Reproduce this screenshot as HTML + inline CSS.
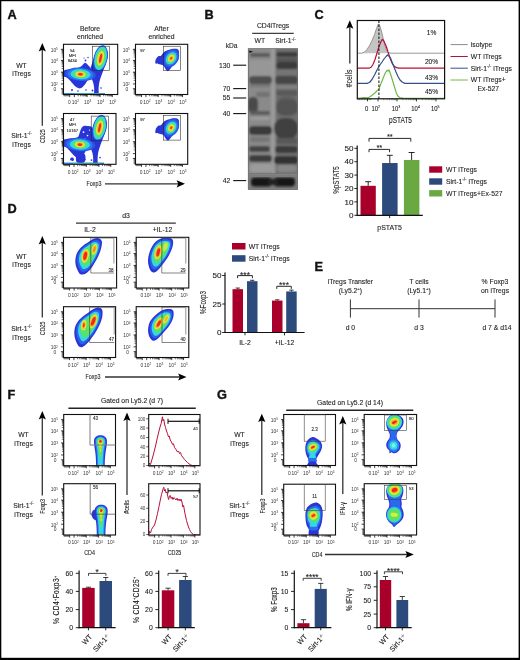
<!DOCTYPE html>
<html><head><meta charset="utf-8"><title>Figure</title>
<style>
html,body{margin:0;padding:0;background:#fff;}
body{width:520px;height:660px;overflow:hidden;font-family:"Liberation Sans", sans-serif;}
svg{display:block;font-family:"Liberation Sans", sans-serif;}
</style></head><body>
<svg width="520" height="660" viewBox="0 0 520 660">
<defs>
<filter id="soft" x="-10%" y="-10%" width="120%" height="120%"><feGaussianBlur stdDeviation="0.45"/></filter>
<filter id="blot" x="-5%" y="-5%" width="110%" height="110%"><feGaussianBlur stdDeviation="1.1"/></filter>
<filter id="txt" x="-5%" y="-5%" width="110%" height="110%"><feGaussianBlur stdDeviation="0.25"/></filter>
</defs>
<rect x="0" y="0" width="520" height="660" fill="#fff"/>
<rect x="0.00" y="0.00" width="520.00" height="1.20" fill="#000" stroke="none" stroke-width="1" />
<rect x="0.00" y="0.00" width="1.30" height="660.00" fill="#000" stroke="none" stroke-width="1" />
<rect x="0.00" y="657.80" width="520.00" height="2.20" fill="#000" stroke="none" stroke-width="1" />
<rect x="518.60" y="0.00" width="1.40" height="660.00" fill="#000" stroke="none" stroke-width="1" />
<text transform="translate(7.50 18.60) scale(1.07 1)" font-size="11.9" text-anchor="start" font-weight="bold" fill="#111" stroke="#111" stroke-width="0.35">A</text>
<text x="90.00" y="30.50" font-size="6.8" text-anchor="middle" font-weight="normal" fill="#222"  stroke="#222" stroke-width="0.1">Before</text>
<text x="90.00" y="39.30" font-size="6.8" text-anchor="middle" font-weight="normal" fill="#222"  stroke="#222" stroke-width="0.1">enriched</text>
<text x="161.50" y="30.50" font-size="6.8" text-anchor="middle" font-weight="normal" fill="#222"  stroke="#222" stroke-width="0.1">After</text>
<text x="161.50" y="39.30" font-size="6.8" text-anchor="middle" font-weight="normal" fill="#222"  stroke="#222" stroke-width="0.1">enriched</text>
<text x="21.50" y="67.50" font-size="6.8" text-anchor="middle" font-weight="normal" fill="#222"  stroke="#222" stroke-width="0.1">WT</text>
<text x="21.50" y="76.30" font-size="6.8" text-anchor="middle" font-weight="normal" fill="#222"  stroke="#222" stroke-width="0.1">iTregs</text>
<text x="21.50" y="138.00" font-size="6.8" text-anchor="middle" font-weight="normal" fill="#222"  stroke="#222" stroke-width="0.1">Sirt-1<tspan dy="-2.6" font-size="4.5">-/-</tspan><tspan dy="2.6" font-size="1">&#8203;</tspan></text>
<text x="21.50" y="146.80" font-size="6.8" text-anchor="middle" font-weight="normal" fill="#222"  stroke="#222" stroke-width="0.1">iTregs</text>
<line x1="42.30" y1="48.88" x2="42.30" y2="125.80" stroke="#333" stroke-width="1.3" />
<path d="M42.30 43.00 L45.90 51.40 L42.30 49.72 L38.70 51.40 Z" fill="#000"/>
<text transform="translate(45.10 136.20) rotate(-90) scale(0.67 1)" font-size="8.0" text-anchor="middle" font-weight="normal" fill="#222"  stroke="#222" stroke-width="0.1">CD25</text>
<text transform="translate(94.00 186.40) scale(0.67 1)" font-size="8.0" text-anchor="middle" font-weight="normal" fill="#222"  stroke="#222" stroke-width="0.1">Foxp3</text>
<line x1="105.00" y1="183.80" x2="179.12" y2="183.80" stroke="#333" stroke-width="1.3" />
<path d="M185.00 183.80 L176.60 180.20 L178.28 183.80 L176.60 187.40 Z" fill="#000"/>
<clipPath id="c1"><rect x="63.5" y="44.3" width="54.2" height="50.2"/></clipPath>
<g filter="url(#soft)" clip-path="url(#c1)">
<path d="M62.50 71.20 C63.75 70.07 67.58 69.50 70.00 69.00 C72.42 68.50 75.08 68.70 77.00 68.20 C78.92 67.70 80.23 66.88 81.50 66.00 C82.77 65.12 83.60 63.15 84.60 62.90 C85.60 62.65 86.43 63.48 87.50 64.50 C88.57 65.52 90.50 67.25 91.00 69.00 C91.50 70.75 91.08 73.08 90.50 75.00 C89.92 76.92 88.58 78.75 87.50 80.50 C86.42 82.25 85.17 84.20 84.00 85.50 C82.83 86.80 81.67 87.95 80.50 88.30 C79.33 88.65 78.17 88.23 77.00 87.60 C75.83 86.97 74.67 85.68 73.50 84.50 C72.33 83.32 71.17 81.67 70.00 80.50 C68.83 79.33 67.75 78.28 66.50 77.50 C65.25 76.72 63.17 76.85 62.50 75.80 C61.83 74.75 61.25 72.33 62.50 71.20 Z" fill="#2b35d8"/>
<path d="M100.80 47.00 C102.13 46.82 104.33 47.58 105.50 48.50 C106.67 49.42 107.45 51.00 107.80 52.50 C108.15 54.00 107.95 55.55 107.60 57.50 C107.25 59.45 106.47 61.92 105.70 64.20 C104.93 66.48 103.82 69.02 103.00 71.20 C102.18 73.38 101.43 75.33 100.80 77.30 C100.17 79.27 99.57 81.05 99.20 83.00 C98.83 84.95 98.73 87.08 98.60 89.00 C98.47 90.92 99.10 93.58 98.40 94.50 C97.70 95.42 95.10 95.42 94.40 94.50 C93.70 93.58 94.33 90.72 94.20 89.00 C94.07 87.28 94.03 85.95 93.60 84.20 C93.17 82.45 92.28 80.20 91.60 78.50 C90.92 76.80 89.72 75.58 89.50 74.00 C89.28 72.42 89.83 70.88 90.30 69.00 C90.77 67.12 91.58 65.03 92.30 62.70 C93.02 60.37 93.73 57.18 94.60 55.00 C95.47 52.82 96.47 50.93 97.50 49.60 C98.53 48.27 99.47 47.18 100.80 47.00 Z" fill="#2b35d8"/>
<circle cx="85.5" cy="60.5" r="0.9" fill="#2b35d8"/>
<circle cx="88" cy="57.5" r="0.7" fill="#2b35d8"/>
<circle cx="84" cy="58" r="0.6" fill="#2b35d8"/>
<circle cx="96" cy="86" r="1.0" fill="#2b35d8"/>
<circle cx="92.5" cy="90.5" r="0.9" fill="#2b35d8"/>
<circle cx="101" cy="88" r="0.8" fill="#2b35d8"/>
<circle cx="86" cy="90" r="0.8" fill="#2b35d8"/>
<circle cx="72" cy="90" r="1.0" fill="#2b35d8"/>
<circle cx="78" cy="91" r="0.8" fill="#2b35d8"/>
<ellipse cx="80.50" cy="74.30" rx="15.50" ry="6.60" fill="#2a55e4" transform="rotate(4 80.50 74.30)"/>
<ellipse cx="80.50" cy="74.30" rx="12.70" ry="6.00" fill="#2a7cf0" transform="rotate(4 80.50 74.30)"/>
<ellipse cx="80.50" cy="74.30" rx="10.00" ry="5.00" fill="#35d7e6" transform="rotate(4 80.50 74.30)"/>
<ellipse cx="80.50" cy="74.30" rx="7.30" ry="3.80" fill="#58e26a" transform="rotate(4 80.50 74.30)"/>
<ellipse cx="80.50" cy="74.30" rx="5.00" ry="2.80" fill="#d8ee3c" transform="rotate(4 80.50 74.30)"/>
<ellipse cx="80.50" cy="74.30" rx="3.60" ry="2.00" fill="#ffb02a" transform="rotate(4 80.50 74.30)"/>
<ellipse cx="80.50" cy="74.30" rx="2.30" ry="1.30" fill="#ee2a1e" transform="rotate(4 80.50 74.30)"/>
<ellipse cx="100.60" cy="58.20" rx="6.90" ry="13.20" fill="#2a55e4" transform="rotate(12 100.60 58.20)"/>
<ellipse cx="100.60" cy="58.20" rx="6.00" ry="12.00" fill="#35d7e6" transform="rotate(12 100.60 58.20)"/>
<ellipse cx="100.60" cy="58.20" rx="4.80" ry="9.80" fill="#58e26a" transform="rotate(12 100.60 58.20)"/>
<ellipse cx="100.60" cy="58.20" rx="3.30" ry="7.40" fill="#d8ee3c" transform="rotate(12 100.60 58.20)"/>
<ellipse cx="100.60" cy="58.20" rx="2.20" ry="5.90" fill="#ffb02a" transform="rotate(12 100.60 58.20)"/>
<ellipse cx="100.60" cy="58.20" rx="1.15" ry="4.60" fill="#ee2a1e" transform="rotate(12 100.60 58.20)"/>
<path d="M63 93.0 L105 93.0 L105 95 L63 95 Z" fill="#3a8df0"/>
<path d="M74 93.6 L101 93.6 L101 95 L74 95 Z" fill="#58d27a"/>
</g>
<line x1="61.70" y1="80.41" x2="63.50" y2="80.41" stroke="#111" stroke-width="0.6" />
<line x1="61.70" y1="78.33" x2="63.50" y2="78.33" stroke="#111" stroke-width="0.6" />
<line x1="61.70" y1="76.86" x2="63.50" y2="76.86" stroke="#111" stroke-width="0.6" />
<line x1="61.70" y1="75.71" x2="63.50" y2="75.71" stroke="#111" stroke-width="0.6" />
<line x1="61.70" y1="74.78" x2="63.50" y2="74.78" stroke="#111" stroke-width="0.6" />
<line x1="61.70" y1="73.99" x2="63.50" y2="73.99" stroke="#111" stroke-width="0.6" />
<line x1="61.70" y1="73.30" x2="63.50" y2="73.30" stroke="#111" stroke-width="0.6" />
<line x1="61.70" y1="72.70" x2="63.50" y2="72.70" stroke="#111" stroke-width="0.6" />
<line x1="61.70" y1="68.61" x2="63.50" y2="68.61" stroke="#111" stroke-width="0.6" />
<line x1="61.70" y1="66.53" x2="63.50" y2="66.53" stroke="#111" stroke-width="0.6" />
<line x1="61.70" y1="65.06" x2="63.50" y2="65.06" stroke="#111" stroke-width="0.6" />
<line x1="61.70" y1="63.92" x2="63.50" y2="63.92" stroke="#111" stroke-width="0.6" />
<line x1="61.70" y1="62.98" x2="63.50" y2="62.98" stroke="#111" stroke-width="0.6" />
<line x1="61.70" y1="62.19" x2="63.50" y2="62.19" stroke="#111" stroke-width="0.6" />
<line x1="61.70" y1="61.51" x2="63.50" y2="61.51" stroke="#111" stroke-width="0.6" />
<line x1="61.70" y1="60.90" x2="63.50" y2="60.90" stroke="#111" stroke-width="0.6" />
<line x1="61.70" y1="57.04" x2="63.50" y2="57.04" stroke="#111" stroke-width="0.6" />
<line x1="61.70" y1="55.09" x2="63.50" y2="55.09" stroke="#111" stroke-width="0.6" />
<line x1="61.70" y1="53.71" x2="63.50" y2="53.71" stroke="#111" stroke-width="0.6" />
<line x1="61.70" y1="52.64" x2="63.50" y2="52.64" stroke="#111" stroke-width="0.6" />
<line x1="61.70" y1="51.77" x2="63.50" y2="51.77" stroke="#111" stroke-width="0.6" />
<line x1="61.70" y1="51.03" x2="63.50" y2="51.03" stroke="#111" stroke-width="0.6" />
<line x1="61.70" y1="50.39" x2="63.50" y2="50.39" stroke="#111" stroke-width="0.6" />
<line x1="61.70" y1="49.83" x2="63.50" y2="49.83" stroke="#111" stroke-width="0.6" />
<line x1="60.90" y1="49.32" x2="63.50" y2="49.32" stroke="#111" stroke-width="0.8" />
<line x1="60.90" y1="60.36" x2="63.50" y2="60.36" stroke="#111" stroke-width="0.8" />
<line x1="60.90" y1="72.16" x2="63.50" y2="72.16" stroke="#111" stroke-width="0.8" />
<line x1="60.90" y1="83.96" x2="63.50" y2="83.96" stroke="#111" stroke-width="0.8" />
<line x1="60.90" y1="88.73" x2="63.50" y2="88.73" stroke="#111" stroke-width="0.8" />
<line x1="61.70" y1="89.48" x2="63.50" y2="89.48" stroke="#111" stroke-width="0.6" />
<line x1="61.70" y1="90.38" x2="63.50" y2="90.38" stroke="#111" stroke-width="0.6" />
<line x1="61.70" y1="91.29" x2="63.50" y2="91.29" stroke="#111" stroke-width="0.6" />
<line x1="61.70" y1="92.19" x2="63.50" y2="92.19" stroke="#111" stroke-width="0.6" />
<line x1="61.70" y1="93.09" x2="63.50" y2="93.09" stroke="#111" stroke-width="0.6" />
<line x1="61.70" y1="94.00" x2="63.50" y2="94.00" stroke="#111" stroke-width="0.6" />
<line x1="78.17" y1="94.50" x2="78.17" y2="96.30" stroke="#111" stroke-width="0.6" />
<line x1="80.42" y1="94.50" x2="80.42" y2="96.30" stroke="#111" stroke-width="0.6" />
<line x1="82.01" y1="94.50" x2="82.01" y2="96.30" stroke="#111" stroke-width="0.6" />
<line x1="83.24" y1="94.50" x2="83.24" y2="96.30" stroke="#111" stroke-width="0.6" />
<line x1="84.25" y1="94.50" x2="84.25" y2="96.30" stroke="#111" stroke-width="0.6" />
<line x1="85.10" y1="94.50" x2="85.10" y2="96.30" stroke="#111" stroke-width="0.6" />
<line x1="85.84" y1="94.50" x2="85.84" y2="96.30" stroke="#111" stroke-width="0.6" />
<line x1="86.49" y1="94.50" x2="86.49" y2="96.30" stroke="#111" stroke-width="0.6" />
<line x1="90.99" y1="94.50" x2="90.99" y2="96.30" stroke="#111" stroke-width="0.6" />
<line x1="93.28" y1="94.50" x2="93.28" y2="96.30" stroke="#111" stroke-width="0.6" />
<line x1="94.91" y1="94.50" x2="94.91" y2="96.30" stroke="#111" stroke-width="0.6" />
<line x1="96.17" y1="94.50" x2="96.17" y2="96.30" stroke="#111" stroke-width="0.6" />
<line x1="97.20" y1="94.50" x2="97.20" y2="96.30" stroke="#111" stroke-width="0.6" />
<line x1="98.07" y1="94.50" x2="98.07" y2="96.30" stroke="#111" stroke-width="0.6" />
<line x1="98.82" y1="94.50" x2="98.82" y2="96.30" stroke="#111" stroke-width="0.6" />
<line x1="99.49" y1="94.50" x2="99.49" y2="96.30" stroke="#111" stroke-width="0.6" />
<line x1="103.76" y1="94.50" x2="103.76" y2="96.30" stroke="#111" stroke-width="0.6" />
<line x1="105.90" y1="94.50" x2="105.90" y2="96.30" stroke="#111" stroke-width="0.6" />
<line x1="107.43" y1="94.50" x2="107.43" y2="96.30" stroke="#111" stroke-width="0.6" />
<line x1="108.61" y1="94.50" x2="108.61" y2="96.30" stroke="#111" stroke-width="0.6" />
<line x1="109.57" y1="94.50" x2="109.57" y2="96.30" stroke="#111" stroke-width="0.6" />
<line x1="110.39" y1="94.50" x2="110.39" y2="96.30" stroke="#111" stroke-width="0.6" />
<line x1="111.10" y1="94.50" x2="111.10" y2="96.30" stroke="#111" stroke-width="0.6" />
<line x1="111.72" y1="94.50" x2="111.72" y2="96.30" stroke="#111" stroke-width="0.6" />
<line x1="74.34" y1="94.50" x2="74.34" y2="97.10" stroke="#111" stroke-width="0.8" />
<line x1="87.08" y1="94.50" x2="87.08" y2="97.10" stroke="#111" stroke-width="0.8" />
<line x1="100.09" y1="94.50" x2="100.09" y2="97.10" stroke="#111" stroke-width="0.8" />
<line x1="112.28" y1="94.50" x2="112.28" y2="97.10" stroke="#111" stroke-width="0.8" />
<line x1="69.73" y1="94.50" x2="69.73" y2="97.10" stroke="#111" stroke-width="0.8" />
<line x1="64.04" y1="94.50" x2="64.04" y2="96.30" stroke="#111" stroke-width="0.6" />
<line x1="65.02" y1="94.50" x2="65.02" y2="96.30" stroke="#111" stroke-width="0.6" />
<line x1="65.99" y1="94.50" x2="65.99" y2="96.30" stroke="#111" stroke-width="0.6" />
<line x1="66.97" y1="94.50" x2="66.97" y2="96.30" stroke="#111" stroke-width="0.6" />
<line x1="67.94" y1="94.50" x2="67.94" y2="96.30" stroke="#111" stroke-width="0.6" />
<line x1="68.92" y1="94.50" x2="68.92" y2="96.30" stroke="#111" stroke-width="0.6" />
<rect x="63.50" y="44.30" width="54.20" height="50.20" fill="none" stroke="#111" stroke-width="1.1" />
<text x="57.90" y="51.82" font-size="4.9" text-anchor="end" font-weight="normal" fill="#333" >10<tspan dy="-1.8" font-size="3.2">5</tspan><tspan dy="1.8" font-size="1">&#8203;</tspan></text>
<text x="57.90" y="62.86" font-size="4.9" text-anchor="end" font-weight="normal" fill="#333" >10<tspan dy="-1.8" font-size="3.2">4</tspan><tspan dy="1.8" font-size="1">&#8203;</tspan></text>
<text x="57.90" y="74.66" font-size="4.9" text-anchor="end" font-weight="normal" fill="#333" >10<tspan dy="-1.8" font-size="3.2">3</tspan><tspan dy="1.8" font-size="1">&#8203;</tspan></text>
<text x="57.90" y="86.46" font-size="4.9" text-anchor="end" font-weight="normal" fill="#333" >10<tspan dy="-1.8" font-size="3.2">2</tspan><tspan dy="1.8" font-size="1">&#8203;</tspan></text>
<text x="56.30" y="90.93" font-size="4.9" text-anchor="end" font-weight="normal" fill="#333" >0</text>
<text x="70.73" y="103.80" font-size="4.9" text-anchor="end" font-weight="normal" fill="#333" >0</text>
<text x="75.34" y="103.80" font-size="4.9" text-anchor="middle" font-weight="normal" fill="#333" >10<tspan dy="-1.8" font-size="3.2">2</tspan><tspan dy="1.8" font-size="1">&#8203;</tspan></text>
<text x="87.58" y="103.80" font-size="4.9" text-anchor="middle" font-weight="normal" fill="#333" >10<tspan dy="-1.8" font-size="3.2">3</tspan><tspan dy="1.8" font-size="1">&#8203;</tspan></text>
<text x="100.59" y="103.80" font-size="4.9" text-anchor="middle" font-weight="normal" fill="#333" >10<tspan dy="-1.8" font-size="3.2">4</tspan><tspan dy="1.8" font-size="1">&#8203;</tspan></text>
<text x="112.78" y="103.80" font-size="4.9" text-anchor="middle" font-weight="normal" fill="#333" >10<tspan dy="-1.8" font-size="3.2">5</tspan><tspan dy="1.8" font-size="1">&#8203;</tspan></text>
<rect x="92.30" y="46.20" width="17.40" height="24.50" fill="none" stroke="#222" stroke-width="0.55" />
<text x="72.30" y="51.60" font-size="4.2" text-anchor="middle" font-weight="normal" fill="#222" stroke="#444" stroke-width="0.12">54</text>
<text x="72.30" y="56.80" font-size="4.2" text-anchor="middle" font-weight="normal" fill="#222" stroke="#444" stroke-width="0.12">MFI</text>
<text x="72.30" y="62.10" font-size="4.2" text-anchor="middle" font-weight="normal" fill="#222" stroke="#444" stroke-width="0.12">9434</text>
<g filter="url(#soft)">
<path d="M164.38 51.85 C166.03 50.79 168.87 49.78 170.98 49.32 C173.09 48.86 175.69 48.68 177.03 49.10 C178.37 49.52 178.83 50.57 179.01 51.85 C179.19 53.13 178.74 55.06 178.13 56.80 C177.52 58.54 176.48 60.56 175.38 62.30 C174.28 64.04 172.72 65.78 171.53 67.25 C170.34 68.72 169.18 70.73 168.23 71.10 C167.28 71.47 166.63 70.37 165.81 69.45 C164.99 68.53 164.34 66.46 163.28 65.60 C162.22 64.74 160.71 64.61 159.43 64.28 C158.15 63.95 156.19 64.41 155.58 63.62 C154.98 62.83 155.34 60.78 155.80 59.55 C156.26 58.32 157.45 56.89 158.33 56.25 C159.21 55.61 160.07 56.43 161.08 55.70 C162.09 54.97 162.73 52.91 164.38 51.85 Z" fill="#2b35d8"/>
<ellipse cx="171.20" cy="58.30" rx="7.20" ry="9.80" fill="#2a55e4" transform="rotate(32 171.20 58.30)"/>
<ellipse cx="171.20" cy="58.30" rx="5.90" ry="8.04" fill="#2a7cf0" transform="rotate(32 171.20 58.30)"/>
<ellipse cx="171.20" cy="58.30" rx="4.75" ry="6.47" fill="#35d7e6" transform="rotate(32 171.20 58.30)"/>
<ellipse cx="171.20" cy="58.30" rx="3.74" ry="5.10" fill="#58e26a" transform="rotate(32 171.20 58.30)"/>
<ellipse cx="171.20" cy="58.30" rx="2.81" ry="3.82" fill="#d8ee3c" transform="rotate(32 171.20 58.30)"/>
<ellipse cx="171.20" cy="58.30" rx="1.94" ry="2.65" fill="#ffb02a" transform="rotate(32 171.20 58.30)"/>
<ellipse cx="171.20" cy="58.30" rx="0.94" ry="1.27" fill="#ee2a1e" transform="rotate(32 171.20 58.30)"/>
</g>
<line x1="133.70" y1="80.41" x2="135.50" y2="80.41" stroke="#111" stroke-width="0.6" />
<line x1="133.70" y1="78.33" x2="135.50" y2="78.33" stroke="#111" stroke-width="0.6" />
<line x1="133.70" y1="76.86" x2="135.50" y2="76.86" stroke="#111" stroke-width="0.6" />
<line x1="133.70" y1="75.71" x2="135.50" y2="75.71" stroke="#111" stroke-width="0.6" />
<line x1="133.70" y1="74.78" x2="135.50" y2="74.78" stroke="#111" stroke-width="0.6" />
<line x1="133.70" y1="73.99" x2="135.50" y2="73.99" stroke="#111" stroke-width="0.6" />
<line x1="133.70" y1="73.30" x2="135.50" y2="73.30" stroke="#111" stroke-width="0.6" />
<line x1="133.70" y1="72.70" x2="135.50" y2="72.70" stroke="#111" stroke-width="0.6" />
<line x1="133.70" y1="68.61" x2="135.50" y2="68.61" stroke="#111" stroke-width="0.6" />
<line x1="133.70" y1="66.53" x2="135.50" y2="66.53" stroke="#111" stroke-width="0.6" />
<line x1="133.70" y1="65.06" x2="135.50" y2="65.06" stroke="#111" stroke-width="0.6" />
<line x1="133.70" y1="63.92" x2="135.50" y2="63.92" stroke="#111" stroke-width="0.6" />
<line x1="133.70" y1="62.98" x2="135.50" y2="62.98" stroke="#111" stroke-width="0.6" />
<line x1="133.70" y1="62.19" x2="135.50" y2="62.19" stroke="#111" stroke-width="0.6" />
<line x1="133.70" y1="61.51" x2="135.50" y2="61.51" stroke="#111" stroke-width="0.6" />
<line x1="133.70" y1="60.90" x2="135.50" y2="60.90" stroke="#111" stroke-width="0.6" />
<line x1="133.70" y1="57.04" x2="135.50" y2="57.04" stroke="#111" stroke-width="0.6" />
<line x1="133.70" y1="55.09" x2="135.50" y2="55.09" stroke="#111" stroke-width="0.6" />
<line x1="133.70" y1="53.71" x2="135.50" y2="53.71" stroke="#111" stroke-width="0.6" />
<line x1="133.70" y1="52.64" x2="135.50" y2="52.64" stroke="#111" stroke-width="0.6" />
<line x1="133.70" y1="51.77" x2="135.50" y2="51.77" stroke="#111" stroke-width="0.6" />
<line x1="133.70" y1="51.03" x2="135.50" y2="51.03" stroke="#111" stroke-width="0.6" />
<line x1="133.70" y1="50.39" x2="135.50" y2="50.39" stroke="#111" stroke-width="0.6" />
<line x1="133.70" y1="49.83" x2="135.50" y2="49.83" stroke="#111" stroke-width="0.6" />
<line x1="132.90" y1="49.32" x2="135.50" y2="49.32" stroke="#111" stroke-width="0.8" />
<line x1="132.90" y1="60.36" x2="135.50" y2="60.36" stroke="#111" stroke-width="0.8" />
<line x1="132.90" y1="72.16" x2="135.50" y2="72.16" stroke="#111" stroke-width="0.8" />
<line x1="132.90" y1="83.96" x2="135.50" y2="83.96" stroke="#111" stroke-width="0.8" />
<line x1="132.90" y1="88.73" x2="135.50" y2="88.73" stroke="#111" stroke-width="0.8" />
<line x1="133.70" y1="89.48" x2="135.50" y2="89.48" stroke="#111" stroke-width="0.6" />
<line x1="133.70" y1="90.38" x2="135.50" y2="90.38" stroke="#111" stroke-width="0.6" />
<line x1="133.70" y1="91.29" x2="135.50" y2="91.29" stroke="#111" stroke-width="0.6" />
<line x1="133.70" y1="92.19" x2="135.50" y2="92.19" stroke="#111" stroke-width="0.6" />
<line x1="133.70" y1="93.09" x2="135.50" y2="93.09" stroke="#111" stroke-width="0.6" />
<line x1="133.70" y1="94.00" x2="135.50" y2="94.00" stroke="#111" stroke-width="0.6" />
<line x1="149.63" y1="94.50" x2="149.63" y2="96.30" stroke="#111" stroke-width="0.6" />
<line x1="151.79" y1="94.50" x2="151.79" y2="96.30" stroke="#111" stroke-width="0.6" />
<line x1="153.33" y1="94.50" x2="153.33" y2="96.30" stroke="#111" stroke-width="0.6" />
<line x1="154.51" y1="94.50" x2="154.51" y2="96.30" stroke="#111" stroke-width="0.6" />
<line x1="155.49" y1="94.50" x2="155.49" y2="96.30" stroke="#111" stroke-width="0.6" />
<line x1="156.31" y1="94.50" x2="156.31" y2="96.30" stroke="#111" stroke-width="0.6" />
<line x1="157.02" y1="94.50" x2="157.02" y2="96.30" stroke="#111" stroke-width="0.6" />
<line x1="157.65" y1="94.50" x2="157.65" y2="96.30" stroke="#111" stroke-width="0.6" />
<line x1="161.98" y1="94.50" x2="161.98" y2="96.30" stroke="#111" stroke-width="0.6" />
<line x1="164.18" y1="94.50" x2="164.18" y2="96.30" stroke="#111" stroke-width="0.6" />
<line x1="165.75" y1="94.50" x2="165.75" y2="96.30" stroke="#111" stroke-width="0.6" />
<line x1="166.96" y1="94.50" x2="166.96" y2="96.30" stroke="#111" stroke-width="0.6" />
<line x1="167.96" y1="94.50" x2="167.96" y2="96.30" stroke="#111" stroke-width="0.6" />
<line x1="168.79" y1="94.50" x2="168.79" y2="96.30" stroke="#111" stroke-width="0.6" />
<line x1="169.52" y1="94.50" x2="169.52" y2="96.30" stroke="#111" stroke-width="0.6" />
<line x1="170.16" y1="94.50" x2="170.16" y2="96.30" stroke="#111" stroke-width="0.6" />
<line x1="174.27" y1="94.50" x2="174.27" y2="96.30" stroke="#111" stroke-width="0.6" />
<line x1="176.34" y1="94.50" x2="176.34" y2="96.30" stroke="#111" stroke-width="0.6" />
<line x1="177.81" y1="94.50" x2="177.81" y2="96.30" stroke="#111" stroke-width="0.6" />
<line x1="178.94" y1="94.50" x2="178.94" y2="96.30" stroke="#111" stroke-width="0.6" />
<line x1="179.87" y1="94.50" x2="179.87" y2="96.30" stroke="#111" stroke-width="0.6" />
<line x1="180.66" y1="94.50" x2="180.66" y2="96.30" stroke="#111" stroke-width="0.6" />
<line x1="181.34" y1="94.50" x2="181.34" y2="96.30" stroke="#111" stroke-width="0.6" />
<line x1="181.94" y1="94.50" x2="181.94" y2="96.30" stroke="#111" stroke-width="0.6" />
<line x1="145.94" y1="94.50" x2="145.94" y2="97.10" stroke="#111" stroke-width="0.8" />
<line x1="158.21" y1="94.50" x2="158.21" y2="97.10" stroke="#111" stroke-width="0.8" />
<line x1="170.73" y1="94.50" x2="170.73" y2="97.10" stroke="#111" stroke-width="0.8" />
<line x1="182.48" y1="94.50" x2="182.48" y2="97.10" stroke="#111" stroke-width="0.8" />
<line x1="141.50" y1="94.50" x2="141.50" y2="97.10" stroke="#111" stroke-width="0.8" />
<line x1="136.02" y1="94.50" x2="136.02" y2="96.30" stroke="#111" stroke-width="0.6" />
<line x1="136.96" y1="94.50" x2="136.96" y2="96.30" stroke="#111" stroke-width="0.6" />
<line x1="137.90" y1="94.50" x2="137.90" y2="96.30" stroke="#111" stroke-width="0.6" />
<line x1="138.84" y1="94.50" x2="138.84" y2="96.30" stroke="#111" stroke-width="0.6" />
<line x1="139.78" y1="94.50" x2="139.78" y2="96.30" stroke="#111" stroke-width="0.6" />
<line x1="140.72" y1="94.50" x2="140.72" y2="96.30" stroke="#111" stroke-width="0.6" />
<rect x="135.50" y="44.30" width="52.20" height="50.20" fill="none" stroke="#111" stroke-width="1.1" />
<text x="129.90" y="51.82" font-size="4.9" text-anchor="end" font-weight="normal" fill="#333" >10<tspan dy="-1.8" font-size="3.2">5</tspan><tspan dy="1.8" font-size="1">&#8203;</tspan></text>
<text x="129.90" y="62.86" font-size="4.9" text-anchor="end" font-weight="normal" fill="#333" >10<tspan dy="-1.8" font-size="3.2">4</tspan><tspan dy="1.8" font-size="1">&#8203;</tspan></text>
<text x="129.90" y="74.66" font-size="4.9" text-anchor="end" font-weight="normal" fill="#333" >10<tspan dy="-1.8" font-size="3.2">3</tspan><tspan dy="1.8" font-size="1">&#8203;</tspan></text>
<text x="129.90" y="86.46" font-size="4.9" text-anchor="end" font-weight="normal" fill="#333" >10<tspan dy="-1.8" font-size="3.2">2</tspan><tspan dy="1.8" font-size="1">&#8203;</tspan></text>
<text x="128.30" y="90.93" font-size="4.9" text-anchor="end" font-weight="normal" fill="#333" >0</text>
<text x="142.50" y="103.80" font-size="4.9" text-anchor="end" font-weight="normal" fill="#333" >0</text>
<text x="146.94" y="103.80" font-size="4.9" text-anchor="middle" font-weight="normal" fill="#333" >10<tspan dy="-1.8" font-size="3.2">2</tspan><tspan dy="1.8" font-size="1">&#8203;</tspan></text>
<text x="158.71" y="103.80" font-size="4.9" text-anchor="middle" font-weight="normal" fill="#333" >10<tspan dy="-1.8" font-size="3.2">3</tspan><tspan dy="1.8" font-size="1">&#8203;</tspan></text>
<text x="171.23" y="103.80" font-size="4.9" text-anchor="middle" font-weight="normal" fill="#333" >10<tspan dy="-1.8" font-size="3.2">4</tspan><tspan dy="1.8" font-size="1">&#8203;</tspan></text>
<text x="182.98" y="103.80" font-size="4.9" text-anchor="middle" font-weight="normal" fill="#333" >10<tspan dy="-1.8" font-size="3.2">5</tspan><tspan dy="1.8" font-size="1">&#8203;</tspan></text>
<rect x="163.40" y="46.20" width="17.00" height="24.30" fill="none" stroke="#222" stroke-width="0.55" />
<text x="142.50" y="51.60" font-size="4.2" text-anchor="middle" font-weight="normal" fill="#222" stroke="#444" stroke-width="0.12">97</text>
<clipPath id="c2"><rect x="62.5" y="113.89999999999999" width="54.2" height="50.2"/></clipPath>
<g filter="url(#soft)" clip-path="url(#c2)">
<path d="M61.50 140.80 C62.75 139.67 66.58 139.10 69.00 138.60 C71.42 138.10 74.08 138.30 76.00 137.80 C77.92 137.30 79.23 136.48 80.50 135.60 C81.77 134.72 82.60 132.75 83.60 132.50 C84.60 132.25 85.43 133.08 86.50 134.10 C87.57 135.12 89.50 136.85 90.00 138.60 C90.50 140.35 90.08 142.68 89.50 144.60 C88.92 146.52 87.58 148.35 86.50 150.10 C85.42 151.85 84.17 153.80 83.00 155.10 C81.83 156.40 80.67 157.55 79.50 157.90 C78.33 158.25 77.17 157.83 76.00 157.20 C74.83 156.57 73.67 155.28 72.50 154.10 C71.33 152.92 70.17 151.27 69.00 150.10 C67.83 148.93 66.75 147.88 65.50 147.10 C64.25 146.32 62.17 146.45 61.50 145.40 C60.83 144.35 60.25 141.93 61.50 140.80 Z" fill="#2b35d8"/>
<path d="M99.80 116.60 C101.13 116.42 103.33 117.18 104.50 118.10 C105.67 119.02 106.45 120.60 106.80 122.10 C107.15 123.60 106.95 125.15 106.60 127.10 C106.25 129.05 105.47 131.52 104.70 133.80 C103.93 136.08 102.82 138.62 102.00 140.80 C101.18 142.98 100.43 144.93 99.80 146.90 C99.17 148.87 98.57 150.65 98.20 152.60 C97.83 154.55 97.73 156.68 97.60 158.60 C97.47 160.52 98.10 163.18 97.40 164.10 C96.70 165.02 94.10 165.02 93.40 164.10 C92.70 163.18 93.33 160.32 93.20 158.60 C93.07 156.88 93.03 155.55 92.60 153.80 C92.17 152.05 91.28 149.80 90.60 148.10 C89.92 146.40 88.72 145.18 88.50 143.60 C88.28 142.02 88.83 140.48 89.30 138.60 C89.77 136.72 90.58 134.63 91.30 132.30 C92.02 129.97 92.73 126.78 93.60 124.60 C94.47 122.42 95.47 120.53 96.50 119.20 C97.53 117.87 98.47 116.78 99.80 116.60 Z" fill="#2b35d8"/>
<path d="M78.50 140.10 C77.25 138.43 79.00 135.60 79.50 133.60 C80.00 131.60 80.67 129.40 81.50 128.10 C82.33 126.80 83.33 126.13 84.50 125.80 C85.67 125.47 87.25 125.80 88.50 126.10 C89.75 126.40 91.25 126.02 92.00 127.60 C92.75 129.18 93.00 133.10 93.00 135.60 C93.00 138.10 93.00 141.27 92.00 142.60 C91.00 143.93 89.25 144.02 87.00 143.60 C84.75 143.18 79.75 141.77 78.50 140.10 Z" fill="#2b35d8"/>
<circle cx="83.5" cy="132.1" r="0.9" fill="#fff"/>
<circle cx="87.5" cy="135.6" r="0.8" fill="#fff"/>
<circle cx="85.0" cy="139.1" r="0.7" fill="#fff"/>
<circle cx="89.5" cy="130.1" r="0.6" fill="#fff"/>
<path d="M76.00 155.60 C76.17 154.10 76.67 153.93 78.00 153.60 C79.33 153.27 82.75 152.93 84.00 153.60 C85.25 154.27 85.50 156.10 85.50 157.60 C85.50 159.10 85.42 161.77 84.00 162.60 C82.58 163.43 78.33 163.77 77.00 162.60 C75.67 161.43 75.83 157.10 76.00 155.60 Z" fill="#2b35d8"/>
<path d="M70.50 158.10 C70.67 157.52 72.42 157.27 73.00 157.60 C73.58 157.93 74.17 159.52 74.00 160.10 C73.83 160.68 72.58 161.43 72.00 161.10 C71.42 160.77 70.33 158.68 70.50 158.10 Z" fill="#2b35d8"/>
<circle cx="84.5" cy="130.1" r="0.9" fill="#2b35d8"/>
<circle cx="87.0" cy="127.1" r="0.7" fill="#2b35d8"/>
<circle cx="83.0" cy="127.6" r="0.6" fill="#2b35d8"/>
<circle cx="95.0" cy="155.6" r="1.0" fill="#2b35d8"/>
<circle cx="91.5" cy="160.1" r="0.9" fill="#2b35d8"/>
<circle cx="100.0" cy="157.6" r="0.8" fill="#2b35d8"/>
<circle cx="85.0" cy="159.6" r="0.8" fill="#2b35d8"/>
<circle cx="71.0" cy="159.6" r="1.0" fill="#2b35d8"/>
<circle cx="77.0" cy="160.6" r="0.8" fill="#2b35d8"/>
<ellipse cx="79.90" cy="144.60" rx="15.50" ry="6.60" fill="#2a55e4" transform="rotate(4 79.90 144.60)"/>
<ellipse cx="79.90" cy="144.60" rx="12.70" ry="6.00" fill="#2a7cf0" transform="rotate(4 79.90 144.60)"/>
<ellipse cx="79.90" cy="144.60" rx="10.00" ry="5.00" fill="#35d7e6" transform="rotate(4 79.90 144.60)"/>
<ellipse cx="79.90" cy="144.60" rx="7.30" ry="3.80" fill="#58e26a" transform="rotate(4 79.90 144.60)"/>
<ellipse cx="79.90" cy="144.60" rx="5.00" ry="2.80" fill="#d8ee3c" transform="rotate(4 79.90 144.60)"/>
<ellipse cx="79.90" cy="144.60" rx="3.60" ry="2.00" fill="#ffb02a" transform="rotate(4 79.90 144.60)"/>
<ellipse cx="79.90" cy="144.60" rx="2.30" ry="1.30" fill="#ee2a1e" transform="rotate(4 79.90 144.60)"/>
<ellipse cx="99.60" cy="127.80" rx="6.90" ry="13.20" fill="#2a55e4" transform="rotate(12 99.60 127.80)"/>
<ellipse cx="99.60" cy="127.80" rx="6.00" ry="12.00" fill="#35d7e6" transform="rotate(12 99.60 127.80)"/>
<ellipse cx="99.60" cy="127.80" rx="4.80" ry="9.80" fill="#58e26a" transform="rotate(12 99.60 127.80)"/>
<ellipse cx="99.60" cy="127.80" rx="3.30" ry="7.40" fill="#d8ee3c" transform="rotate(12 99.60 127.80)"/>
<ellipse cx="99.60" cy="127.80" rx="2.20" ry="5.90" fill="#ffb02a" transform="rotate(12 99.60 127.80)"/>
<ellipse cx="99.60" cy="127.80" rx="1.15" ry="4.60" fill="#ee2a1e" transform="rotate(12 99.60 127.80)"/>
<path d="M62.0 162.6 L104.0 162.6 L104.0 164.6 L62.0 164.6 Z" fill="#3a8df0"/>
<path d="M73.0 163.2 L100.0 163.2 L100.0 164.6 L73.0 164.6 Z" fill="#58d27a"/>
</g>
<line x1="61.70" y1="150.04" x2="63.50" y2="150.04" stroke="#111" stroke-width="0.6" />
<line x1="61.70" y1="147.94" x2="63.50" y2="147.94" stroke="#111" stroke-width="0.6" />
<line x1="61.70" y1="146.44" x2="63.50" y2="146.44" stroke="#111" stroke-width="0.6" />
<line x1="61.70" y1="145.29" x2="63.50" y2="145.29" stroke="#111" stroke-width="0.6" />
<line x1="61.70" y1="144.34" x2="63.50" y2="144.34" stroke="#111" stroke-width="0.6" />
<line x1="61.70" y1="143.54" x2="63.50" y2="143.54" stroke="#111" stroke-width="0.6" />
<line x1="61.70" y1="142.85" x2="63.50" y2="142.85" stroke="#111" stroke-width="0.6" />
<line x1="61.70" y1="142.24" x2="63.50" y2="142.24" stroke="#111" stroke-width="0.6" />
<line x1="61.70" y1="138.10" x2="63.50" y2="138.10" stroke="#111" stroke-width="0.6" />
<line x1="61.70" y1="136.00" x2="63.50" y2="136.00" stroke="#111" stroke-width="0.6" />
<line x1="61.70" y1="134.51" x2="63.50" y2="134.51" stroke="#111" stroke-width="0.6" />
<line x1="61.70" y1="133.35" x2="63.50" y2="133.35" stroke="#111" stroke-width="0.6" />
<line x1="61.70" y1="132.40" x2="63.50" y2="132.40" stroke="#111" stroke-width="0.6" />
<line x1="61.70" y1="131.61" x2="63.50" y2="131.61" stroke="#111" stroke-width="0.6" />
<line x1="61.70" y1="130.91" x2="63.50" y2="130.91" stroke="#111" stroke-width="0.6" />
<line x1="61.70" y1="130.30" x2="63.50" y2="130.30" stroke="#111" stroke-width="0.6" />
<line x1="61.70" y1="126.39" x2="63.50" y2="126.39" stroke="#111" stroke-width="0.6" />
<line x1="61.70" y1="124.42" x2="63.50" y2="124.42" stroke="#111" stroke-width="0.6" />
<line x1="61.70" y1="123.03" x2="63.50" y2="123.03" stroke="#111" stroke-width="0.6" />
<line x1="61.70" y1="121.94" x2="63.50" y2="121.94" stroke="#111" stroke-width="0.6" />
<line x1="61.70" y1="121.06" x2="63.50" y2="121.06" stroke="#111" stroke-width="0.6" />
<line x1="61.70" y1="120.31" x2="63.50" y2="120.31" stroke="#111" stroke-width="0.6" />
<line x1="61.70" y1="119.66" x2="63.50" y2="119.66" stroke="#111" stroke-width="0.6" />
<line x1="61.70" y1="119.09" x2="63.50" y2="119.09" stroke="#111" stroke-width="0.6" />
<line x1="60.90" y1="118.58" x2="63.50" y2="118.58" stroke="#111" stroke-width="0.8" />
<line x1="60.90" y1="129.76" x2="63.50" y2="129.76" stroke="#111" stroke-width="0.8" />
<line x1="60.90" y1="141.69" x2="63.50" y2="141.69" stroke="#111" stroke-width="0.8" />
<line x1="60.90" y1="153.63" x2="63.50" y2="153.63" stroke="#111" stroke-width="0.8" />
<line x1="60.90" y1="158.46" x2="63.50" y2="158.46" stroke="#111" stroke-width="0.8" />
<line x1="61.70" y1="159.22" x2="63.50" y2="159.22" stroke="#111" stroke-width="0.6" />
<line x1="61.70" y1="160.13" x2="63.50" y2="160.13" stroke="#111" stroke-width="0.6" />
<line x1="61.70" y1="161.05" x2="63.50" y2="161.05" stroke="#111" stroke-width="0.6" />
<line x1="61.70" y1="161.96" x2="63.50" y2="161.96" stroke="#111" stroke-width="0.6" />
<line x1="61.70" y1="162.88" x2="63.50" y2="162.88" stroke="#111" stroke-width="0.6" />
<line x1="61.70" y1="163.79" x2="63.50" y2="163.79" stroke="#111" stroke-width="0.6" />
<line x1="77.71" y1="164.30" x2="77.71" y2="166.10" stroke="#111" stroke-width="0.6" />
<line x1="79.89" y1="164.30" x2="79.89" y2="166.10" stroke="#111" stroke-width="0.6" />
<line x1="81.43" y1="164.30" x2="81.43" y2="166.10" stroke="#111" stroke-width="0.6" />
<line x1="82.62" y1="164.30" x2="82.62" y2="166.10" stroke="#111" stroke-width="0.6" />
<line x1="83.60" y1="164.30" x2="83.60" y2="166.10" stroke="#111" stroke-width="0.6" />
<line x1="84.43" y1="164.30" x2="84.43" y2="166.10" stroke="#111" stroke-width="0.6" />
<line x1="85.14" y1="164.30" x2="85.14" y2="166.10" stroke="#111" stroke-width="0.6" />
<line x1="85.77" y1="164.30" x2="85.77" y2="166.10" stroke="#111" stroke-width="0.6" />
<line x1="90.13" y1="164.30" x2="90.13" y2="166.10" stroke="#111" stroke-width="0.6" />
<line x1="92.35" y1="164.30" x2="92.35" y2="166.10" stroke="#111" stroke-width="0.6" />
<line x1="93.92" y1="164.30" x2="93.92" y2="166.10" stroke="#111" stroke-width="0.6" />
<line x1="95.14" y1="164.30" x2="95.14" y2="166.10" stroke="#111" stroke-width="0.6" />
<line x1="96.14" y1="164.30" x2="96.14" y2="166.10" stroke="#111" stroke-width="0.6" />
<line x1="96.99" y1="164.30" x2="96.99" y2="166.10" stroke="#111" stroke-width="0.6" />
<line x1="97.72" y1="164.30" x2="97.72" y2="166.10" stroke="#111" stroke-width="0.6" />
<line x1="98.36" y1="164.30" x2="98.36" y2="166.10" stroke="#111" stroke-width="0.6" />
<line x1="102.49" y1="164.30" x2="102.49" y2="166.10" stroke="#111" stroke-width="0.6" />
<line x1="104.57" y1="164.30" x2="104.57" y2="166.10" stroke="#111" stroke-width="0.6" />
<line x1="106.05" y1="164.30" x2="106.05" y2="166.10" stroke="#111" stroke-width="0.6" />
<line x1="107.19" y1="164.30" x2="107.19" y2="166.10" stroke="#111" stroke-width="0.6" />
<line x1="108.13" y1="164.30" x2="108.13" y2="166.10" stroke="#111" stroke-width="0.6" />
<line x1="108.92" y1="164.30" x2="108.92" y2="166.10" stroke="#111" stroke-width="0.6" />
<line x1="109.61" y1="164.30" x2="109.61" y2="166.10" stroke="#111" stroke-width="0.6" />
<line x1="110.21" y1="164.30" x2="110.21" y2="166.10" stroke="#111" stroke-width="0.6" />
<line x1="74.00" y1="164.30" x2="74.00" y2="166.90" stroke="#111" stroke-width="0.8" />
<line x1="86.34" y1="164.30" x2="86.34" y2="166.90" stroke="#111" stroke-width="0.8" />
<line x1="98.94" y1="164.30" x2="98.94" y2="166.90" stroke="#111" stroke-width="0.8" />
<line x1="110.75" y1="164.30" x2="110.75" y2="166.90" stroke="#111" stroke-width="0.8" />
<line x1="69.54" y1="164.30" x2="69.54" y2="166.90" stroke="#111" stroke-width="0.8" />
<line x1="64.03" y1="164.30" x2="64.03" y2="166.10" stroke="#111" stroke-width="0.6" />
<line x1="64.97" y1="164.30" x2="64.97" y2="166.10" stroke="#111" stroke-width="0.6" />
<line x1="65.92" y1="164.30" x2="65.92" y2="166.10" stroke="#111" stroke-width="0.6" />
<line x1="66.86" y1="164.30" x2="66.86" y2="166.10" stroke="#111" stroke-width="0.6" />
<line x1="67.81" y1="164.30" x2="67.81" y2="166.10" stroke="#111" stroke-width="0.6" />
<line x1="68.75" y1="164.30" x2="68.75" y2="166.10" stroke="#111" stroke-width="0.6" />
<rect x="63.50" y="113.50" width="52.50" height="50.80" fill="none" stroke="#111" stroke-width="1.1" />
<text x="57.90" y="121.08" font-size="4.9" text-anchor="end" font-weight="normal" fill="#333" >10<tspan dy="-1.8" font-size="3.2">5</tspan><tspan dy="1.8" font-size="1">&#8203;</tspan></text>
<text x="57.90" y="132.26" font-size="4.9" text-anchor="end" font-weight="normal" fill="#333" >10<tspan dy="-1.8" font-size="3.2">4</tspan><tspan dy="1.8" font-size="1">&#8203;</tspan></text>
<text x="57.90" y="144.19" font-size="4.9" text-anchor="end" font-weight="normal" fill="#333" >10<tspan dy="-1.8" font-size="3.2">3</tspan><tspan dy="1.8" font-size="1">&#8203;</tspan></text>
<text x="57.90" y="156.13" font-size="4.9" text-anchor="end" font-weight="normal" fill="#333" >10<tspan dy="-1.8" font-size="3.2">2</tspan><tspan dy="1.8" font-size="1">&#8203;</tspan></text>
<text x="56.30" y="160.66" font-size="4.9" text-anchor="end" font-weight="normal" fill="#333" >0</text>
<text x="70.54" y="173.60" font-size="4.9" text-anchor="end" font-weight="normal" fill="#333" >0</text>
<text x="75.00" y="173.60" font-size="4.9" text-anchor="middle" font-weight="normal" fill="#333" >10<tspan dy="-1.8" font-size="3.2">2</tspan><tspan dy="1.8" font-size="1">&#8203;</tspan></text>
<text x="86.84" y="173.60" font-size="4.9" text-anchor="middle" font-weight="normal" fill="#333" >10<tspan dy="-1.8" font-size="3.2">3</tspan><tspan dy="1.8" font-size="1">&#8203;</tspan></text>
<text x="99.44" y="173.60" font-size="4.9" text-anchor="middle" font-weight="normal" fill="#333" >10<tspan dy="-1.8" font-size="3.2">4</tspan><tspan dy="1.8" font-size="1">&#8203;</tspan></text>
<text x="111.25" y="173.60" font-size="4.9" text-anchor="middle" font-weight="normal" fill="#333" >10<tspan dy="-1.8" font-size="3.2">5</tspan><tspan dy="1.8" font-size="1">&#8203;</tspan></text>
<rect x="91.20" y="116.10" width="17.30" height="24.70" fill="none" stroke="#222" stroke-width="0.55" />
<text x="72.30" y="121.00" font-size="4.2" text-anchor="middle" font-weight="normal" fill="#222" stroke="#444" stroke-width="0.12">47</text>
<text x="72.30" y="126.20" font-size="4.2" text-anchor="middle" font-weight="normal" fill="#222" stroke="#444" stroke-width="0.12">MFI</text>
<text x="72.30" y="131.50" font-size="4.2" text-anchor="middle" font-weight="normal" fill="#222" stroke="#444" stroke-width="0.12">10167</text>
<g filter="url(#soft)">
<path d="M164.38 121.25 C166.03 120.19 168.87 119.18 170.98 118.72 C173.09 118.26 175.69 118.08 177.03 118.50 C178.37 118.92 178.83 119.97 179.01 121.25 C179.19 122.53 178.74 124.46 178.13 126.20 C177.52 127.94 176.48 129.96 175.38 131.70 C174.28 133.44 172.72 135.18 171.53 136.65 C170.34 138.12 169.18 140.13 168.23 140.50 C167.28 140.87 166.63 139.77 165.81 138.85 C164.99 137.93 164.34 135.86 163.28 135.00 C162.22 134.14 160.71 134.01 159.43 133.68 C158.15 133.35 156.19 133.81 155.58 133.02 C154.98 132.23 155.34 130.18 155.80 128.95 C156.26 127.72 157.45 126.29 158.33 125.65 C159.21 125.01 160.07 125.83 161.08 125.10 C162.09 124.37 162.73 122.31 164.38 121.25 Z" fill="#2b35d8"/>
<ellipse cx="171.20" cy="127.70" rx="7.20" ry="9.80" fill="#2a55e4" transform="rotate(32 171.20 127.70)"/>
<ellipse cx="171.20" cy="127.70" rx="5.90" ry="8.04" fill="#2a7cf0" transform="rotate(32 171.20 127.70)"/>
<ellipse cx="171.20" cy="127.70" rx="4.75" ry="6.47" fill="#35d7e6" transform="rotate(32 171.20 127.70)"/>
<ellipse cx="171.20" cy="127.70" rx="3.74" ry="5.10" fill="#58e26a" transform="rotate(32 171.20 127.70)"/>
<ellipse cx="171.20" cy="127.70" rx="2.81" ry="3.82" fill="#d8ee3c" transform="rotate(32 171.20 127.70)"/>
<ellipse cx="171.20" cy="127.70" rx="1.94" ry="2.65" fill="#ffb02a" transform="rotate(32 171.20 127.70)"/>
<ellipse cx="171.20" cy="127.70" rx="0.94" ry="1.27" fill="#ee2a1e" transform="rotate(32 171.20 127.70)"/>
</g>
<line x1="133.70" y1="150.04" x2="135.50" y2="150.04" stroke="#111" stroke-width="0.6" />
<line x1="133.70" y1="147.94" x2="135.50" y2="147.94" stroke="#111" stroke-width="0.6" />
<line x1="133.70" y1="146.44" x2="135.50" y2="146.44" stroke="#111" stroke-width="0.6" />
<line x1="133.70" y1="145.29" x2="135.50" y2="145.29" stroke="#111" stroke-width="0.6" />
<line x1="133.70" y1="144.34" x2="135.50" y2="144.34" stroke="#111" stroke-width="0.6" />
<line x1="133.70" y1="143.54" x2="135.50" y2="143.54" stroke="#111" stroke-width="0.6" />
<line x1="133.70" y1="142.85" x2="135.50" y2="142.85" stroke="#111" stroke-width="0.6" />
<line x1="133.70" y1="142.24" x2="135.50" y2="142.24" stroke="#111" stroke-width="0.6" />
<line x1="133.70" y1="138.10" x2="135.50" y2="138.10" stroke="#111" stroke-width="0.6" />
<line x1="133.70" y1="136.00" x2="135.50" y2="136.00" stroke="#111" stroke-width="0.6" />
<line x1="133.70" y1="134.51" x2="135.50" y2="134.51" stroke="#111" stroke-width="0.6" />
<line x1="133.70" y1="133.35" x2="135.50" y2="133.35" stroke="#111" stroke-width="0.6" />
<line x1="133.70" y1="132.40" x2="135.50" y2="132.40" stroke="#111" stroke-width="0.6" />
<line x1="133.70" y1="131.61" x2="135.50" y2="131.61" stroke="#111" stroke-width="0.6" />
<line x1="133.70" y1="130.91" x2="135.50" y2="130.91" stroke="#111" stroke-width="0.6" />
<line x1="133.70" y1="130.30" x2="135.50" y2="130.30" stroke="#111" stroke-width="0.6" />
<line x1="133.70" y1="126.39" x2="135.50" y2="126.39" stroke="#111" stroke-width="0.6" />
<line x1="133.70" y1="124.42" x2="135.50" y2="124.42" stroke="#111" stroke-width="0.6" />
<line x1="133.70" y1="123.03" x2="135.50" y2="123.03" stroke="#111" stroke-width="0.6" />
<line x1="133.70" y1="121.94" x2="135.50" y2="121.94" stroke="#111" stroke-width="0.6" />
<line x1="133.70" y1="121.06" x2="135.50" y2="121.06" stroke="#111" stroke-width="0.6" />
<line x1="133.70" y1="120.31" x2="135.50" y2="120.31" stroke="#111" stroke-width="0.6" />
<line x1="133.70" y1="119.66" x2="135.50" y2="119.66" stroke="#111" stroke-width="0.6" />
<line x1="133.70" y1="119.09" x2="135.50" y2="119.09" stroke="#111" stroke-width="0.6" />
<line x1="132.90" y1="118.58" x2="135.50" y2="118.58" stroke="#111" stroke-width="0.8" />
<line x1="132.90" y1="129.76" x2="135.50" y2="129.76" stroke="#111" stroke-width="0.8" />
<line x1="132.90" y1="141.69" x2="135.50" y2="141.69" stroke="#111" stroke-width="0.8" />
<line x1="132.90" y1="153.63" x2="135.50" y2="153.63" stroke="#111" stroke-width="0.8" />
<line x1="132.90" y1="158.46" x2="135.50" y2="158.46" stroke="#111" stroke-width="0.8" />
<line x1="133.70" y1="159.22" x2="135.50" y2="159.22" stroke="#111" stroke-width="0.6" />
<line x1="133.70" y1="160.13" x2="135.50" y2="160.13" stroke="#111" stroke-width="0.6" />
<line x1="133.70" y1="161.05" x2="135.50" y2="161.05" stroke="#111" stroke-width="0.6" />
<line x1="133.70" y1="161.96" x2="135.50" y2="161.96" stroke="#111" stroke-width="0.6" />
<line x1="133.70" y1="162.88" x2="135.50" y2="162.88" stroke="#111" stroke-width="0.6" />
<line x1="133.70" y1="163.79" x2="135.50" y2="163.79" stroke="#111" stroke-width="0.6" />
<line x1="149.63" y1="164.30" x2="149.63" y2="166.10" stroke="#111" stroke-width="0.6" />
<line x1="151.79" y1="164.30" x2="151.79" y2="166.10" stroke="#111" stroke-width="0.6" />
<line x1="153.33" y1="164.30" x2="153.33" y2="166.10" stroke="#111" stroke-width="0.6" />
<line x1="154.51" y1="164.30" x2="154.51" y2="166.10" stroke="#111" stroke-width="0.6" />
<line x1="155.49" y1="164.30" x2="155.49" y2="166.10" stroke="#111" stroke-width="0.6" />
<line x1="156.31" y1="164.30" x2="156.31" y2="166.10" stroke="#111" stroke-width="0.6" />
<line x1="157.02" y1="164.30" x2="157.02" y2="166.10" stroke="#111" stroke-width="0.6" />
<line x1="157.65" y1="164.30" x2="157.65" y2="166.10" stroke="#111" stroke-width="0.6" />
<line x1="161.98" y1="164.30" x2="161.98" y2="166.10" stroke="#111" stroke-width="0.6" />
<line x1="164.18" y1="164.30" x2="164.18" y2="166.10" stroke="#111" stroke-width="0.6" />
<line x1="165.75" y1="164.30" x2="165.75" y2="166.10" stroke="#111" stroke-width="0.6" />
<line x1="166.96" y1="164.30" x2="166.96" y2="166.10" stroke="#111" stroke-width="0.6" />
<line x1="167.96" y1="164.30" x2="167.96" y2="166.10" stroke="#111" stroke-width="0.6" />
<line x1="168.79" y1="164.30" x2="168.79" y2="166.10" stroke="#111" stroke-width="0.6" />
<line x1="169.52" y1="164.30" x2="169.52" y2="166.10" stroke="#111" stroke-width="0.6" />
<line x1="170.16" y1="164.30" x2="170.16" y2="166.10" stroke="#111" stroke-width="0.6" />
<line x1="174.27" y1="164.30" x2="174.27" y2="166.10" stroke="#111" stroke-width="0.6" />
<line x1="176.34" y1="164.30" x2="176.34" y2="166.10" stroke="#111" stroke-width="0.6" />
<line x1="177.81" y1="164.30" x2="177.81" y2="166.10" stroke="#111" stroke-width="0.6" />
<line x1="178.94" y1="164.30" x2="178.94" y2="166.10" stroke="#111" stroke-width="0.6" />
<line x1="179.87" y1="164.30" x2="179.87" y2="166.10" stroke="#111" stroke-width="0.6" />
<line x1="180.66" y1="164.30" x2="180.66" y2="166.10" stroke="#111" stroke-width="0.6" />
<line x1="181.34" y1="164.30" x2="181.34" y2="166.10" stroke="#111" stroke-width="0.6" />
<line x1="181.94" y1="164.30" x2="181.94" y2="166.10" stroke="#111" stroke-width="0.6" />
<line x1="145.94" y1="164.30" x2="145.94" y2="166.90" stroke="#111" stroke-width="0.8" />
<line x1="158.21" y1="164.30" x2="158.21" y2="166.90" stroke="#111" stroke-width="0.8" />
<line x1="170.73" y1="164.30" x2="170.73" y2="166.90" stroke="#111" stroke-width="0.8" />
<line x1="182.48" y1="164.30" x2="182.48" y2="166.90" stroke="#111" stroke-width="0.8" />
<line x1="141.50" y1="164.30" x2="141.50" y2="166.90" stroke="#111" stroke-width="0.8" />
<line x1="136.02" y1="164.30" x2="136.02" y2="166.10" stroke="#111" stroke-width="0.6" />
<line x1="136.96" y1="164.30" x2="136.96" y2="166.10" stroke="#111" stroke-width="0.6" />
<line x1="137.90" y1="164.30" x2="137.90" y2="166.10" stroke="#111" stroke-width="0.6" />
<line x1="138.84" y1="164.30" x2="138.84" y2="166.10" stroke="#111" stroke-width="0.6" />
<line x1="139.78" y1="164.30" x2="139.78" y2="166.10" stroke="#111" stroke-width="0.6" />
<line x1="140.72" y1="164.30" x2="140.72" y2="166.10" stroke="#111" stroke-width="0.6" />
<rect x="135.50" y="113.50" width="52.20" height="50.80" fill="none" stroke="#111" stroke-width="1.1" />
<text x="129.90" y="121.08" font-size="4.9" text-anchor="end" font-weight="normal" fill="#333" >10<tspan dy="-1.8" font-size="3.2">5</tspan><tspan dy="1.8" font-size="1">&#8203;</tspan></text>
<text x="129.90" y="132.26" font-size="4.9" text-anchor="end" font-weight="normal" fill="#333" >10<tspan dy="-1.8" font-size="3.2">4</tspan><tspan dy="1.8" font-size="1">&#8203;</tspan></text>
<text x="129.90" y="144.19" font-size="4.9" text-anchor="end" font-weight="normal" fill="#333" >10<tspan dy="-1.8" font-size="3.2">3</tspan><tspan dy="1.8" font-size="1">&#8203;</tspan></text>
<text x="129.90" y="156.13" font-size="4.9" text-anchor="end" font-weight="normal" fill="#333" >10<tspan dy="-1.8" font-size="3.2">2</tspan><tspan dy="1.8" font-size="1">&#8203;</tspan></text>
<text x="128.30" y="160.66" font-size="4.9" text-anchor="end" font-weight="normal" fill="#333" >0</text>
<text x="142.50" y="173.60" font-size="4.9" text-anchor="end" font-weight="normal" fill="#333" >0</text>
<text x="146.94" y="173.60" font-size="4.9" text-anchor="middle" font-weight="normal" fill="#333" >10<tspan dy="-1.8" font-size="3.2">2</tspan><tspan dy="1.8" font-size="1">&#8203;</tspan></text>
<text x="158.71" y="173.60" font-size="4.9" text-anchor="middle" font-weight="normal" fill="#333" >10<tspan dy="-1.8" font-size="3.2">3</tspan><tspan dy="1.8" font-size="1">&#8203;</tspan></text>
<text x="171.23" y="173.60" font-size="4.9" text-anchor="middle" font-weight="normal" fill="#333" >10<tspan dy="-1.8" font-size="3.2">4</tspan><tspan dy="1.8" font-size="1">&#8203;</tspan></text>
<text x="182.98" y="173.60" font-size="4.9" text-anchor="middle" font-weight="normal" fill="#333" >10<tspan dy="-1.8" font-size="3.2">5</tspan><tspan dy="1.8" font-size="1">&#8203;</tspan></text>
<rect x="163.40" y="115.60" width="17.00" height="24.50" fill="none" stroke="#222" stroke-width="0.55" />
<text x="142.50" y="121.00" font-size="4.2" text-anchor="middle" font-weight="normal" fill="#222" stroke="#444" stroke-width="0.12">97</text>
<text transform="translate(204.50 18.60) scale(1.07 1)" font-size="11.9" text-anchor="start" font-weight="bold" fill="#111" stroke="#111" stroke-width="0.35">B</text>
<text x="273.00" y="28.30" font-size="6.8" text-anchor="middle" font-weight="normal" fill="#222"  stroke="#222" stroke-width="0.1">CD4iTregs</text>
<line x1="252.20" y1="33.30" x2="293.80" y2="33.30" stroke="#111" stroke-width="1.0" />
<text x="259.80" y="43.30" font-size="6.8" text-anchor="middle" font-weight="normal" fill="#222"  stroke="#222" stroke-width="0.1">WT</text>
<text x="285.50" y="43.30" font-size="6.8" text-anchor="middle" font-weight="normal" fill="#222"  stroke="#222" stroke-width="0.1">Sirt-1<tspan dy="-2.6" font-size="4.5">-/-</tspan><tspan dy="2.6" font-size="1">&#8203;</tspan></text>
<text x="231.50" y="48.30" font-size="6.6" text-anchor="middle" font-weight="normal" fill="#222"  stroke="#222" stroke-width="0.1">kDa</text>
<text x="230.30" y="67.60" font-size="6.8" text-anchor="end" font-weight="normal" fill="#222"  stroke="#222" stroke-width="0.1">130</text>
<line x1="233.20" y1="65.20" x2="246.20" y2="65.20" stroke="#111" stroke-width="1.1" />
<text x="230.30" y="91.00" font-size="6.8" text-anchor="end" font-weight="normal" fill="#222"  stroke="#222" stroke-width="0.1">70</text>
<line x1="233.20" y1="88.60" x2="246.20" y2="88.60" stroke="#111" stroke-width="1.1" />
<text x="230.30" y="100.40" font-size="6.8" text-anchor="end" font-weight="normal" fill="#222"  stroke="#222" stroke-width="0.1">55</text>
<line x1="233.20" y1="98.00" x2="246.20" y2="98.00" stroke="#111" stroke-width="1.1" />
<text x="230.30" y="116.00" font-size="6.8" text-anchor="end" font-weight="normal" fill="#222"  stroke="#222" stroke-width="0.1">40</text>
<line x1="233.20" y1="113.60" x2="246.20" y2="113.60" stroke="#111" stroke-width="1.1" />
<text x="230.30" y="183.00" font-size="6.8" text-anchor="end" font-weight="normal" fill="#222"  stroke="#222" stroke-width="0.1">42</text>
<line x1="233.20" y1="180.60" x2="246.20" y2="180.60" stroke="#111" stroke-width="1.1" />
<clipPath id="c3"><rect x="248.2" y="48.7" width="49.5" height="124.89999999999999"/></clipPath>
<rect x="248.20" y="48.70" width="49.50" height="124.90" fill="#8f8f8f" stroke="none" stroke-width="1" />
<g clip-path="url(#c3)" filter="url(#blot)">
<rect x="248.00" y="48.00" width="23.00" height="126.00" fill="#8a8a8a" stroke="none" stroke-width="1" />
<rect x="274.00" y="48.00" width="24.00" height="126.00" fill="#6e6e6e" stroke="none" stroke-width="1" />
<rect x="271.00" y="48.00" width="4.50" height="126.00" fill="#9a9a9a" stroke="none" stroke-width="1" />
<rect x="249.00" y="60.00" width="22.00" height="26.00" fill="#979797" stroke="none" stroke-width="1" />
<rect x="250.0" y="53.0" width="20.0" height="4.0" rx="1.8" fill="#5a5a5a" opacity="1.0"/>
<rect x="249.0" y="76.0" width="23.0" height="8.0" rx="3.6" fill="#505050" opacity="1.0"/>
<rect x="249.0" y="84.0" width="22.0" height="3.0" rx="1.4" fill="#6a6a6a" opacity="0.7"/>
<rect x="248.0" y="97.0" width="10.0" height="16.0" rx="4.5" fill="#4a4a4a" opacity="1.0"/>
<rect x="256.0" y="92.0" width="14.0" height="5.0" rx="2.3" fill="#6c6c6c" opacity="0.8"/>
<rect x="250.0" y="111.0" width="20.0" height="4.0" rx="1.8" fill="#5c5c5c" opacity="1.0"/>
<rect x="250.0" y="117.0" width="20.0" height="3.0" rx="1.4" fill="#a0a0a0" opacity="0.8"/>
<rect x="249.0" y="126.0" width="23.0" height="9.0" rx="4.1" fill="#3a3a3a" opacity="1.0"/>
<rect x="250.0" y="137.0" width="20.0" height="5.0" rx="2.3" fill="#707070" opacity="0.8"/>
<rect x="249.0" y="146.0" width="21.0" height="6.0" rx="2.7" fill="#444" opacity="1.0"/>
<rect x="249.0" y="155.0" width="23.0" height="7.0" rx="3.2" fill="#3c3c3c" opacity="1.0"/>
<rect x="250.0" y="164.0" width="22.0" height="8.0" rx="3.6" fill="#9c9c9c" opacity="0.9"/>
<rect x="276.0" y="52.0" width="22.0" height="5.0" rx="2.3" fill="#3c3c3c" opacity="1.0"/>
<rect x="276.0" y="58.0" width="22.0" height="4.0" rx="1.8" fill="#555" opacity="1.0"/>
<rect x="276.0" y="62.0" width="22.0" height="7.0" rx="3.2" fill="#3a3a3a" opacity="1.0"/>
<rect x="276.0" y="70.0" width="22.0" height="5.0" rx="2.3" fill="#777" opacity="0.8"/>
<rect x="275.0" y="76.0" width="23.0" height="8.0" rx="3.6" fill="#474747" opacity="1.0"/>
<rect x="276.0" y="85.0" width="22.0" height="4.0" rx="1.8" fill="#888" opacity="0.7"/>
<rect x="276.0" y="90.0" width="22.0" height="6.0" rx="2.7" fill="#5a5a5a" opacity="1.0"/>
<rect x="276.0" y="97.0" width="22.0" height="18.0" rx="8.2" fill="#5c5c5c" opacity="1.0"/>
<rect x="274.0" y="118.0" width="24.0" height="21.0" rx="9.5" fill="#404040" opacity="1.0"/>
<rect x="276.0" y="100.0" width="22.0" height="16.0" rx="7.3" fill="#4c4c4c" opacity="0.6"/>
<rect x="276.0" y="138.0" width="22.0" height="6.0" rx="2.7" fill="#585858" opacity="1.0"/>
<rect x="275.0" y="146.0" width="23.0" height="7.0" rx="3.2" fill="#3a3a3a" opacity="1.0"/>
<rect x="274.0" y="156.0" width="24.0" height="8.0" rx="3.6" fill="#333" opacity="1.0"/>
<rect x="277.0" y="165.0" width="20.0" height="7.0" rx="3.2" fill="#8a8a8a" opacity="0.9"/>
</g>
<path d="M249 50.5 L253 51.5 L249.5 53 Z" fill="#111"/>
<rect x="248.20" y="48.70" width="49.50" height="124.90" fill="none" stroke="#555" stroke-width="0.6" />
<clipPath id="c4"><rect x="248.2" y="174.6" width="49.5" height="15.0"/></clipPath>
<rect x="248.20" y="174.60" width="49.50" height="15.00" fill="#7c7c7c" stroke="none" stroke-width="1" />
<g clip-path="url(#c4)" filter="url(#blot)">
<rect x="251" y="177.6" width="21" height="9" rx="4" fill="#151515"/>
<rect x="273.5" y="177.6" width="21.5" height="9" rx="4" fill="#151515"/>
<rect x="268" y="179" width="10" height="6" fill="#222"/>
</g>
<rect x="248.20" y="174.60" width="49.50" height="15.00" fill="none" stroke="#555" stroke-width="0.6" />
<text transform="translate(314.50 18.60) scale(1.07 1)" font-size="11.9" text-anchor="start" font-weight="bold" fill="#111" stroke="#111" stroke-width="0.35">C</text>
<clipPath id="c5"><rect x="357.3" y="20.5" width="87.30000000000001" height="78.3"/></clipPath>
<g clip-path="url(#c5)" fill="none" stroke-linejoin="round">
<path d="M357.3 53.2 L362.0 53.2 L364.5 52.0 L367.0 49.5 L369.5 45.5 L372.0 40.5 L374.5 34.5 L376.5 28.5 L378.2 24.2 L379.3 24.6 L380.5 28.0 L382.0 33.5 L383.5 40.0 L385.0 46.0 L386.5 50.5 L388.5 52.6 L391.0 53.2 L444.6 53.2" fill="#c4c4c4" stroke="#8c8c8c" stroke-width="0.9"/>
<path d="M357.3 68.2 L369.0 68.2 L371.0 67.3 L373.0 64.5 L375.0 59.5 L377.0 53.0 L379.0 46.5 L380.8 42.0 L382.3 39.4 L383.6 40.5 L385.0 43.5 L386.5 47.0 L388.0 52.0 L390.0 58.0 L392.0 63.0 L394.0 66.0 L396.5 67.7 L399.0 68.2 L444.6 68.2" stroke="#b8103a" stroke-width="1.2"/>
<path d="M357.3 83.4 L367.0 83.4 L369.5 82.5 L372.0 79.5 L374.5 75.0 L377.0 70.0 L379.5 65.5 L382.0 62.0 L384.0 59.0 L386.0 56.5 L387.6 55.0 L389.0 56.2 L390.5 58.0 L392.0 62.0 L394.0 67.0 L396.0 72.0 L398.0 76.5 L400.0 80.0 L402.5 82.3 L405.0 83.4 L444.6 83.4" stroke="#30508c" stroke-width="1.2"/>
<path d="M357.3 98.3 L360.0 98.0 L364.0 97.6 L368.0 97.8 L370.5 96.5 L373.0 94.5 L375.5 92.5 L377.5 90.2 L378.8 89.8 L380.0 86.0 L382.0 81.0 L384.0 76.0 L385.5 72.5 L387.0 70.3 L388.0 71.0 L389.0 70.0 L390.0 72.5 L391.5 77.0 L393.0 82.0 L394.5 87.0 L396.0 92.0 L397.5 95.5 L399.5 97.5 L403.0 98.2 L444.6 98.3" stroke="#6fb848" stroke-width="1.2"/>
</g>
<line x1="378.90" y1="20.50" x2="378.90" y2="98.80" stroke="#222" stroke-width="1.1" stroke-dasharray="2.5 1.5"/>
<rect x="357.30" y="20.50" width="87.30" height="78.30" fill="none" stroke="#111" stroke-width="1.2" />
<line x1="358.10" y1="98.80" x2="358.10" y2="100.20" stroke="#222" stroke-width="0.5" />
<line x1="359.70" y1="98.80" x2="359.70" y2="100.20" stroke="#222" stroke-width="0.5" />
<line x1="361.30" y1="98.80" x2="361.30" y2="100.20" stroke="#222" stroke-width="0.5" />
<line x1="362.90" y1="98.80" x2="362.90" y2="100.20" stroke="#222" stroke-width="0.5" />
<line x1="364.50" y1="98.80" x2="364.50" y2="100.20" stroke="#222" stroke-width="0.5" />
<line x1="366.10" y1="98.80" x2="366.10" y2="100.20" stroke="#222" stroke-width="0.5" />
<line x1="367.70" y1="98.80" x2="367.70" y2="100.20" stroke="#222" stroke-width="0.5" />
<line x1="369.30" y1="98.80" x2="369.30" y2="100.20" stroke="#222" stroke-width="0.5" />
<line x1="370.90" y1="98.80" x2="370.90" y2="100.20" stroke="#222" stroke-width="0.5" />
<line x1="383.72" y1="98.80" x2="383.72" y2="100.20" stroke="#222" stroke-width="0.45" />
<line x1="387.07" y1="98.80" x2="387.07" y2="100.20" stroke="#222" stroke-width="0.45" />
<line x1="389.44" y1="98.80" x2="389.44" y2="100.20" stroke="#222" stroke-width="0.45" />
<line x1="391.28" y1="98.80" x2="391.28" y2="100.20" stroke="#222" stroke-width="0.45" />
<line x1="392.78" y1="98.80" x2="392.78" y2="100.20" stroke="#222" stroke-width="0.45" />
<line x1="394.06" y1="98.80" x2="394.06" y2="100.20" stroke="#222" stroke-width="0.45" />
<line x1="395.16" y1="98.80" x2="395.16" y2="100.20" stroke="#222" stroke-width="0.45" />
<line x1="396.13" y1="98.80" x2="396.13" y2="100.20" stroke="#222" stroke-width="0.45" />
<line x1="402.87" y1="98.80" x2="402.87" y2="100.20" stroke="#222" stroke-width="0.45" />
<line x1="406.30" y1="98.80" x2="406.30" y2="100.20" stroke="#222" stroke-width="0.45" />
<line x1="408.74" y1="98.80" x2="408.74" y2="100.20" stroke="#222" stroke-width="0.45" />
<line x1="410.63" y1="98.80" x2="410.63" y2="100.20" stroke="#222" stroke-width="0.45" />
<line x1="412.17" y1="98.80" x2="412.17" y2="100.20" stroke="#222" stroke-width="0.45" />
<line x1="413.48" y1="98.80" x2="413.48" y2="100.20" stroke="#222" stroke-width="0.45" />
<line x1="414.61" y1="98.80" x2="414.61" y2="100.20" stroke="#222" stroke-width="0.45" />
<line x1="415.61" y1="98.80" x2="415.61" y2="100.20" stroke="#222" stroke-width="0.45" />
<line x1="422.37" y1="98.80" x2="422.37" y2="100.20" stroke="#222" stroke-width="0.45" />
<line x1="425.80" y1="98.80" x2="425.80" y2="100.20" stroke="#222" stroke-width="0.45" />
<line x1="428.24" y1="98.80" x2="428.24" y2="100.20" stroke="#222" stroke-width="0.45" />
<line x1="430.13" y1="98.80" x2="430.13" y2="100.20" stroke="#222" stroke-width="0.45" />
<line x1="431.67" y1="98.80" x2="431.67" y2="100.20" stroke="#222" stroke-width="0.45" />
<line x1="432.98" y1="98.80" x2="432.98" y2="100.20" stroke="#222" stroke-width="0.45" />
<line x1="434.11" y1="98.80" x2="434.11" y2="100.20" stroke="#222" stroke-width="0.45" />
<line x1="435.11" y1="98.80" x2="435.11" y2="100.20" stroke="#222" stroke-width="0.45" />
<line x1="367.50" y1="98.80" x2="367.50" y2="101.40" stroke="#111" stroke-width="0.8" />
<line x1="378.00" y1="98.80" x2="378.00" y2="101.40" stroke="#111" stroke-width="0.8" />
<line x1="397.00" y1="98.80" x2="397.00" y2="101.40" stroke="#111" stroke-width="0.8" />
<line x1="416.50" y1="98.80" x2="416.50" y2="101.40" stroke="#111" stroke-width="0.8" />
<line x1="436.00" y1="98.80" x2="436.00" y2="101.40" stroke="#111" stroke-width="0.8" />
<text transform="translate(366.60 111.00) scale(0.82 1)" font-size="7.2" text-anchor="middle" font-weight="normal" fill="#222"  stroke="#222" stroke-width="0.1">0</text>
<text transform="translate(375.80 111.00) scale(0.82 1)" font-size="7.2" text-anchor="middle" font-weight="normal" fill="#222"  stroke="#222" stroke-width="0.1">10<tspan dy="-2.6" font-size="4.4">2</tspan><tspan dy="2.6" font-size="1">&#8203;</tspan></text>
<text transform="translate(396.00 111.00) scale(0.82 1)" font-size="7.2" text-anchor="middle" font-weight="normal" fill="#222"  stroke="#222" stroke-width="0.1">10<tspan dy="-2.6" font-size="4.4">3</tspan><tspan dy="2.6" font-size="1">&#8203;</tspan></text>
<text transform="translate(415.60 111.00) scale(0.82 1)" font-size="7.2" text-anchor="middle" font-weight="normal" fill="#222"  stroke="#222" stroke-width="0.1">10<tspan dy="-2.6" font-size="4.4">4</tspan><tspan dy="2.6" font-size="1">&#8203;</tspan></text>
<text transform="translate(435.30 111.00) scale(0.82 1)" font-size="7.2" text-anchor="middle" font-weight="normal" fill="#222"  stroke="#222" stroke-width="0.1">10<tspan dy="-2.6" font-size="4.4">5</tspan><tspan dy="2.6" font-size="1">&#8203;</tspan></text>
<text transform="translate(400.50 123.40) scale(0.78 1)" font-size="8.4" text-anchor="middle" font-weight="normal" fill="#222"  stroke="#222" stroke-width="0.1">pSTAT5</text>
<line x1="349.80" y1="26.18" x2="349.80" y2="63.50" stroke="#333" stroke-width="1.3" />
<path d="M349.80 20.30 L353.40 28.70 L349.80 27.02 L346.20 28.70 Z" fill="#000"/>
<text transform="translate(352.40 78.50) rotate(-90) scale(0.84 1)" font-size="8.3" text-anchor="middle" font-weight="normal" fill="#222"  stroke="#222" stroke-width="0.1">#cells</text>
<text x="431.50" y="34.80" font-size="6.6" text-anchor="middle" font-weight="normal" fill="#222"  stroke="#222" stroke-width="0.1">1%</text>
<text x="431.50" y="63.60" font-size="6.6" text-anchor="middle" font-weight="normal" fill="#222"  stroke="#222" stroke-width="0.1">20%</text>
<text x="431.50" y="80.00" font-size="6.6" text-anchor="middle" font-weight="normal" fill="#222"  stroke="#222" stroke-width="0.1">43%</text>
<text x="431.50" y="94.30" font-size="6.6" text-anchor="middle" font-weight="normal" fill="#222"  stroke="#222" stroke-width="0.1">45%</text>
<line x1="450.50" y1="44.60" x2="467.80" y2="44.60" stroke="#8c8c8c" stroke-width="1.0" />
<text x="470.80" y="47.00" font-size="6.8" text-anchor="start" font-weight="normal" fill="#222"  stroke="#222" stroke-width="0.1">isotype</text>
<line x1="450.50" y1="56.50" x2="467.80" y2="56.50" stroke="#b8103a" stroke-width="1.0" />
<text x="470.80" y="58.90" font-size="6.8" text-anchor="start" font-weight="normal" fill="#222"  stroke="#222" stroke-width="0.1">WT iTregs</text>
<line x1="450.50" y1="68.20" x2="467.80" y2="68.20" stroke="#30508c" stroke-width="1.0" />
<text x="470.80" y="70.60" font-size="6.8" text-anchor="start" font-weight="normal" fill="#222"  stroke="#222" stroke-width="0.1">Sirt-1<tspan dy="-2.6" font-size="4.5">-/-</tspan><tspan dy="2.6" font-size="1">&#8203;</tspan> iTregs</text>
<line x1="450.50" y1="80.00" x2="467.80" y2="80.00" stroke="#6fb848" stroke-width="1.0" />
<text x="470.80" y="82.40" font-size="6.8" text-anchor="start" font-weight="normal" fill="#222"  stroke="#222" stroke-width="0.1">WT iTregs+</text>
<text x="477.50" y="90.60" font-size="6.8" text-anchor="start" font-weight="normal" fill="#222"  stroke="#222" stroke-width="0.1">Ex-527</text>
<rect x="360.50" y="185.82" width="15.30" height="29.48" fill="#a8002b" stroke="none" stroke-width="1" />
<rect x="382.10" y="163.04" width="15.50" height="52.26" fill="#2c4a7c" stroke="none" stroke-width="1" />
<rect x="403.90" y="159.96" width="15.50" height="55.34" fill="#6aa842" stroke="none" stroke-width="1" />
<line x1="368.20" y1="185.82" x2="368.20" y2="181.70" stroke="#111" stroke-width="0.9" />
<line x1="365.20" y1="181.70" x2="371.20" y2="181.70" stroke="#111" stroke-width="0.9" />
<line x1="389.80" y1="163.04" x2="389.80" y2="155.30" stroke="#111" stroke-width="0.9" />
<line x1="386.80" y1="155.30" x2="392.80" y2="155.30" stroke="#111" stroke-width="0.9" />
<line x1="411.60" y1="159.96" x2="411.60" y2="152.50" stroke="#111" stroke-width="0.9" />
<line x1="408.60" y1="152.50" x2="414.60" y2="152.50" stroke="#111" stroke-width="0.9" />
<line x1="357.20" y1="145.50" x2="357.20" y2="215.90" stroke="#111" stroke-width="1.2" />
<line x1="356.60" y1="215.30" x2="422.80" y2="215.30" stroke="#111" stroke-width="1.2" />
<line x1="354.40" y1="215.30" x2="357.20" y2="215.30" stroke="#111" stroke-width="0.9" />
<text transform="translate(353.40 218.00) scale(1.08 1)" font-size="7.5" text-anchor="end" font-weight="normal" fill="#222"  stroke="#222" stroke-width="0.1">0</text>
<line x1="354.40" y1="201.90" x2="357.20" y2="201.90" stroke="#111" stroke-width="0.9" />
<text transform="translate(353.40 204.60) scale(1.08 1)" font-size="7.5" text-anchor="end" font-weight="normal" fill="#222"  stroke="#222" stroke-width="0.1">10</text>
<line x1="354.40" y1="188.50" x2="357.20" y2="188.50" stroke="#111" stroke-width="0.9" />
<text transform="translate(353.40 191.20) scale(1.08 1)" font-size="7.5" text-anchor="end" font-weight="normal" fill="#222"  stroke="#222" stroke-width="0.1">20</text>
<line x1="354.40" y1="175.10" x2="357.20" y2="175.10" stroke="#111" stroke-width="0.9" />
<text transform="translate(353.40 177.80) scale(1.08 1)" font-size="7.5" text-anchor="end" font-weight="normal" fill="#222"  stroke="#222" stroke-width="0.1">30</text>
<line x1="354.40" y1="161.70" x2="357.20" y2="161.70" stroke="#111" stroke-width="0.9" />
<text transform="translate(353.40 164.40) scale(1.08 1)" font-size="7.5" text-anchor="end" font-weight="normal" fill="#222"  stroke="#222" stroke-width="0.1">40</text>
<line x1="354.40" y1="148.30" x2="357.20" y2="148.30" stroke="#111" stroke-width="0.9" />
<text transform="translate(353.40 151.00) scale(1.08 1)" font-size="7.5" text-anchor="end" font-weight="normal" fill="#222"  stroke="#222" stroke-width="0.1">50</text>
<line x1="389.60" y1="215.30" x2="389.60" y2="218.10" stroke="#111" stroke-width="0.9" />
<text x="389.60" y="229.80" font-size="7.0" text-anchor="middle" font-weight="normal" fill="#222"  stroke="#222" stroke-width="0.1">pSTAT5</text>
<text transform="translate(338.50 180.00) rotate(-90) scale(0.75 1)" font-size="8.4" text-anchor="middle" font-weight="normal" fill="#222"  stroke="#222" stroke-width="0.1">%pSTAT5</text>
<path d="M369.00 152.20 L369.00 149.40 L389.60 149.40 L389.60 152.20" fill="none" stroke="#111" stroke-width="0.9"/>
<text x="379.30" y="150.00" font-size="7.5" text-anchor="middle" font-weight="normal" fill="#222"  stroke="#222" stroke-width="0.1">**</text>
<path d="M369.00 141.60 L369.00 138.40 L410.80 138.40 L410.80 141.60" fill="none" stroke="#111" stroke-width="0.9"/>
<text x="389.80" y="139.00" font-size="7.5" text-anchor="middle" font-weight="normal" fill="#222"  stroke="#222" stroke-width="0.1">**</text>
<rect x="429.20" y="166.30" width="13.00" height="6.40" fill="#a8002b" stroke="none" stroke-width="1" />
<text x="446.00" y="171.90" font-size="6.8" text-anchor="start" font-weight="normal" fill="#222"  stroke="#222" stroke-width="0.1">WT iTregs</text>
<rect x="429.20" y="178.30" width="13.00" height="6.40" fill="#2c4a7c" stroke="none" stroke-width="1" />
<text x="446.00" y="183.90" font-size="6.8" text-anchor="start" font-weight="normal" fill="#222"  stroke="#222" stroke-width="0.1">Sirt-1<tspan dy="-2.6" font-size="4.5">-/-</tspan><tspan dy="2.6" font-size="1">&#8203;</tspan> iTregs</text>
<rect x="429.20" y="190.10" width="13.00" height="6.40" fill="#6aa842" stroke="none" stroke-width="1" />
<text x="446.00" y="195.70" font-size="6.8" text-anchor="start" font-weight="normal" fill="#222"  stroke="#222" stroke-width="0.1">WT iTregs+Ex-527</text>
<text transform="translate(7.50 212.60) scale(1.07 1)" font-size="11.9" text-anchor="start" font-weight="bold" fill="#111" stroke="#111" stroke-width="0.35">D</text>
<text x="126.00" y="218.00" font-size="6.8" text-anchor="middle" font-weight="normal" fill="#222"  stroke="#222" stroke-width="0.1">d3</text>
<line x1="76.00" y1="223.10" x2="175.80" y2="223.10" stroke="#333" stroke-width="1.3" />
<text x="90.00" y="232.00" font-size="6.8" text-anchor="middle" font-weight="normal" fill="#222"  stroke="#222" stroke-width="0.1">IL-2</text>
<text x="162.50" y="232.00" font-size="6.8" text-anchor="middle" font-weight="normal" fill="#222"  stroke="#222" stroke-width="0.1">+IL-12</text>
<text x="21.50" y="258.50" font-size="6.8" text-anchor="middle" font-weight="normal" fill="#222"  stroke="#222" stroke-width="0.1">WT</text>
<text x="21.50" y="267.30" font-size="6.8" text-anchor="middle" font-weight="normal" fill="#222"  stroke="#222" stroke-width="0.1">iTregs</text>
<text x="21.50" y="330.80" font-size="6.8" text-anchor="middle" font-weight="normal" fill="#222"  stroke="#222" stroke-width="0.1">Sirt-1<tspan dy="-2.6" font-size="4.5">-/-</tspan><tspan dy="2.6" font-size="1">&#8203;</tspan></text>
<text x="21.50" y="339.60" font-size="6.8" text-anchor="middle" font-weight="normal" fill="#222"  stroke="#222" stroke-width="0.1">iTregs</text>
<line x1="42.30" y1="241.88" x2="42.30" y2="317.50" stroke="#333" stroke-width="1.3" />
<path d="M42.30 236.00 L45.90 244.40 L42.30 242.72 L38.70 244.40 Z" fill="#000"/>
<text transform="translate(45.10 328.40) rotate(-90) scale(0.67 1)" font-size="8.0" text-anchor="middle" font-weight="normal" fill="#222"  stroke="#222" stroke-width="0.1">CD25</text>
<text transform="translate(93.00 379.40) scale(0.67 1)" font-size="8.0" text-anchor="middle" font-weight="normal" fill="#222"  stroke="#222" stroke-width="0.1">Foxp3</text>
<line x1="105.00" y1="377.00" x2="180.62" y2="377.00" stroke="#333" stroke-width="1.3" />
<path d="M186.50 377.00 L178.10 373.40 L179.78 377.00 L178.10 380.60 Z" fill="#000"/>
<clipPath id="c6"><rect x="63.5" y="237.3" width="53.099999999999994" height="50.69999999999999"/></clipPath>
<g filter="url(#soft)" clip-path="url(#c6)">
<path d="M97.70 238.00 C98.98 238.27 100.82 239.23 101.50 240.40 C102.18 241.57 102.05 243.07 101.80 245.00 C101.55 246.93 100.80 249.70 100.00 252.00 C99.20 254.30 98.03 256.77 97.00 258.80 C95.97 260.83 94.83 262.53 93.80 264.20 C92.77 265.87 91.93 267.38 90.80 268.80 C89.67 270.22 88.30 271.75 87.00 272.70 C85.70 273.65 84.17 274.28 83.00 274.50 C81.83 274.72 80.88 274.68 80.00 274.00 C79.12 273.32 78.42 271.90 77.70 270.40 C76.98 268.90 76.08 266.80 75.70 265.00 C75.32 263.20 75.27 261.40 75.40 259.60 C75.53 257.80 75.87 255.87 76.50 254.20 C77.13 252.53 78.12 251.00 79.20 249.60 C80.28 248.20 81.45 247.07 83.00 245.80 C84.55 244.53 86.70 243.17 88.50 242.00 C90.30 240.83 92.27 239.47 93.80 238.80 C95.33 238.13 96.42 237.73 97.70 238.00 Z" fill="#2b35d8"/>
<path d="M96.63 240.01 C97.75 240.25 99.35 241.09 99.94 242.10 C100.53 243.12 100.42 244.42 100.20 246.10 C99.98 247.79 99.33 250.19 98.64 252.19 C97.94 254.20 96.92 256.34 96.03 258.11 C95.13 259.88 94.14 261.36 93.24 262.81 C92.34 264.26 91.62 265.58 90.63 266.81 C89.64 268.04 88.46 269.38 87.33 270.20 C86.19 271.03 84.86 271.58 83.84 271.77 C82.83 271.96 82.00 271.93 81.23 271.33 C80.47 270.74 79.86 269.51 79.23 268.20 C78.61 266.90 77.83 265.07 77.49 263.50 C77.16 261.94 77.12 260.37 77.23 258.81 C77.35 257.24 77.64 255.56 78.19 254.11 C78.74 252.66 79.60 251.32 80.54 250.11 C81.48 248.89 82.50 247.90 83.84 246.80 C85.19 245.70 87.06 244.51 88.63 243.50 C90.20 242.48 91.91 241.29 93.24 240.71 C94.58 240.13 95.52 239.78 96.63 240.01 Z" fill="#2a62ea"/>
<path d="M95.57 242.03 C96.52 242.23 97.87 242.94 98.38 243.81 C98.89 244.67 98.79 245.78 98.60 247.21 C98.42 248.64 97.86 250.69 97.27 252.39 C96.68 254.09 95.81 255.92 95.05 257.42 C94.29 258.93 93.45 260.18 92.68 261.42 C91.92 262.65 91.30 263.77 90.46 264.82 C89.62 265.87 88.61 267.00 87.65 267.71 C86.69 268.41 85.55 268.88 84.69 269.04 C83.83 269.20 83.12 269.18 82.47 268.67 C81.82 268.16 81.30 267.12 80.77 266.01 C80.24 264.90 79.57 263.34 79.29 262.01 C79.00 260.68 78.97 259.35 79.07 258.01 C79.16 256.68 79.41 255.25 79.88 254.02 C80.35 252.78 81.08 251.65 81.88 250.61 C82.68 249.58 83.54 248.74 84.69 247.80 C85.84 246.86 87.43 245.85 88.76 244.99 C90.09 244.13 91.55 243.12 92.68 242.62 C93.82 242.13 94.62 241.83 95.57 242.03 Z" fill="#35d7e6"/>
<path d="M94.42 244.20 C95.19 244.36 96.29 244.94 96.70 245.64 C97.11 246.34 97.03 247.24 96.88 248.40 C96.73 249.56 96.28 251.22 95.80 252.60 C95.32 253.98 94.62 255.46 94.00 256.68 C93.38 257.90 92.70 258.92 92.08 259.92 C91.46 260.92 90.96 261.83 90.28 262.68 C89.60 263.53 88.78 264.45 88.00 265.02 C87.22 265.59 86.30 265.97 85.60 266.10 C84.90 266.23 84.33 266.21 83.80 265.80 C83.27 265.39 82.85 264.54 82.42 263.64 C81.99 262.74 81.45 261.48 81.22 260.40 C80.99 259.32 80.96 258.24 81.04 257.16 C81.12 256.08 81.32 254.92 81.70 253.92 C82.08 252.92 82.67 252.00 83.32 251.16 C83.97 250.32 84.67 249.64 85.60 248.88 C86.53 248.12 87.82 247.30 88.90 246.60 C89.98 245.90 91.16 245.08 92.08 244.68 C93.00 244.28 93.65 244.04 94.42 244.20 Z" fill="#58e26a"/>
<ellipse cx="85.20" cy="255.80" rx="3.60" ry="7.00" fill="#d8ee3c" transform="rotate(12 85.20 255.80)"/>
<ellipse cx="85.20" cy="255.80" rx="2.70" ry="5.60" fill="#ffb02a" transform="rotate(12 85.20 255.80)"/>
<ellipse cx="85.20" cy="255.80" rx="1.80" ry="4.20" fill="#ee2a1e" transform="rotate(12 85.20 255.80)"/>
<ellipse cx="94.40" cy="249.30" rx="2.70" ry="5.60" fill="#d8ee3c" transform="rotate(16 94.40 249.30)"/>
<ellipse cx="94.40" cy="249.30" rx="1.70" ry="4.00" fill="#ffb02a" transform="rotate(16 94.40 249.30)"/>
<ellipse cx="94.40" cy="249.30" rx="0.90" ry="2.60" fill="#f7802a" transform="rotate(16 94.40 249.30)"/>
</g>
<line x1="61.70" y1="273.77" x2="63.50" y2="273.77" stroke="#111" stroke-width="0.6" />
<line x1="61.70" y1="271.67" x2="63.50" y2="271.67" stroke="#111" stroke-width="0.6" />
<line x1="61.70" y1="270.18" x2="63.50" y2="270.18" stroke="#111" stroke-width="0.6" />
<line x1="61.70" y1="269.03" x2="63.50" y2="269.03" stroke="#111" stroke-width="0.6" />
<line x1="61.70" y1="268.08" x2="63.50" y2="268.08" stroke="#111" stroke-width="0.6" />
<line x1="61.70" y1="267.28" x2="63.50" y2="267.28" stroke="#111" stroke-width="0.6" />
<line x1="61.70" y1="266.59" x2="63.50" y2="266.59" stroke="#111" stroke-width="0.6" />
<line x1="61.70" y1="265.98" x2="63.50" y2="265.98" stroke="#111" stroke-width="0.6" />
<line x1="61.70" y1="261.85" x2="63.50" y2="261.85" stroke="#111" stroke-width="0.6" />
<line x1="61.70" y1="259.75" x2="63.50" y2="259.75" stroke="#111" stroke-width="0.6" />
<line x1="61.70" y1="258.27" x2="63.50" y2="258.27" stroke="#111" stroke-width="0.6" />
<line x1="61.70" y1="257.11" x2="63.50" y2="257.11" stroke="#111" stroke-width="0.6" />
<line x1="61.70" y1="256.17" x2="63.50" y2="256.17" stroke="#111" stroke-width="0.6" />
<line x1="61.70" y1="255.37" x2="63.50" y2="255.37" stroke="#111" stroke-width="0.6" />
<line x1="61.70" y1="254.68" x2="63.50" y2="254.68" stroke="#111" stroke-width="0.6" />
<line x1="61.70" y1="254.07" x2="63.50" y2="254.07" stroke="#111" stroke-width="0.6" />
<line x1="61.70" y1="250.17" x2="63.50" y2="250.17" stroke="#111" stroke-width="0.6" />
<line x1="61.70" y1="248.20" x2="63.50" y2="248.20" stroke="#111" stroke-width="0.6" />
<line x1="61.70" y1="246.81" x2="63.50" y2="246.81" stroke="#111" stroke-width="0.6" />
<line x1="61.70" y1="245.73" x2="63.50" y2="245.73" stroke="#111" stroke-width="0.6" />
<line x1="61.70" y1="244.84" x2="63.50" y2="244.84" stroke="#111" stroke-width="0.6" />
<line x1="61.70" y1="244.10" x2="63.50" y2="244.10" stroke="#111" stroke-width="0.6" />
<line x1="61.70" y1="243.45" x2="63.50" y2="243.45" stroke="#111" stroke-width="0.6" />
<line x1="61.70" y1="242.88" x2="63.50" y2="242.88" stroke="#111" stroke-width="0.6" />
<line x1="60.90" y1="242.37" x2="63.50" y2="242.37" stroke="#111" stroke-width="0.8" />
<line x1="60.90" y1="253.52" x2="63.50" y2="253.52" stroke="#111" stroke-width="0.8" />
<line x1="60.90" y1="265.44" x2="63.50" y2="265.44" stroke="#111" stroke-width="0.8" />
<line x1="60.90" y1="277.35" x2="63.50" y2="277.35" stroke="#111" stroke-width="0.8" />
<line x1="60.90" y1="282.17" x2="63.50" y2="282.17" stroke="#111" stroke-width="0.8" />
<line x1="61.70" y1="282.93" x2="63.50" y2="282.93" stroke="#111" stroke-width="0.6" />
<line x1="61.70" y1="283.84" x2="63.50" y2="283.84" stroke="#111" stroke-width="0.6" />
<line x1="61.70" y1="284.76" x2="63.50" y2="284.76" stroke="#111" stroke-width="0.6" />
<line x1="61.70" y1="285.67" x2="63.50" y2="285.67" stroke="#111" stroke-width="0.6" />
<line x1="61.70" y1="286.58" x2="63.50" y2="286.58" stroke="#111" stroke-width="0.6" />
<line x1="61.70" y1="287.49" x2="63.50" y2="287.49" stroke="#111" stroke-width="0.6" />
<line x1="77.88" y1="288.00" x2="77.88" y2="289.80" stroke="#111" stroke-width="0.6" />
<line x1="80.07" y1="288.00" x2="80.07" y2="289.80" stroke="#111" stroke-width="0.6" />
<line x1="81.63" y1="288.00" x2="81.63" y2="289.80" stroke="#111" stroke-width="0.6" />
<line x1="82.84" y1="288.00" x2="82.84" y2="289.80" stroke="#111" stroke-width="0.6" />
<line x1="83.83" y1="288.00" x2="83.83" y2="289.80" stroke="#111" stroke-width="0.6" />
<line x1="84.67" y1="288.00" x2="84.67" y2="289.80" stroke="#111" stroke-width="0.6" />
<line x1="85.39" y1="288.00" x2="85.39" y2="289.80" stroke="#111" stroke-width="0.6" />
<line x1="86.03" y1="288.00" x2="86.03" y2="289.80" stroke="#111" stroke-width="0.6" />
<line x1="90.43" y1="288.00" x2="90.43" y2="289.80" stroke="#111" stroke-width="0.6" />
<line x1="92.68" y1="288.00" x2="92.68" y2="289.80" stroke="#111" stroke-width="0.6" />
<line x1="94.27" y1="288.00" x2="94.27" y2="289.80" stroke="#111" stroke-width="0.6" />
<line x1="95.51" y1="288.00" x2="95.51" y2="289.80" stroke="#111" stroke-width="0.6" />
<line x1="96.52" y1="288.00" x2="96.52" y2="289.80" stroke="#111" stroke-width="0.6" />
<line x1="97.37" y1="288.00" x2="97.37" y2="289.80" stroke="#111" stroke-width="0.6" />
<line x1="98.11" y1="288.00" x2="98.11" y2="289.80" stroke="#111" stroke-width="0.6" />
<line x1="98.76" y1="288.00" x2="98.76" y2="289.80" stroke="#111" stroke-width="0.6" />
<line x1="102.94" y1="288.00" x2="102.94" y2="289.80" stroke="#111" stroke-width="0.6" />
<line x1="105.04" y1="288.00" x2="105.04" y2="289.80" stroke="#111" stroke-width="0.6" />
<line x1="106.54" y1="288.00" x2="106.54" y2="289.80" stroke="#111" stroke-width="0.6" />
<line x1="107.69" y1="288.00" x2="107.69" y2="289.80" stroke="#111" stroke-width="0.6" />
<line x1="108.64" y1="288.00" x2="108.64" y2="289.80" stroke="#111" stroke-width="0.6" />
<line x1="109.44" y1="288.00" x2="109.44" y2="289.80" stroke="#111" stroke-width="0.6" />
<line x1="110.13" y1="288.00" x2="110.13" y2="289.80" stroke="#111" stroke-width="0.6" />
<line x1="110.74" y1="288.00" x2="110.74" y2="289.80" stroke="#111" stroke-width="0.6" />
<line x1="74.12" y1="288.00" x2="74.12" y2="290.60" stroke="#111" stroke-width="0.8" />
<line x1="86.60" y1="288.00" x2="86.60" y2="290.60" stroke="#111" stroke-width="0.8" />
<line x1="99.34" y1="288.00" x2="99.34" y2="290.60" stroke="#111" stroke-width="0.8" />
<line x1="111.29" y1="288.00" x2="111.29" y2="290.60" stroke="#111" stroke-width="0.8" />
<line x1="69.61" y1="288.00" x2="69.61" y2="290.60" stroke="#111" stroke-width="0.8" />
<line x1="64.03" y1="288.00" x2="64.03" y2="289.80" stroke="#111" stroke-width="0.6" />
<line x1="64.99" y1="288.00" x2="64.99" y2="289.80" stroke="#111" stroke-width="0.6" />
<line x1="65.94" y1="288.00" x2="65.94" y2="289.80" stroke="#111" stroke-width="0.6" />
<line x1="66.90" y1="288.00" x2="66.90" y2="289.80" stroke="#111" stroke-width="0.6" />
<line x1="67.85" y1="288.00" x2="67.85" y2="289.80" stroke="#111" stroke-width="0.6" />
<line x1="68.81" y1="288.00" x2="68.81" y2="289.80" stroke="#111" stroke-width="0.6" />
<rect x="63.50" y="237.30" width="53.10" height="50.70" fill="none" stroke="#111" stroke-width="1.1" />
<text x="57.90" y="244.87" font-size="4.9" text-anchor="end" font-weight="normal" fill="#333" >10<tspan dy="-1.8" font-size="3.2">5</tspan><tspan dy="1.8" font-size="1">&#8203;</tspan></text>
<text x="57.90" y="256.02" font-size="4.9" text-anchor="end" font-weight="normal" fill="#333" >10<tspan dy="-1.8" font-size="3.2">4</tspan><tspan dy="1.8" font-size="1">&#8203;</tspan></text>
<text x="57.90" y="267.94" font-size="4.9" text-anchor="end" font-weight="normal" fill="#333" >10<tspan dy="-1.8" font-size="3.2">3</tspan><tspan dy="1.8" font-size="1">&#8203;</tspan></text>
<text x="57.90" y="279.85" font-size="4.9" text-anchor="end" font-weight="normal" fill="#333" >10<tspan dy="-1.8" font-size="3.2">2</tspan><tspan dy="1.8" font-size="1">&#8203;</tspan></text>
<text x="56.30" y="284.37" font-size="4.9" text-anchor="end" font-weight="normal" fill="#333" >0</text>
<text x="70.61" y="297.30" font-size="4.9" text-anchor="end" font-weight="normal" fill="#333" >0</text>
<text x="75.12" y="297.30" font-size="4.9" text-anchor="middle" font-weight="normal" fill="#333" >10<tspan dy="-1.8" font-size="3.2">2</tspan><tspan dy="1.8" font-size="1">&#8203;</tspan></text>
<text x="87.10" y="297.30" font-size="4.9" text-anchor="middle" font-weight="normal" fill="#333" >10<tspan dy="-1.8" font-size="3.2">3</tspan><tspan dy="1.8" font-size="1">&#8203;</tspan></text>
<text x="99.84" y="297.30" font-size="4.9" text-anchor="middle" font-weight="normal" fill="#333" >10<tspan dy="-1.8" font-size="3.2">4</tspan><tspan dy="1.8" font-size="1">&#8203;</tspan></text>
<text x="111.79" y="297.30" font-size="4.9" text-anchor="middle" font-weight="normal" fill="#333" >10<tspan dy="-1.8" font-size="3.2">5</tspan><tspan dy="1.8" font-size="1">&#8203;</tspan></text>
<path d="M90.8 237.6 L90.8 273 L113.9 273" fill="none" stroke="#333" stroke-width="0.6"/>
<line x1="90.80" y1="238.20" x2="113.90" y2="238.20" stroke="#555" stroke-width="0.5" />
<line x1="113.90" y1="237.60" x2="113.90" y2="263.50" stroke="#888" stroke-width="0.9" />
<text x="111.10" y="271.60" font-size="4.5" text-anchor="middle" font-weight="normal" fill="#222" stroke="#444" stroke-width="0.12">38</text>
<clipPath id="c7"><rect x="136.2" y="237.3" width="52.60000000000002" height="50.69999999999999"/></clipPath>
<g filter="url(#soft)" clip-path="url(#c7)">
<path d="M168.50 237.80 C170.08 238.05 171.75 238.38 172.50 239.50 C173.25 240.62 173.25 242.58 173.00 244.50 C172.75 246.42 171.83 248.92 171.00 251.00 C170.17 253.08 169.08 255.17 168.00 257.00 C166.92 258.83 165.67 260.42 164.50 262.00 C163.33 263.58 162.25 265.00 161.00 266.50 C159.75 268.00 158.25 270.00 157.00 271.00 C155.75 272.00 154.58 272.58 153.50 272.50 C152.42 272.42 151.32 271.67 150.50 270.50 C149.68 269.33 149.02 267.25 148.60 265.50 C148.18 263.75 147.93 261.92 148.00 260.00 C148.07 258.08 148.50 255.92 149.00 254.00 C149.50 252.08 150.17 250.25 151.00 248.50 C151.83 246.75 152.83 244.92 154.00 243.50 C155.17 242.08 156.50 240.92 158.00 240.00 C159.50 239.08 161.25 238.37 163.00 238.00 C164.75 237.63 166.92 237.55 168.50 237.80 Z" fill="#2b35d8"/>
<path d="M167.53 239.45 C168.90 239.67 170.35 239.96 171.00 240.93 C171.66 241.90 171.66 243.61 171.44 245.28 C171.22 246.95 170.42 249.12 169.70 250.94 C168.97 252.75 168.03 254.56 167.09 256.15 C166.15 257.75 165.06 259.13 164.04 260.50 C163.03 261.88 162.09 263.12 161.00 264.42 C159.91 265.73 158.61 267.46 157.52 268.33 C156.43 269.20 155.42 269.71 154.47 269.64 C153.53 269.57 152.58 268.91 151.87 267.90 C151.15 266.88 150.57 265.07 150.21 263.55 C149.85 262.03 149.63 260.43 149.69 258.76 C149.75 257.10 150.12 255.21 150.56 253.54 C151.00 251.88 151.58 250.28 152.30 248.76 C153.03 247.24 153.90 245.64 154.91 244.41 C155.92 243.18 157.08 242.16 158.39 241.37 C159.69 240.57 161.22 239.94 162.74 239.62 C164.26 239.31 166.15 239.23 167.53 239.45 Z" fill="#2a62ea"/>
<path d="M166.55 241.10 C167.72 241.29 168.95 241.53 169.51 242.36 C170.06 243.19 170.06 244.64 169.88 246.06 C169.69 247.48 169.02 249.33 168.40 250.87 C167.78 252.41 166.98 253.95 166.18 255.31 C165.38 256.67 164.45 257.84 163.59 259.01 C162.73 260.18 161.93 261.23 161.00 262.34 C160.07 263.45 158.97 264.93 158.04 265.67 C157.11 266.41 156.25 266.84 155.45 266.78 C154.65 266.72 153.83 266.16 153.23 265.30 C152.63 264.44 152.13 262.90 151.82 261.60 C151.52 260.31 151.33 258.95 151.38 257.53 C151.43 256.11 151.75 254.51 152.12 253.09 C152.49 251.67 152.98 250.31 153.60 249.02 C154.22 247.73 154.96 246.37 155.82 245.32 C156.68 244.27 157.67 243.41 158.78 242.73 C159.89 242.05 161.19 241.52 162.48 241.25 C163.77 240.98 165.38 240.92 166.55 241.10 Z" fill="#35d7e6"/>
<path d="M165.50 242.88 C166.45 243.03 167.45 243.23 167.90 243.90 C168.35 244.57 168.35 245.75 168.20 246.90 C168.05 248.05 167.50 249.55 167.00 250.80 C166.50 252.05 165.85 253.30 165.20 254.40 C164.55 255.50 163.80 256.45 163.10 257.40 C162.40 258.35 161.75 259.20 161.00 260.10 C160.25 261.00 159.35 262.20 158.60 262.80 C157.85 263.40 157.15 263.75 156.50 263.70 C155.85 263.65 155.19 263.20 154.70 262.50 C154.21 261.80 153.81 260.55 153.56 259.50 C153.31 258.45 153.16 257.35 153.20 256.20 C153.24 255.05 153.50 253.75 153.80 252.60 C154.10 251.45 154.50 250.35 155.00 249.30 C155.50 248.25 156.10 247.15 156.80 246.30 C157.50 245.45 158.30 244.75 159.20 244.20 C160.10 243.65 161.15 243.22 162.20 243.00 C163.25 242.78 164.55 242.73 165.50 242.88 Z" fill="#58e26a"/>
<ellipse cx="158.20" cy="252.30" rx="3.50" ry="7.20" fill="#d8ee3c" transform="rotate(14 158.20 252.30)"/>
<ellipse cx="158.20" cy="252.30" rx="2.60" ry="5.80" fill="#ffb02a" transform="rotate(14 158.20 252.30)"/>
<ellipse cx="158.20" cy="252.30" rx="1.60" ry="4.20" fill="#ee2a1e" transform="rotate(14 158.20 252.30)"/>
<ellipse cx="165.30" cy="246.80" rx="2.60" ry="5.00" fill="#a8e84a" transform="rotate(18 165.30 246.80)"/>
<ellipse cx="165.30" cy="246.80" rx="1.40" ry="3.00" fill="#c8ec40" transform="rotate(18 165.30 246.80)"/>
</g>
<line x1="134.40" y1="273.77" x2="136.20" y2="273.77" stroke="#111" stroke-width="0.6" />
<line x1="134.40" y1="271.67" x2="136.20" y2="271.67" stroke="#111" stroke-width="0.6" />
<line x1="134.40" y1="270.18" x2="136.20" y2="270.18" stroke="#111" stroke-width="0.6" />
<line x1="134.40" y1="269.03" x2="136.20" y2="269.03" stroke="#111" stroke-width="0.6" />
<line x1="134.40" y1="268.08" x2="136.20" y2="268.08" stroke="#111" stroke-width="0.6" />
<line x1="134.40" y1="267.28" x2="136.20" y2="267.28" stroke="#111" stroke-width="0.6" />
<line x1="134.40" y1="266.59" x2="136.20" y2="266.59" stroke="#111" stroke-width="0.6" />
<line x1="134.40" y1="265.98" x2="136.20" y2="265.98" stroke="#111" stroke-width="0.6" />
<line x1="134.40" y1="261.85" x2="136.20" y2="261.85" stroke="#111" stroke-width="0.6" />
<line x1="134.40" y1="259.75" x2="136.20" y2="259.75" stroke="#111" stroke-width="0.6" />
<line x1="134.40" y1="258.27" x2="136.20" y2="258.27" stroke="#111" stroke-width="0.6" />
<line x1="134.40" y1="257.11" x2="136.20" y2="257.11" stroke="#111" stroke-width="0.6" />
<line x1="134.40" y1="256.17" x2="136.20" y2="256.17" stroke="#111" stroke-width="0.6" />
<line x1="134.40" y1="255.37" x2="136.20" y2="255.37" stroke="#111" stroke-width="0.6" />
<line x1="134.40" y1="254.68" x2="136.20" y2="254.68" stroke="#111" stroke-width="0.6" />
<line x1="134.40" y1="254.07" x2="136.20" y2="254.07" stroke="#111" stroke-width="0.6" />
<line x1="134.40" y1="250.17" x2="136.20" y2="250.17" stroke="#111" stroke-width="0.6" />
<line x1="134.40" y1="248.20" x2="136.20" y2="248.20" stroke="#111" stroke-width="0.6" />
<line x1="134.40" y1="246.81" x2="136.20" y2="246.81" stroke="#111" stroke-width="0.6" />
<line x1="134.40" y1="245.73" x2="136.20" y2="245.73" stroke="#111" stroke-width="0.6" />
<line x1="134.40" y1="244.84" x2="136.20" y2="244.84" stroke="#111" stroke-width="0.6" />
<line x1="134.40" y1="244.10" x2="136.20" y2="244.10" stroke="#111" stroke-width="0.6" />
<line x1="134.40" y1="243.45" x2="136.20" y2="243.45" stroke="#111" stroke-width="0.6" />
<line x1="134.40" y1="242.88" x2="136.20" y2="242.88" stroke="#111" stroke-width="0.6" />
<line x1="133.60" y1="242.37" x2="136.20" y2="242.37" stroke="#111" stroke-width="0.8" />
<line x1="133.60" y1="253.52" x2="136.20" y2="253.52" stroke="#111" stroke-width="0.8" />
<line x1="133.60" y1="265.44" x2="136.20" y2="265.44" stroke="#111" stroke-width="0.8" />
<line x1="133.60" y1="277.35" x2="136.20" y2="277.35" stroke="#111" stroke-width="0.8" />
<line x1="133.60" y1="282.17" x2="136.20" y2="282.17" stroke="#111" stroke-width="0.8" />
<line x1="134.40" y1="282.93" x2="136.20" y2="282.93" stroke="#111" stroke-width="0.6" />
<line x1="134.40" y1="283.84" x2="136.20" y2="283.84" stroke="#111" stroke-width="0.6" />
<line x1="134.40" y1="284.76" x2="136.20" y2="284.76" stroke="#111" stroke-width="0.6" />
<line x1="134.40" y1="285.67" x2="136.20" y2="285.67" stroke="#111" stroke-width="0.6" />
<line x1="134.40" y1="286.58" x2="136.20" y2="286.58" stroke="#111" stroke-width="0.6" />
<line x1="134.40" y1="287.49" x2="136.20" y2="287.49" stroke="#111" stroke-width="0.6" />
<line x1="150.44" y1="288.00" x2="150.44" y2="289.80" stroke="#111" stroke-width="0.6" />
<line x1="152.62" y1="288.00" x2="152.62" y2="289.80" stroke="#111" stroke-width="0.6" />
<line x1="154.16" y1="288.00" x2="154.16" y2="289.80" stroke="#111" stroke-width="0.6" />
<line x1="155.36" y1="288.00" x2="155.36" y2="289.80" stroke="#111" stroke-width="0.6" />
<line x1="156.34" y1="288.00" x2="156.34" y2="289.80" stroke="#111" stroke-width="0.6" />
<line x1="157.17" y1="288.00" x2="157.17" y2="289.80" stroke="#111" stroke-width="0.6" />
<line x1="157.88" y1="288.00" x2="157.88" y2="289.80" stroke="#111" stroke-width="0.6" />
<line x1="158.52" y1="288.00" x2="158.52" y2="289.80" stroke="#111" stroke-width="0.6" />
<line x1="162.88" y1="288.00" x2="162.88" y2="289.80" stroke="#111" stroke-width="0.6" />
<line x1="165.10" y1="288.00" x2="165.10" y2="289.80" stroke="#111" stroke-width="0.6" />
<line x1="166.68" y1="288.00" x2="166.68" y2="289.80" stroke="#111" stroke-width="0.6" />
<line x1="167.90" y1="288.00" x2="167.90" y2="289.80" stroke="#111" stroke-width="0.6" />
<line x1="168.90" y1="288.00" x2="168.90" y2="289.80" stroke="#111" stroke-width="0.6" />
<line x1="169.75" y1="288.00" x2="169.75" y2="289.80" stroke="#111" stroke-width="0.6" />
<line x1="170.48" y1="288.00" x2="170.48" y2="289.80" stroke="#111" stroke-width="0.6" />
<line x1="171.13" y1="288.00" x2="171.13" y2="289.80" stroke="#111" stroke-width="0.6" />
<line x1="175.27" y1="288.00" x2="175.27" y2="289.80" stroke="#111" stroke-width="0.6" />
<line x1="177.35" y1="288.00" x2="177.35" y2="289.80" stroke="#111" stroke-width="0.6" />
<line x1="178.83" y1="288.00" x2="178.83" y2="289.80" stroke="#111" stroke-width="0.6" />
<line x1="179.98" y1="288.00" x2="179.98" y2="289.80" stroke="#111" stroke-width="0.6" />
<line x1="180.91" y1="288.00" x2="180.91" y2="289.80" stroke="#111" stroke-width="0.6" />
<line x1="181.71" y1="288.00" x2="181.71" y2="289.80" stroke="#111" stroke-width="0.6" />
<line x1="182.39" y1="288.00" x2="182.39" y2="289.80" stroke="#111" stroke-width="0.6" />
<line x1="183.00" y1="288.00" x2="183.00" y2="289.80" stroke="#111" stroke-width="0.6" />
<line x1="146.72" y1="288.00" x2="146.72" y2="290.60" stroke="#111" stroke-width="0.8" />
<line x1="159.08" y1="288.00" x2="159.08" y2="290.60" stroke="#111" stroke-width="0.8" />
<line x1="171.71" y1="288.00" x2="171.71" y2="290.60" stroke="#111" stroke-width="0.8" />
<line x1="183.54" y1="288.00" x2="183.54" y2="290.60" stroke="#111" stroke-width="0.8" />
<line x1="142.25" y1="288.00" x2="142.25" y2="290.60" stroke="#111" stroke-width="0.8" />
<line x1="136.73" y1="288.00" x2="136.73" y2="289.80" stroke="#111" stroke-width="0.6" />
<line x1="137.67" y1="288.00" x2="137.67" y2="289.80" stroke="#111" stroke-width="0.6" />
<line x1="138.62" y1="288.00" x2="138.62" y2="289.80" stroke="#111" stroke-width="0.6" />
<line x1="139.57" y1="288.00" x2="139.57" y2="289.80" stroke="#111" stroke-width="0.6" />
<line x1="140.51" y1="288.00" x2="140.51" y2="289.80" stroke="#111" stroke-width="0.6" />
<line x1="141.46" y1="288.00" x2="141.46" y2="289.80" stroke="#111" stroke-width="0.6" />
<rect x="136.20" y="237.30" width="52.60" height="50.70" fill="none" stroke="#111" stroke-width="1.1" />
<text x="130.60" y="244.87" font-size="4.9" text-anchor="end" font-weight="normal" fill="#333" >10<tspan dy="-1.8" font-size="3.2">5</tspan><tspan dy="1.8" font-size="1">&#8203;</tspan></text>
<text x="130.60" y="256.02" font-size="4.9" text-anchor="end" font-weight="normal" fill="#333" >10<tspan dy="-1.8" font-size="3.2">4</tspan><tspan dy="1.8" font-size="1">&#8203;</tspan></text>
<text x="130.60" y="267.94" font-size="4.9" text-anchor="end" font-weight="normal" fill="#333" >10<tspan dy="-1.8" font-size="3.2">3</tspan><tspan dy="1.8" font-size="1">&#8203;</tspan></text>
<text x="130.60" y="279.85" font-size="4.9" text-anchor="end" font-weight="normal" fill="#333" >10<tspan dy="-1.8" font-size="3.2">2</tspan><tspan dy="1.8" font-size="1">&#8203;</tspan></text>
<text x="129.00" y="284.37" font-size="4.9" text-anchor="end" font-weight="normal" fill="#333" >0</text>
<text x="143.25" y="297.30" font-size="4.9" text-anchor="end" font-weight="normal" fill="#333" >0</text>
<text x="147.72" y="297.30" font-size="4.9" text-anchor="middle" font-weight="normal" fill="#333" >10<tspan dy="-1.8" font-size="3.2">2</tspan><tspan dy="1.8" font-size="1">&#8203;</tspan></text>
<text x="159.58" y="297.30" font-size="4.9" text-anchor="middle" font-weight="normal" fill="#333" >10<tspan dy="-1.8" font-size="3.2">3</tspan><tspan dy="1.8" font-size="1">&#8203;</tspan></text>
<text x="172.21" y="297.30" font-size="4.9" text-anchor="middle" font-weight="normal" fill="#333" >10<tspan dy="-1.8" font-size="3.2">4</tspan><tspan dy="1.8" font-size="1">&#8203;</tspan></text>
<text x="184.04" y="297.30" font-size="4.9" text-anchor="middle" font-weight="normal" fill="#333" >10<tspan dy="-1.8" font-size="3.2">5</tspan><tspan dy="1.8" font-size="1">&#8203;</tspan></text>
<path d="M161.8 237.6 L161.8 273 L185.8 273" fill="none" stroke="#333" stroke-width="0.6"/>
<line x1="161.80" y1="238.20" x2="185.80" y2="238.20" stroke="#555" stroke-width="0.5" />
<line x1="185.80" y1="237.60" x2="185.80" y2="263.50" stroke="#888" stroke-width="0.9" />
<text x="183.00" y="271.60" font-size="4.5" text-anchor="middle" font-weight="normal" fill="#222" stroke="#444" stroke-width="0.12">29</text>
<clipPath id="c8"><rect x="63.5" y="306.7" width="52.099999999999994" height="50.80000000000001"/></clipPath>
<g filter="url(#soft)" clip-path="url(#c8)">
<path d="M98.50 307.50 C99.92 307.58 101.33 308.25 102.00 309.50 C102.67 310.75 102.67 313.00 102.50 315.00 C102.33 317.00 101.75 319.33 101.00 321.50 C100.25 323.67 99.08 325.92 98.00 328.00 C96.92 330.08 95.75 332.08 94.50 334.00 C93.25 335.92 91.83 337.83 90.50 339.50 C89.17 341.17 87.83 342.75 86.50 344.00 C85.17 345.25 83.75 346.58 82.50 347.00 C81.25 347.42 80.03 347.33 79.00 346.50 C77.97 345.67 77.03 343.67 76.30 342.00 C75.57 340.33 74.92 338.42 74.60 336.50 C74.28 334.58 74.20 332.42 74.40 330.50 C74.60 328.58 75.03 326.75 75.80 325.00 C76.57 323.25 77.72 321.50 79.00 320.00 C80.28 318.50 81.92 317.25 83.50 316.00 C85.08 314.75 86.83 313.67 88.50 312.50 C90.17 311.33 91.83 309.83 93.50 309.00 C95.17 308.17 97.08 307.42 98.50 307.50 Z" fill="#2b35d8"/>
<path d="M97.27 309.64 C98.50 309.72 99.73 310.30 100.31 311.38 C100.89 312.47 100.89 314.43 100.75 316.17 C100.60 317.91 100.09 319.94 99.44 321.82 C98.79 323.71 97.77 325.67 96.83 327.48 C95.89 329.29 94.87 331.03 93.78 332.70 C92.70 334.37 91.47 336.04 90.31 337.49 C89.15 338.94 87.98 340.31 86.83 341.40 C85.67 342.49 84.43 343.65 83.34 344.01 C82.26 344.37 81.20 344.30 80.30 343.57 C79.40 342.85 78.59 341.11 77.95 339.66 C77.31 338.21 76.75 336.54 76.47 334.88 C76.20 333.21 76.12 331.32 76.30 329.65 C76.47 327.99 76.85 326.39 77.52 324.87 C78.18 323.35 79.18 321.82 80.30 320.52 C81.42 319.21 82.84 318.13 84.22 317.04 C85.59 315.95 87.11 315.01 88.56 314.00 C90.02 312.98 91.47 311.68 92.92 310.95 C94.37 310.22 96.03 309.57 97.27 309.64 Z" fill="#2a62ea"/>
<path d="M96.03 311.79 C97.08 311.85 98.13 312.34 98.62 313.27 C99.11 314.19 99.11 315.86 98.99 317.34 C98.87 318.82 98.44 320.55 97.88 322.15 C97.32 323.75 96.46 325.42 95.66 326.96 C94.86 328.50 93.99 329.98 93.07 331.40 C92.14 332.82 91.10 334.24 90.11 335.47 C89.12 336.70 88.14 337.88 87.15 338.80 C86.16 339.73 85.11 340.71 84.19 341.02 C83.27 341.33 82.36 341.27 81.60 340.65 C80.84 340.03 80.14 338.55 79.60 337.32 C79.06 336.09 78.58 334.67 78.34 333.25 C78.11 331.83 78.05 330.23 78.20 328.81 C78.34 327.39 78.66 326.04 79.23 324.74 C79.80 323.44 80.65 322.15 81.60 321.04 C82.55 319.93 83.76 319.00 84.93 318.08 C86.10 317.15 87.40 316.35 88.63 315.49 C89.86 314.63 91.10 313.52 92.33 312.90 C93.56 312.28 94.98 311.73 96.03 311.79 Z" fill="#35d7e6"/>
<path d="M94.70 314.10 C95.55 314.15 96.40 314.55 96.80 315.30 C97.20 316.05 97.20 317.40 97.10 318.60 C97.00 319.80 96.65 321.20 96.20 322.50 C95.75 323.80 95.05 325.15 94.40 326.40 C93.75 327.65 93.05 328.85 92.30 330.00 C91.55 331.15 90.70 332.30 89.90 333.30 C89.10 334.30 88.30 335.25 87.50 336.00 C86.70 336.75 85.85 337.55 85.10 337.80 C84.35 338.05 83.62 338.00 83.00 337.50 C82.38 337.00 81.82 335.80 81.38 334.80 C80.94 333.80 80.55 332.65 80.36 331.50 C80.17 330.35 80.12 329.05 80.24 327.90 C80.36 326.75 80.62 325.65 81.08 324.60 C81.54 323.55 82.23 322.50 83.00 321.60 C83.77 320.70 84.75 319.95 85.70 319.20 C86.65 318.45 87.70 317.80 88.70 317.10 C89.70 316.40 90.70 315.50 91.70 315.00 C92.70 314.50 93.85 314.05 94.70 314.10 Z" fill="#58e26a"/>
<ellipse cx="93.30" cy="321.30" rx="3.60" ry="7.40" fill="#d8ee3c" transform="rotate(22 93.30 321.30)"/>
<ellipse cx="93.30" cy="321.30" rx="2.70" ry="6.00" fill="#ffb02a" transform="rotate(22 93.30 321.30)"/>
<ellipse cx="93.30" cy="321.30" rx="1.70" ry="4.60" fill="#ee2a1e" transform="rotate(22 93.30 321.30)"/>
<ellipse cx="83.80" cy="325.20" rx="2.60" ry="5.20" fill="#d8ee3c" transform="rotate(10 83.80 325.20)"/>
<ellipse cx="83.80" cy="325.20" rx="1.70" ry="3.80" fill="#ffb02a" transform="rotate(10 83.80 325.20)"/>
<ellipse cx="83.80" cy="325.20" rx="0.90" ry="2.20" fill="#ee2a1e" transform="rotate(10 83.80 325.20)"/>
</g>
<line x1="61.70" y1="343.24" x2="63.50" y2="343.24" stroke="#111" stroke-width="0.6" />
<line x1="61.70" y1="341.14" x2="63.50" y2="341.14" stroke="#111" stroke-width="0.6" />
<line x1="61.70" y1="339.64" x2="63.50" y2="339.64" stroke="#111" stroke-width="0.6" />
<line x1="61.70" y1="338.49" x2="63.50" y2="338.49" stroke="#111" stroke-width="0.6" />
<line x1="61.70" y1="337.54" x2="63.50" y2="337.54" stroke="#111" stroke-width="0.6" />
<line x1="61.70" y1="336.74" x2="63.50" y2="336.74" stroke="#111" stroke-width="0.6" />
<line x1="61.70" y1="336.05" x2="63.50" y2="336.05" stroke="#111" stroke-width="0.6" />
<line x1="61.70" y1="335.44" x2="63.50" y2="335.44" stroke="#111" stroke-width="0.6" />
<line x1="61.70" y1="331.30" x2="63.50" y2="331.30" stroke="#111" stroke-width="0.6" />
<line x1="61.70" y1="329.20" x2="63.50" y2="329.20" stroke="#111" stroke-width="0.6" />
<line x1="61.70" y1="327.71" x2="63.50" y2="327.71" stroke="#111" stroke-width="0.6" />
<line x1="61.70" y1="326.55" x2="63.50" y2="326.55" stroke="#111" stroke-width="0.6" />
<line x1="61.70" y1="325.60" x2="63.50" y2="325.60" stroke="#111" stroke-width="0.6" />
<line x1="61.70" y1="324.81" x2="63.50" y2="324.81" stroke="#111" stroke-width="0.6" />
<line x1="61.70" y1="324.11" x2="63.50" y2="324.11" stroke="#111" stroke-width="0.6" />
<line x1="61.70" y1="323.50" x2="63.50" y2="323.50" stroke="#111" stroke-width="0.6" />
<line x1="61.70" y1="319.59" x2="63.50" y2="319.59" stroke="#111" stroke-width="0.6" />
<line x1="61.70" y1="317.62" x2="63.50" y2="317.62" stroke="#111" stroke-width="0.6" />
<line x1="61.70" y1="316.23" x2="63.50" y2="316.23" stroke="#111" stroke-width="0.6" />
<line x1="61.70" y1="315.14" x2="63.50" y2="315.14" stroke="#111" stroke-width="0.6" />
<line x1="61.70" y1="314.26" x2="63.50" y2="314.26" stroke="#111" stroke-width="0.6" />
<line x1="61.70" y1="313.51" x2="63.50" y2="313.51" stroke="#111" stroke-width="0.6" />
<line x1="61.70" y1="312.86" x2="63.50" y2="312.86" stroke="#111" stroke-width="0.6" />
<line x1="61.70" y1="312.29" x2="63.50" y2="312.29" stroke="#111" stroke-width="0.6" />
<line x1="60.90" y1="311.78" x2="63.50" y2="311.78" stroke="#111" stroke-width="0.8" />
<line x1="60.90" y1="322.96" x2="63.50" y2="322.96" stroke="#111" stroke-width="0.8" />
<line x1="60.90" y1="334.89" x2="63.50" y2="334.89" stroke="#111" stroke-width="0.8" />
<line x1="60.90" y1="346.83" x2="63.50" y2="346.83" stroke="#111" stroke-width="0.8" />
<line x1="60.90" y1="351.66" x2="63.50" y2="351.66" stroke="#111" stroke-width="0.8" />
<line x1="61.70" y1="352.42" x2="63.50" y2="352.42" stroke="#111" stroke-width="0.6" />
<line x1="61.70" y1="353.33" x2="63.50" y2="353.33" stroke="#111" stroke-width="0.6" />
<line x1="61.70" y1="354.25" x2="63.50" y2="354.25" stroke="#111" stroke-width="0.6" />
<line x1="61.70" y1="355.16" x2="63.50" y2="355.16" stroke="#111" stroke-width="0.6" />
<line x1="61.70" y1="356.08" x2="63.50" y2="356.08" stroke="#111" stroke-width="0.6" />
<line x1="61.70" y1="356.99" x2="63.50" y2="356.99" stroke="#111" stroke-width="0.6" />
<line x1="77.61" y1="357.50" x2="77.61" y2="359.30" stroke="#111" stroke-width="0.6" />
<line x1="79.76" y1="357.50" x2="79.76" y2="359.30" stroke="#111" stroke-width="0.6" />
<line x1="81.29" y1="357.50" x2="81.29" y2="359.30" stroke="#111" stroke-width="0.6" />
<line x1="82.48" y1="357.50" x2="82.48" y2="359.30" stroke="#111" stroke-width="0.6" />
<line x1="83.45" y1="357.50" x2="83.45" y2="359.30" stroke="#111" stroke-width="0.6" />
<line x1="84.27" y1="357.50" x2="84.27" y2="359.30" stroke="#111" stroke-width="0.6" />
<line x1="84.98" y1="357.50" x2="84.98" y2="359.30" stroke="#111" stroke-width="0.6" />
<line x1="85.60" y1="357.50" x2="85.60" y2="359.30" stroke="#111" stroke-width="0.6" />
<line x1="89.93" y1="357.50" x2="89.93" y2="359.30" stroke="#111" stroke-width="0.6" />
<line x1="92.13" y1="357.50" x2="92.13" y2="359.30" stroke="#111" stroke-width="0.6" />
<line x1="93.69" y1="357.50" x2="93.69" y2="359.30" stroke="#111" stroke-width="0.6" />
<line x1="94.90" y1="357.50" x2="94.90" y2="359.30" stroke="#111" stroke-width="0.6" />
<line x1="95.89" y1="357.50" x2="95.89" y2="359.30" stroke="#111" stroke-width="0.6" />
<line x1="96.73" y1="357.50" x2="96.73" y2="359.30" stroke="#111" stroke-width="0.6" />
<line x1="97.46" y1="357.50" x2="97.46" y2="359.30" stroke="#111" stroke-width="0.6" />
<line x1="98.10" y1="357.50" x2="98.10" y2="359.30" stroke="#111" stroke-width="0.6" />
<line x1="102.20" y1="357.50" x2="102.20" y2="359.30" stroke="#111" stroke-width="0.6" />
<line x1="104.26" y1="357.50" x2="104.26" y2="359.30" stroke="#111" stroke-width="0.6" />
<line x1="105.73" y1="357.50" x2="105.73" y2="359.30" stroke="#111" stroke-width="0.6" />
<line x1="106.86" y1="357.50" x2="106.86" y2="359.30" stroke="#111" stroke-width="0.6" />
<line x1="107.79" y1="357.50" x2="107.79" y2="359.30" stroke="#111" stroke-width="0.6" />
<line x1="108.57" y1="357.50" x2="108.57" y2="359.30" stroke="#111" stroke-width="0.6" />
<line x1="109.25" y1="357.50" x2="109.25" y2="359.30" stroke="#111" stroke-width="0.6" />
<line x1="109.85" y1="357.50" x2="109.85" y2="359.30" stroke="#111" stroke-width="0.6" />
<line x1="73.92" y1="357.50" x2="73.92" y2="360.10" stroke="#111" stroke-width="0.8" />
<line x1="86.16" y1="357.50" x2="86.16" y2="360.10" stroke="#111" stroke-width="0.8" />
<line x1="98.67" y1="357.50" x2="98.67" y2="360.10" stroke="#111" stroke-width="0.8" />
<line x1="110.39" y1="357.50" x2="110.39" y2="360.10" stroke="#111" stroke-width="0.8" />
<line x1="69.49" y1="357.50" x2="69.49" y2="360.10" stroke="#111" stroke-width="0.8" />
<line x1="64.02" y1="357.50" x2="64.02" y2="359.30" stroke="#111" stroke-width="0.6" />
<line x1="64.96" y1="357.50" x2="64.96" y2="359.30" stroke="#111" stroke-width="0.6" />
<line x1="65.90" y1="357.50" x2="65.90" y2="359.30" stroke="#111" stroke-width="0.6" />
<line x1="66.83" y1="357.50" x2="66.83" y2="359.30" stroke="#111" stroke-width="0.6" />
<line x1="67.77" y1="357.50" x2="67.77" y2="359.30" stroke="#111" stroke-width="0.6" />
<line x1="68.71" y1="357.50" x2="68.71" y2="359.30" stroke="#111" stroke-width="0.6" />
<rect x="63.50" y="306.70" width="52.10" height="50.80" fill="none" stroke="#111" stroke-width="1.1" />
<text x="57.90" y="314.28" font-size="4.9" text-anchor="end" font-weight="normal" fill="#333" >10<tspan dy="-1.8" font-size="3.2">5</tspan><tspan dy="1.8" font-size="1">&#8203;</tspan></text>
<text x="57.90" y="325.46" font-size="4.9" text-anchor="end" font-weight="normal" fill="#333" >10<tspan dy="-1.8" font-size="3.2">4</tspan><tspan dy="1.8" font-size="1">&#8203;</tspan></text>
<text x="57.90" y="337.39" font-size="4.9" text-anchor="end" font-weight="normal" fill="#333" >10<tspan dy="-1.8" font-size="3.2">3</tspan><tspan dy="1.8" font-size="1">&#8203;</tspan></text>
<text x="57.90" y="349.33" font-size="4.9" text-anchor="end" font-weight="normal" fill="#333" >10<tspan dy="-1.8" font-size="3.2">2</tspan><tspan dy="1.8" font-size="1">&#8203;</tspan></text>
<text x="56.30" y="353.86" font-size="4.9" text-anchor="end" font-weight="normal" fill="#333" >0</text>
<text x="70.49" y="366.80" font-size="4.9" text-anchor="end" font-weight="normal" fill="#333" >0</text>
<text x="74.92" y="366.80" font-size="4.9" text-anchor="middle" font-weight="normal" fill="#333" >10<tspan dy="-1.8" font-size="3.2">2</tspan><tspan dy="1.8" font-size="1">&#8203;</tspan></text>
<text x="86.66" y="366.80" font-size="4.9" text-anchor="middle" font-weight="normal" fill="#333" >10<tspan dy="-1.8" font-size="3.2">3</tspan><tspan dy="1.8" font-size="1">&#8203;</tspan></text>
<text x="99.17" y="366.80" font-size="4.9" text-anchor="middle" font-weight="normal" fill="#333" >10<tspan dy="-1.8" font-size="3.2">4</tspan><tspan dy="1.8" font-size="1">&#8203;</tspan></text>
<text x="110.89" y="366.80" font-size="4.9" text-anchor="middle" font-weight="normal" fill="#333" >10<tspan dy="-1.8" font-size="3.2">5</tspan><tspan dy="1.8" font-size="1">&#8203;</tspan></text>
<path d="M89.6 307.0 L89.6 342.5 L114.2 342.5" fill="none" stroke="#333" stroke-width="0.6"/>
<line x1="89.60" y1="307.60" x2="114.20" y2="307.60" stroke="#555" stroke-width="0.5" />
<line x1="114.20" y1="307.00" x2="114.20" y2="334.50" stroke="#888" stroke-width="0.9" />
<text x="111.40" y="341.10" font-size="4.5" text-anchor="middle" font-weight="normal" fill="#222" stroke="#444" stroke-width="0.12">47</text>
<clipPath id="c9"><rect x="136.2" y="306.7" width="52.60000000000002" height="50.80000000000001"/></clipPath>
<g filter="url(#soft)" clip-path="url(#c9)">
<path d="M169.00 309.00 C170.67 309.08 172.25 309.33 173.00 310.50 C173.75 311.67 173.75 314.08 173.50 316.00 C173.25 317.92 172.42 320.08 171.50 322.00 C170.58 323.92 169.25 325.83 168.00 327.50 C166.75 329.17 165.33 330.50 164.00 332.00 C162.67 333.50 161.33 335.17 160.00 336.50 C158.67 337.83 157.25 339.33 156.00 340.00 C154.75 340.67 153.53 340.92 152.50 340.50 C151.47 340.08 150.52 338.83 149.80 337.50 C149.08 336.17 148.45 334.25 148.20 332.50 C147.95 330.75 148.00 328.83 148.30 327.00 C148.60 325.17 149.13 323.17 150.00 321.50 C150.87 319.83 152.17 318.42 153.50 317.00 C154.83 315.58 156.42 314.17 158.00 313.00 C159.58 311.83 161.17 310.67 163.00 310.00 C164.83 309.33 167.33 308.92 169.00 309.00 Z" fill="#2b35d8"/>
<path d="M168.09 310.69 C169.54 310.76 170.92 310.98 171.57 312.00 C172.22 313.01 172.22 315.11 172.00 316.78 C171.79 318.45 171.06 320.33 170.26 322.00 C169.47 323.67 168.31 325.34 167.22 326.79 C166.13 328.24 164.90 329.39 163.74 330.70 C162.58 332.00 161.42 333.45 160.26 334.62 C159.10 335.78 157.87 337.08 156.78 337.66 C155.69 338.24 154.63 338.46 153.74 338.10 C152.84 337.73 152.01 336.65 151.39 335.49 C150.76 334.32 150.21 332.66 149.99 331.13 C149.78 329.61 149.82 327.95 150.08 326.35 C150.34 324.75 150.81 323.01 151.56 321.56 C152.31 320.12 153.44 318.88 154.60 317.65 C155.76 316.42 157.14 315.19 158.52 314.17 C159.90 313.16 161.28 312.14 162.87 311.56 C164.47 310.98 166.64 310.62 168.09 310.69 Z" fill="#2a62ea"/>
<path d="M167.18 312.38 C168.41 312.44 169.58 312.63 170.14 313.49 C170.69 314.35 170.69 316.14 170.51 317.56 C170.32 318.98 169.71 320.58 169.03 322.00 C168.35 323.42 167.37 324.84 166.44 326.07 C165.51 327.30 164.47 328.29 163.48 329.40 C162.49 330.51 161.51 331.74 160.52 332.73 C159.53 333.72 158.49 334.83 157.56 335.32 C156.63 335.81 155.73 336.00 154.97 335.69 C154.21 335.38 153.50 334.46 152.97 333.47 C152.44 332.48 151.97 331.06 151.79 329.77 C151.60 328.47 151.64 327.06 151.86 325.70 C152.08 324.34 152.48 322.86 153.12 321.63 C153.76 320.40 154.72 319.35 155.71 318.30 C156.70 317.25 157.87 316.20 159.04 315.34 C160.21 314.48 161.38 313.61 162.74 313.12 C164.10 312.63 165.95 312.32 167.18 312.38 Z" fill="#35d7e6"/>
<path d="M166.20 314.20 C167.20 314.25 168.15 314.40 168.60 315.10 C169.05 315.80 169.05 317.25 168.90 318.40 C168.75 319.55 168.25 320.85 167.70 322.00 C167.15 323.15 166.35 324.30 165.60 325.30 C164.85 326.30 164.00 327.10 163.20 328.00 C162.40 328.90 161.60 329.90 160.80 330.70 C160.00 331.50 159.15 332.40 158.40 332.80 C157.65 333.20 156.92 333.35 156.30 333.10 C155.68 332.85 155.11 332.10 154.68 331.30 C154.25 330.50 153.87 329.35 153.72 328.30 C153.57 327.25 153.60 326.10 153.78 325.00 C153.96 323.90 154.28 322.70 154.80 321.70 C155.32 320.70 156.10 319.85 156.90 319.00 C157.70 318.15 158.65 317.30 159.60 316.60 C160.55 315.90 161.50 315.20 162.60 314.80 C163.70 314.40 165.20 314.15 166.20 314.20 Z" fill="#58e26a"/>
<ellipse cx="158.80" cy="323.60" rx="3.40" ry="6.60" fill="#d8ee3c" transform="rotate(30 158.80 323.60)"/>
<ellipse cx="158.80" cy="323.60" rx="2.40" ry="5.20" fill="#ffb02a" transform="rotate(30 158.80 323.60)"/>
<ellipse cx="158.80" cy="323.60" rx="1.40" ry="3.60" fill="#ee2a1e" transform="rotate(30 158.80 323.60)"/>
<ellipse cx="166.20" cy="319.00" rx="2.20" ry="4.80" fill="#d8ee3c" transform="rotate(30 166.20 319.00)"/>
<ellipse cx="166.20" cy="319.00" rx="1.20" ry="3.00" fill="#ffb02a" transform="rotate(30 166.20 319.00)"/>
</g>
<line x1="134.40" y1="343.24" x2="136.20" y2="343.24" stroke="#111" stroke-width="0.6" />
<line x1="134.40" y1="341.14" x2="136.20" y2="341.14" stroke="#111" stroke-width="0.6" />
<line x1="134.40" y1="339.64" x2="136.20" y2="339.64" stroke="#111" stroke-width="0.6" />
<line x1="134.40" y1="338.49" x2="136.20" y2="338.49" stroke="#111" stroke-width="0.6" />
<line x1="134.40" y1="337.54" x2="136.20" y2="337.54" stroke="#111" stroke-width="0.6" />
<line x1="134.40" y1="336.74" x2="136.20" y2="336.74" stroke="#111" stroke-width="0.6" />
<line x1="134.40" y1="336.05" x2="136.20" y2="336.05" stroke="#111" stroke-width="0.6" />
<line x1="134.40" y1="335.44" x2="136.20" y2="335.44" stroke="#111" stroke-width="0.6" />
<line x1="134.40" y1="331.30" x2="136.20" y2="331.30" stroke="#111" stroke-width="0.6" />
<line x1="134.40" y1="329.20" x2="136.20" y2="329.20" stroke="#111" stroke-width="0.6" />
<line x1="134.40" y1="327.71" x2="136.20" y2="327.71" stroke="#111" stroke-width="0.6" />
<line x1="134.40" y1="326.55" x2="136.20" y2="326.55" stroke="#111" stroke-width="0.6" />
<line x1="134.40" y1="325.60" x2="136.20" y2="325.60" stroke="#111" stroke-width="0.6" />
<line x1="134.40" y1="324.81" x2="136.20" y2="324.81" stroke="#111" stroke-width="0.6" />
<line x1="134.40" y1="324.11" x2="136.20" y2="324.11" stroke="#111" stroke-width="0.6" />
<line x1="134.40" y1="323.50" x2="136.20" y2="323.50" stroke="#111" stroke-width="0.6" />
<line x1="134.40" y1="319.59" x2="136.20" y2="319.59" stroke="#111" stroke-width="0.6" />
<line x1="134.40" y1="317.62" x2="136.20" y2="317.62" stroke="#111" stroke-width="0.6" />
<line x1="134.40" y1="316.23" x2="136.20" y2="316.23" stroke="#111" stroke-width="0.6" />
<line x1="134.40" y1="315.14" x2="136.20" y2="315.14" stroke="#111" stroke-width="0.6" />
<line x1="134.40" y1="314.26" x2="136.20" y2="314.26" stroke="#111" stroke-width="0.6" />
<line x1="134.40" y1="313.51" x2="136.20" y2="313.51" stroke="#111" stroke-width="0.6" />
<line x1="134.40" y1="312.86" x2="136.20" y2="312.86" stroke="#111" stroke-width="0.6" />
<line x1="134.40" y1="312.29" x2="136.20" y2="312.29" stroke="#111" stroke-width="0.6" />
<line x1="133.60" y1="311.78" x2="136.20" y2="311.78" stroke="#111" stroke-width="0.8" />
<line x1="133.60" y1="322.96" x2="136.20" y2="322.96" stroke="#111" stroke-width="0.8" />
<line x1="133.60" y1="334.89" x2="136.20" y2="334.89" stroke="#111" stroke-width="0.8" />
<line x1="133.60" y1="346.83" x2="136.20" y2="346.83" stroke="#111" stroke-width="0.8" />
<line x1="133.60" y1="351.66" x2="136.20" y2="351.66" stroke="#111" stroke-width="0.8" />
<line x1="134.40" y1="352.42" x2="136.20" y2="352.42" stroke="#111" stroke-width="0.6" />
<line x1="134.40" y1="353.33" x2="136.20" y2="353.33" stroke="#111" stroke-width="0.6" />
<line x1="134.40" y1="354.25" x2="136.20" y2="354.25" stroke="#111" stroke-width="0.6" />
<line x1="134.40" y1="355.16" x2="136.20" y2="355.16" stroke="#111" stroke-width="0.6" />
<line x1="134.40" y1="356.08" x2="136.20" y2="356.08" stroke="#111" stroke-width="0.6" />
<line x1="134.40" y1="356.99" x2="136.20" y2="356.99" stroke="#111" stroke-width="0.6" />
<line x1="150.44" y1="357.50" x2="150.44" y2="359.30" stroke="#111" stroke-width="0.6" />
<line x1="152.62" y1="357.50" x2="152.62" y2="359.30" stroke="#111" stroke-width="0.6" />
<line x1="154.16" y1="357.50" x2="154.16" y2="359.30" stroke="#111" stroke-width="0.6" />
<line x1="155.36" y1="357.50" x2="155.36" y2="359.30" stroke="#111" stroke-width="0.6" />
<line x1="156.34" y1="357.50" x2="156.34" y2="359.30" stroke="#111" stroke-width="0.6" />
<line x1="157.17" y1="357.50" x2="157.17" y2="359.30" stroke="#111" stroke-width="0.6" />
<line x1="157.88" y1="357.50" x2="157.88" y2="359.30" stroke="#111" stroke-width="0.6" />
<line x1="158.52" y1="357.50" x2="158.52" y2="359.30" stroke="#111" stroke-width="0.6" />
<line x1="162.88" y1="357.50" x2="162.88" y2="359.30" stroke="#111" stroke-width="0.6" />
<line x1="165.10" y1="357.50" x2="165.10" y2="359.30" stroke="#111" stroke-width="0.6" />
<line x1="166.68" y1="357.50" x2="166.68" y2="359.30" stroke="#111" stroke-width="0.6" />
<line x1="167.90" y1="357.50" x2="167.90" y2="359.30" stroke="#111" stroke-width="0.6" />
<line x1="168.90" y1="357.50" x2="168.90" y2="359.30" stroke="#111" stroke-width="0.6" />
<line x1="169.75" y1="357.50" x2="169.75" y2="359.30" stroke="#111" stroke-width="0.6" />
<line x1="170.48" y1="357.50" x2="170.48" y2="359.30" stroke="#111" stroke-width="0.6" />
<line x1="171.13" y1="357.50" x2="171.13" y2="359.30" stroke="#111" stroke-width="0.6" />
<line x1="175.27" y1="357.50" x2="175.27" y2="359.30" stroke="#111" stroke-width="0.6" />
<line x1="177.35" y1="357.50" x2="177.35" y2="359.30" stroke="#111" stroke-width="0.6" />
<line x1="178.83" y1="357.50" x2="178.83" y2="359.30" stroke="#111" stroke-width="0.6" />
<line x1="179.98" y1="357.50" x2="179.98" y2="359.30" stroke="#111" stroke-width="0.6" />
<line x1="180.91" y1="357.50" x2="180.91" y2="359.30" stroke="#111" stroke-width="0.6" />
<line x1="181.71" y1="357.50" x2="181.71" y2="359.30" stroke="#111" stroke-width="0.6" />
<line x1="182.39" y1="357.50" x2="182.39" y2="359.30" stroke="#111" stroke-width="0.6" />
<line x1="183.00" y1="357.50" x2="183.00" y2="359.30" stroke="#111" stroke-width="0.6" />
<line x1="146.72" y1="357.50" x2="146.72" y2="360.10" stroke="#111" stroke-width="0.8" />
<line x1="159.08" y1="357.50" x2="159.08" y2="360.10" stroke="#111" stroke-width="0.8" />
<line x1="171.71" y1="357.50" x2="171.71" y2="360.10" stroke="#111" stroke-width="0.8" />
<line x1="183.54" y1="357.50" x2="183.54" y2="360.10" stroke="#111" stroke-width="0.8" />
<line x1="142.25" y1="357.50" x2="142.25" y2="360.10" stroke="#111" stroke-width="0.8" />
<line x1="136.73" y1="357.50" x2="136.73" y2="359.30" stroke="#111" stroke-width="0.6" />
<line x1="137.67" y1="357.50" x2="137.67" y2="359.30" stroke="#111" stroke-width="0.6" />
<line x1="138.62" y1="357.50" x2="138.62" y2="359.30" stroke="#111" stroke-width="0.6" />
<line x1="139.57" y1="357.50" x2="139.57" y2="359.30" stroke="#111" stroke-width="0.6" />
<line x1="140.51" y1="357.50" x2="140.51" y2="359.30" stroke="#111" stroke-width="0.6" />
<line x1="141.46" y1="357.50" x2="141.46" y2="359.30" stroke="#111" stroke-width="0.6" />
<rect x="136.20" y="306.70" width="52.60" height="50.80" fill="none" stroke="#111" stroke-width="1.1" />
<text x="130.60" y="314.28" font-size="4.9" text-anchor="end" font-weight="normal" fill="#333" >10<tspan dy="-1.8" font-size="3.2">5</tspan><tspan dy="1.8" font-size="1">&#8203;</tspan></text>
<text x="130.60" y="325.46" font-size="4.9" text-anchor="end" font-weight="normal" fill="#333" >10<tspan dy="-1.8" font-size="3.2">4</tspan><tspan dy="1.8" font-size="1">&#8203;</tspan></text>
<text x="130.60" y="337.39" font-size="4.9" text-anchor="end" font-weight="normal" fill="#333" >10<tspan dy="-1.8" font-size="3.2">3</tspan><tspan dy="1.8" font-size="1">&#8203;</tspan></text>
<text x="130.60" y="349.33" font-size="4.9" text-anchor="end" font-weight="normal" fill="#333" >10<tspan dy="-1.8" font-size="3.2">2</tspan><tspan dy="1.8" font-size="1">&#8203;</tspan></text>
<text x="129.00" y="353.86" font-size="4.9" text-anchor="end" font-weight="normal" fill="#333" >0</text>
<text x="143.25" y="366.80" font-size="4.9" text-anchor="end" font-weight="normal" fill="#333" >0</text>
<text x="147.72" y="366.80" font-size="4.9" text-anchor="middle" font-weight="normal" fill="#333" >10<tspan dy="-1.8" font-size="3.2">2</tspan><tspan dy="1.8" font-size="1">&#8203;</tspan></text>
<text x="159.58" y="366.80" font-size="4.9" text-anchor="middle" font-weight="normal" fill="#333" >10<tspan dy="-1.8" font-size="3.2">3</tspan><tspan dy="1.8" font-size="1">&#8203;</tspan></text>
<text x="172.21" y="366.80" font-size="4.9" text-anchor="middle" font-weight="normal" fill="#333" >10<tspan dy="-1.8" font-size="3.2">4</tspan><tspan dy="1.8" font-size="1">&#8203;</tspan></text>
<text x="184.04" y="366.80" font-size="4.9" text-anchor="middle" font-weight="normal" fill="#333" >10<tspan dy="-1.8" font-size="3.2">5</tspan><tspan dy="1.8" font-size="1">&#8203;</tspan></text>
<path d="M162 307.0 L162 342.5 L185.8 342.5" fill="none" stroke="#333" stroke-width="0.6"/>
<line x1="162.00" y1="307.60" x2="185.80" y2="307.60" stroke="#555" stroke-width="0.5" />
<line x1="185.80" y1="307.00" x2="185.80" y2="334.50" stroke="#888" stroke-width="0.9" />
<text x="183.00" y="341.10" font-size="4.5" text-anchor="middle" font-weight="normal" fill="#222" stroke="#444" stroke-width="0.12">40</text>
<rect x="232.50" y="289.18" width="10.50" height="43.32" fill="#a8002b" stroke="none" stroke-width="1" />
<line x1="237.75" y1="289.18" x2="237.75" y2="288.04" stroke="#111" stroke-width="0.8" />
<line x1="235.55" y1="288.04" x2="239.95" y2="288.04" stroke="#111" stroke-width="0.8" />
<rect x="247.00" y="281.20" width="10.50" height="51.30" fill="#2c4a7c" stroke="none" stroke-width="1" />
<line x1="252.25" y1="281.20" x2="252.25" y2="280.29" stroke="#111" stroke-width="0.8" />
<line x1="250.05" y1="280.29" x2="254.45" y2="280.29" stroke="#111" stroke-width="0.8" />
<rect x="272.00" y="300.58" width="10.50" height="31.92" fill="#a8002b" stroke="none" stroke-width="1" />
<line x1="277.25" y1="300.58" x2="277.25" y2="299.78" stroke="#111" stroke-width="0.8" />
<line x1="275.05" y1="299.78" x2="279.45" y2="299.78" stroke="#111" stroke-width="0.8" />
<rect x="286.20" y="291.46" width="10.50" height="41.04" fill="#2c4a7c" stroke="none" stroke-width="1" />
<line x1="291.45" y1="291.46" x2="291.45" y2="290.09" stroke="#111" stroke-width="0.8" />
<line x1="289.25" y1="290.09" x2="293.65" y2="290.09" stroke="#111" stroke-width="0.8" />
<line x1="225.00" y1="272.50" x2="225.00" y2="333.10" stroke="#111" stroke-width="1.2" />
<line x1="224.40" y1="332.50" x2="304.60" y2="332.50" stroke="#111" stroke-width="1.2" />
<line x1="222.20" y1="332.50" x2="225.00" y2="332.50" stroke="#111" stroke-width="0.9" />
<text transform="translate(221.60 335.20) scale(1.08 1)" font-size="7.5" text-anchor="end" font-weight="normal" fill="#222"  stroke="#222" stroke-width="0.1">0</text>
<line x1="222.20" y1="304.00" x2="225.00" y2="304.00" stroke="#111" stroke-width="0.9" />
<text transform="translate(221.60 306.70) scale(1.08 1)" font-size="7.5" text-anchor="end" font-weight="normal" fill="#222"  stroke="#222" stroke-width="0.1">25</text>
<line x1="222.20" y1="275.50" x2="225.00" y2="275.50" stroke="#111" stroke-width="0.9" />
<text transform="translate(221.60 278.20) scale(1.08 1)" font-size="7.5" text-anchor="end" font-weight="normal" fill="#222"  stroke="#222" stroke-width="0.1">50</text>
<line x1="245.00" y1="332.50" x2="245.00" y2="335.30" stroke="#111" stroke-width="0.9" />
<text x="245.00" y="345.00" font-size="6.8" text-anchor="middle" font-weight="normal" fill="#222"  stroke="#222" stroke-width="0.1">IL-2</text>
<line x1="284.50" y1="332.50" x2="284.50" y2="335.30" stroke="#111" stroke-width="0.9" />
<text x="284.50" y="345.00" font-size="6.8" text-anchor="middle" font-weight="normal" fill="#222"  stroke="#222" stroke-width="0.1">+IL-12</text>
<text transform="translate(205.60 302.50) rotate(-90) scale(0.75 1)" font-size="8.4" text-anchor="middle" font-weight="normal" fill="#222"  stroke="#222" stroke-width="0.1">%Foxp3</text>
<path d="M237.60 278.20 L237.60 275.60 L252.40 275.60 L252.40 278.20" fill="none" stroke="#111" stroke-width="0.9"/>
<text x="245.00" y="277.60" font-size="8.4" text-anchor="middle" font-weight="normal" fill="#222"  stroke="#222" stroke-width="0.1">***</text>
<path d="M276.80 288.90 L276.80 286.30 L291.30 286.30 L291.30 288.90" fill="none" stroke="#111" stroke-width="0.9"/>
<text x="284.00" y="288.30" font-size="8.4" text-anchor="middle" font-weight="normal" fill="#222"  stroke="#222" stroke-width="0.1">***</text>
<rect x="232.00" y="243.00" width="13.50" height="6.50" fill="#a8002b" stroke="none" stroke-width="1" />
<text x="248.70" y="248.70" font-size="6.8" text-anchor="start" font-weight="normal" fill="#222"  stroke="#222" stroke-width="0.1">WT iTregs</text>
<rect x="232.00" y="255.20" width="13.50" height="6.50" fill="#2c4a7c" stroke="none" stroke-width="1" />
<text x="248.70" y="260.90" font-size="6.8" text-anchor="start" font-weight="normal" fill="#222"  stroke="#222" stroke-width="0.1">Sirt-1<tspan dy="-2.6" font-size="4.5">-/-</tspan><tspan dy="2.6" font-size="1">&#8203;</tspan> iTregs</text>
<text transform="translate(314.50 270.60) scale(1.07 1)" font-size="11.9" text-anchor="start" font-weight="bold" fill="#111" stroke="#111" stroke-width="0.35">E</text>
<text x="350.40" y="284.30" font-size="6.8" text-anchor="middle" font-weight="normal" fill="#222"  stroke="#222" stroke-width="0.1">iTregs Transfer</text>
<text x="350.40" y="292.80" font-size="6.8" text-anchor="middle" font-weight="normal" fill="#222"  stroke="#222" stroke-width="0.1">(Ly5.2<tspan dy="-2.4" font-size="4.2">+</tspan><tspan dy="2.4" font-size="1">&#8203;</tspan>)</text>
<text x="419.00" y="284.30" font-size="6.8" text-anchor="middle" font-weight="normal" fill="#222"  stroke="#222" stroke-width="0.1">T cells</text>
<text x="419.00" y="292.80" font-size="6.8" text-anchor="middle" font-weight="normal" fill="#222"  stroke="#222" stroke-width="0.1">(Ly5.1<tspan dy="-2.4" font-size="4.2">+</tspan><tspan dy="2.4" font-size="1">&#8203;</tspan>)</text>
<text x="495.00" y="284.30" font-size="6.8" text-anchor="middle" font-weight="normal" fill="#222"  stroke="#222" stroke-width="0.1">% Foxp3</text>
<text x="495.00" y="292.80" font-size="6.8" text-anchor="middle" font-weight="normal" fill="#222"  stroke="#222" stroke-width="0.1">on iTregs</text>
<line x1="350.40" y1="308.70" x2="495.00" y2="308.70" stroke="#333" stroke-width="1.0" />
<line x1="350.40" y1="299.40" x2="350.40" y2="317.60" stroke="#333" stroke-width="1.0" />
<line x1="419.00" y1="299.40" x2="419.00" y2="317.60" stroke="#333" stroke-width="1.0" />
<line x1="495.00" y1="299.40" x2="495.00" y2="317.60" stroke="#333" stroke-width="1.0" />
<text x="350.40" y="330.20" font-size="6.8" text-anchor="middle" font-weight="normal" fill="#222"  stroke="#222" stroke-width="0.1">d 0</text>
<text x="419.00" y="330.20" font-size="6.8" text-anchor="middle" font-weight="normal" fill="#222"  stroke="#222" stroke-width="0.1">d 3</text>
<text x="497.00" y="330.20" font-size="6.8" text-anchor="middle" font-weight="normal" fill="#222"  stroke="#222" stroke-width="0.1">d 7 &amp; d14</text>
<text transform="translate(7.50 398.80) scale(1.07 1)" font-size="11.9" text-anchor="start" font-weight="bold" fill="#111" stroke="#111" stroke-width="0.35">F</text>
<text x="132.00" y="403.30" font-size="6.8" text-anchor="middle" font-weight="normal" fill="#222"  stroke="#222" stroke-width="0.1">Gated on Ly5.2 (d 7)</text>
<line x1="68.40" y1="408.20" x2="195.80" y2="408.20" stroke="#222" stroke-width="1.4" />
<text x="23.50" y="437.30" font-size="6.8" text-anchor="middle" font-weight="normal" fill="#222"  stroke="#222" stroke-width="0.1">WT</text>
<text x="23.50" y="446.10" font-size="6.8" text-anchor="middle" font-weight="normal" fill="#222"  stroke="#222" stroke-width="0.1">iTregs</text>
<text x="23.50" y="507.80" font-size="6.8" text-anchor="middle" font-weight="normal" fill="#222"  stroke="#222" stroke-width="0.1">Sirt-1<tspan dy="-2.6" font-size="4.5">-/-</tspan><tspan dy="2.6" font-size="1">&#8203;</tspan></text>
<text x="23.50" y="516.60" font-size="6.8" text-anchor="middle" font-weight="normal" fill="#222"  stroke="#222" stroke-width="0.1">iTregs</text>
<line x1="42.30" y1="416.88" x2="42.30" y2="495.40" stroke="#333" stroke-width="1.3" />
<path d="M42.30 411.00 L45.90 419.40 L42.30 417.72 L38.70 419.40 Z" fill="#000"/>
<text transform="translate(45.00 506.40) rotate(-90) scale(0.67 1)" font-size="8.0" text-anchor="middle" font-weight="normal" fill="#222"  stroke="#222" stroke-width="0.1">Foxp3</text>
<line x1="127.00" y1="418.38" x2="127.00" y2="495.00" stroke="#333" stroke-width="1.3" />
<path d="M127.00 412.50 L130.60 420.90 L127.00 419.22 L123.40 420.90 Z" fill="#000"/>
<text transform="translate(129.40 507.00) rotate(-90) scale(0.67 1)" font-size="8.0" text-anchor="middle" font-weight="normal" fill="#222"  stroke="#222" stroke-width="0.1">#cells</text>
<text transform="translate(89.50 555.30) scale(0.67 1)" font-size="8.0" text-anchor="middle" font-weight="normal" fill="#222"  stroke="#222" stroke-width="0.1">CD4</text>
<text transform="translate(174.50 555.30) scale(0.67 1)" font-size="8.0" text-anchor="middle" font-weight="normal" fill="#222"  stroke="#222" stroke-width="0.1">CD25</text>
<clipPath id="c10"><rect x="63.7" y="414.5" width="51.8" height="51.19999999999999"/></clipPath>
<g filter="url(#soft)" clip-path="url(#c10)">
<path d="M94.00 441.20 C94.00 433.40 107.00 433.40 107.00 441.20 C107.00 447.80 104.80 450.80 104.80 466.70 L96.20 466.70 C96.20 450.80 94.00 447.80 94.00 441.20 Z" fill="#2b35d8"/>
<path d="M95.30 441.20 C95.30 434.83 105.70 434.83 105.70 441.20 C105.70 446.59 103.80 449.04 103.80 466.70 L97.20 466.70 C97.20 449.04 95.30 446.59 95.30 441.20 Z" fill="#2a7cf0"/>
<path d="M96.20 441.20 C96.20 436.00 104.80 436.00 104.80 441.20 C104.80 445.60 102.80 447.60 102.80 466.70 L98.20 466.70 C98.20 447.60 96.20 445.60 96.20 441.20 Z" fill="#35d7e6"/>
<path d="M97.00 441.20 C97.00 437.17 104.00 437.17 104.00 441.20 C104.00 444.61 101.90 446.16 101.90 457.70 L99.10 457.70 C99.10 446.16 97.00 444.61 97.00 441.20 Z" fill="#58e26a"/>
<path d="M98.20 441.20 C98.20 438.47 102.80 438.47 102.80 441.20 C102.80 443.51 101.10 444.56 101.10 451.70 L99.90 451.70 C99.90 444.56 98.20 443.51 98.20 441.20 Z" fill="#d8ee3c"/>
<ellipse cx="100.50" cy="441.20" rx="1.70" ry="2.10" fill="#ffb02a" transform="rotate(0 100.50 441.20)"/>
<ellipse cx="100.50" cy="441.20" rx="1.20" ry="1.50" fill="#ee2a1e" transform="rotate(0 100.50 441.20)"/>
<ellipse cx="100.7" cy="448.0" rx="0.8" ry="1.3" fill="#ffb02a"/>
<ellipse cx="100.5" cy="465.7" rx="2.6" ry="1.2" fill="#58e26a"/>
<ellipse cx="100.5" cy="466.0" rx="1.3" ry="0.8" fill="#ffb02a"/>
</g>
<line x1="61.90" y1="451.33" x2="63.70" y2="451.33" stroke="#111" stroke-width="0.6" />
<line x1="61.90" y1="449.21" x2="63.70" y2="449.21" stroke="#111" stroke-width="0.6" />
<line x1="61.90" y1="447.70" x2="63.70" y2="447.70" stroke="#111" stroke-width="0.6" />
<line x1="61.90" y1="446.54" x2="63.70" y2="446.54" stroke="#111" stroke-width="0.6" />
<line x1="61.90" y1="445.59" x2="63.70" y2="445.59" stroke="#111" stroke-width="0.6" />
<line x1="61.90" y1="444.78" x2="63.70" y2="444.78" stroke="#111" stroke-width="0.6" />
<line x1="61.90" y1="444.08" x2="63.70" y2="444.08" stroke="#111" stroke-width="0.6" />
<line x1="61.90" y1="443.47" x2="63.70" y2="443.47" stroke="#111" stroke-width="0.6" />
<line x1="61.90" y1="439.29" x2="63.70" y2="439.29" stroke="#111" stroke-width="0.6" />
<line x1="61.90" y1="437.18" x2="63.70" y2="437.18" stroke="#111" stroke-width="0.6" />
<line x1="61.90" y1="435.67" x2="63.70" y2="435.67" stroke="#111" stroke-width="0.6" />
<line x1="61.90" y1="434.51" x2="63.70" y2="434.51" stroke="#111" stroke-width="0.6" />
<line x1="61.90" y1="433.55" x2="63.70" y2="433.55" stroke="#111" stroke-width="0.6" />
<line x1="61.90" y1="432.75" x2="63.70" y2="432.75" stroke="#111" stroke-width="0.6" />
<line x1="61.90" y1="432.05" x2="63.70" y2="432.05" stroke="#111" stroke-width="0.6" />
<line x1="61.90" y1="431.43" x2="63.70" y2="431.43" stroke="#111" stroke-width="0.6" />
<line x1="61.90" y1="427.49" x2="63.70" y2="427.49" stroke="#111" stroke-width="0.6" />
<line x1="61.90" y1="425.51" x2="63.70" y2="425.51" stroke="#111" stroke-width="0.6" />
<line x1="61.90" y1="424.10" x2="63.70" y2="424.10" stroke="#111" stroke-width="0.6" />
<line x1="61.90" y1="423.01" x2="63.70" y2="423.01" stroke="#111" stroke-width="0.6" />
<line x1="61.90" y1="422.12" x2="63.70" y2="422.12" stroke="#111" stroke-width="0.6" />
<line x1="61.90" y1="421.36" x2="63.70" y2="421.36" stroke="#111" stroke-width="0.6" />
<line x1="61.90" y1="420.71" x2="63.70" y2="420.71" stroke="#111" stroke-width="0.6" />
<line x1="61.90" y1="420.14" x2="63.70" y2="420.14" stroke="#111" stroke-width="0.6" />
<line x1="61.10" y1="419.62" x2="63.70" y2="419.62" stroke="#111" stroke-width="0.8" />
<line x1="61.10" y1="430.88" x2="63.70" y2="430.88" stroke="#111" stroke-width="0.8" />
<line x1="61.10" y1="442.92" x2="63.70" y2="442.92" stroke="#111" stroke-width="0.8" />
<line x1="61.10" y1="454.95" x2="63.70" y2="454.95" stroke="#111" stroke-width="0.8" />
<line x1="61.10" y1="459.81" x2="63.70" y2="459.81" stroke="#111" stroke-width="0.8" />
<line x1="61.90" y1="460.58" x2="63.70" y2="460.58" stroke="#111" stroke-width="0.6" />
<line x1="61.90" y1="461.50" x2="63.70" y2="461.50" stroke="#111" stroke-width="0.6" />
<line x1="61.90" y1="462.42" x2="63.70" y2="462.42" stroke="#111" stroke-width="0.6" />
<line x1="61.90" y1="463.34" x2="63.70" y2="463.34" stroke="#111" stroke-width="0.6" />
<line x1="61.90" y1="464.27" x2="63.70" y2="464.27" stroke="#111" stroke-width="0.6" />
<line x1="61.90" y1="465.19" x2="63.70" y2="465.19" stroke="#111" stroke-width="0.6" />
<line x1="77.72" y1="465.70" x2="77.72" y2="467.50" stroke="#111" stroke-width="0.6" />
<line x1="79.87" y1="465.70" x2="79.87" y2="467.50" stroke="#111" stroke-width="0.6" />
<line x1="81.39" y1="465.70" x2="81.39" y2="467.50" stroke="#111" stroke-width="0.6" />
<line x1="82.57" y1="465.70" x2="82.57" y2="467.50" stroke="#111" stroke-width="0.6" />
<line x1="83.53" y1="465.70" x2="83.53" y2="467.50" stroke="#111" stroke-width="0.6" />
<line x1="84.35" y1="465.70" x2="84.35" y2="467.50" stroke="#111" stroke-width="0.6" />
<line x1="85.05" y1="465.70" x2="85.05" y2="467.50" stroke="#111" stroke-width="0.6" />
<line x1="85.68" y1="465.70" x2="85.68" y2="467.50" stroke="#111" stroke-width="0.6" />
<line x1="89.98" y1="465.70" x2="89.98" y2="467.50" stroke="#111" stroke-width="0.6" />
<line x1="92.16" y1="465.70" x2="92.16" y2="467.50" stroke="#111" stroke-width="0.6" />
<line x1="93.72" y1="465.70" x2="93.72" y2="467.50" stroke="#111" stroke-width="0.6" />
<line x1="94.92" y1="465.70" x2="94.92" y2="467.50" stroke="#111" stroke-width="0.6" />
<line x1="95.91" y1="465.70" x2="95.91" y2="467.50" stroke="#111" stroke-width="0.6" />
<line x1="96.74" y1="465.70" x2="96.74" y2="467.50" stroke="#111" stroke-width="0.6" />
<line x1="97.46" y1="465.70" x2="97.46" y2="467.50" stroke="#111" stroke-width="0.6" />
<line x1="98.10" y1="465.70" x2="98.10" y2="467.50" stroke="#111" stroke-width="0.6" />
<line x1="102.17" y1="465.70" x2="102.17" y2="467.50" stroke="#111" stroke-width="0.6" />
<line x1="104.23" y1="465.70" x2="104.23" y2="467.50" stroke="#111" stroke-width="0.6" />
<line x1="105.68" y1="465.70" x2="105.68" y2="467.50" stroke="#111" stroke-width="0.6" />
<line x1="106.81" y1="465.70" x2="106.81" y2="467.50" stroke="#111" stroke-width="0.6" />
<line x1="107.73" y1="465.70" x2="107.73" y2="467.50" stroke="#111" stroke-width="0.6" />
<line x1="108.51" y1="465.70" x2="108.51" y2="467.50" stroke="#111" stroke-width="0.6" />
<line x1="109.19" y1="465.70" x2="109.19" y2="467.50" stroke="#111" stroke-width="0.6" />
<line x1="109.79" y1="465.70" x2="109.79" y2="467.50" stroke="#111" stroke-width="0.6" />
<line x1="74.06" y1="465.70" x2="74.06" y2="468.30" stroke="#111" stroke-width="0.8" />
<line x1="86.23" y1="465.70" x2="86.23" y2="468.30" stroke="#111" stroke-width="0.8" />
<line x1="98.67" y1="465.70" x2="98.67" y2="468.30" stroke="#111" stroke-width="0.8" />
<line x1="110.32" y1="465.70" x2="110.32" y2="468.30" stroke="#111" stroke-width="0.8" />
<line x1="69.66" y1="465.70" x2="69.66" y2="468.30" stroke="#111" stroke-width="0.8" />
<line x1="64.22" y1="465.70" x2="64.22" y2="467.50" stroke="#111" stroke-width="0.6" />
<line x1="65.15" y1="465.70" x2="65.15" y2="467.50" stroke="#111" stroke-width="0.6" />
<line x1="66.08" y1="465.70" x2="66.08" y2="467.50" stroke="#111" stroke-width="0.6" />
<line x1="67.02" y1="465.70" x2="67.02" y2="467.50" stroke="#111" stroke-width="0.6" />
<line x1="67.95" y1="465.70" x2="67.95" y2="467.50" stroke="#111" stroke-width="0.6" />
<line x1="68.88" y1="465.70" x2="68.88" y2="467.50" stroke="#111" stroke-width="0.6" />
<rect x="63.70" y="414.50" width="51.80" height="51.20" fill="none" stroke="#111" stroke-width="1.1" />
<text x="58.10" y="422.12" font-size="4.9" text-anchor="end" font-weight="normal" fill="#333" >10<tspan dy="-1.8" font-size="3.2">5</tspan><tspan dy="1.8" font-size="1">&#8203;</tspan></text>
<text x="58.10" y="433.38" font-size="4.9" text-anchor="end" font-weight="normal" fill="#333" >10<tspan dy="-1.8" font-size="3.2">4</tspan><tspan dy="1.8" font-size="1">&#8203;</tspan></text>
<text x="58.10" y="445.42" font-size="4.9" text-anchor="end" font-weight="normal" fill="#333" >10<tspan dy="-1.8" font-size="3.2">3</tspan><tspan dy="1.8" font-size="1">&#8203;</tspan></text>
<text x="58.10" y="457.45" font-size="4.9" text-anchor="end" font-weight="normal" fill="#333" >10<tspan dy="-1.8" font-size="3.2">2</tspan><tspan dy="1.8" font-size="1">&#8203;</tspan></text>
<text x="56.50" y="462.01" font-size="4.9" text-anchor="end" font-weight="normal" fill="#333" >0</text>
<text x="70.66" y="475.00" font-size="4.9" text-anchor="end" font-weight="normal" fill="#333" >0</text>
<text x="75.06" y="475.00" font-size="4.9" text-anchor="middle" font-weight="normal" fill="#333" >10<tspan dy="-1.8" font-size="3.2">2</tspan><tspan dy="1.8" font-size="1">&#8203;</tspan></text>
<text x="86.73" y="475.00" font-size="4.9" text-anchor="middle" font-weight="normal" fill="#333" >10<tspan dy="-1.8" font-size="3.2">3</tspan><tspan dy="1.8" font-size="1">&#8203;</tspan></text>
<text x="99.17" y="475.00" font-size="4.9" text-anchor="middle" font-weight="normal" fill="#333" >10<tspan dy="-1.8" font-size="3.2">4</tspan><tspan dy="1.8" font-size="1">&#8203;</tspan></text>
<text x="110.82" y="475.00" font-size="4.9" text-anchor="middle" font-weight="normal" fill="#333" >10<tspan dy="-1.8" font-size="3.2">5</tspan><tspan dy="1.8" font-size="1">&#8203;</tspan></text>
<path d="M90 414.5 L90 445 L115.5 445" fill="none" stroke="#7c7c84" stroke-width="1.0"/>
<text x="95.50" y="420.10" font-size="4.5" text-anchor="middle" font-weight="normal" fill="#222" stroke="#444" stroke-width="0.12">43</text>
<clipPath id="c11"><rect x="63.7" y="483.7" width="51.8" height="51.30000000000001"/></clipPath>
<g filter="url(#soft)" clip-path="url(#c11)">
<ellipse cx="96.0" cy="515.1" rx="4.3" ry="5.6" fill="#2b35d8" transform="rotate(-20 96.0 515.1)"/>
<path d="M94.70 510.60 C94.70 502.80 107.70 502.80 107.70 510.60 C107.70 517.20 105.50 520.20 105.50 536.00 L96.90 536.00 C96.90 520.20 94.70 517.20 94.70 510.60 Z" fill="#2b35d8"/>
<path d="M96.00 510.60 C96.00 504.23 106.40 504.23 106.40 510.60 C106.40 515.99 104.50 518.44 104.50 536.00 L97.90 536.00 C97.90 518.44 96.00 515.99 96.00 510.60 Z" fill="#2a7cf0"/>
<path d="M96.90 510.60 C96.90 505.40 105.50 505.40 105.50 510.60 C105.50 515.00 103.50 517.00 103.50 536.00 L98.90 536.00 C98.90 517.00 96.90 515.00 96.90 510.60 Z" fill="#35d7e6"/>
<path d="M97.70 510.60 C97.70 506.57 104.70 506.57 104.70 510.60 C104.70 514.01 102.60 515.56 102.60 527.10 L99.80 527.10 C99.80 515.56 97.70 514.01 97.70 510.60 Z" fill="#58e26a"/>
<path d="M98.90 510.60 C98.90 507.87 103.50 507.87 103.50 510.60 C103.50 512.91 101.80 513.96 101.80 521.10 L100.60 521.10 C100.60 513.96 98.90 512.91 98.90 510.60 Z" fill="#d8ee3c"/>
<ellipse cx="101.20" cy="510.60" rx="1.70" ry="2.10" fill="#ffb02a" transform="rotate(0 101.20 510.60)"/>
<ellipse cx="101.20" cy="510.60" rx="1.20" ry="1.50" fill="#ee2a1e" transform="rotate(0 101.20 510.60)"/>
<ellipse cx="101.4" cy="517.4" rx="0.8" ry="1.3" fill="#ffb02a"/>
<ellipse cx="101.2" cy="535" rx="2.6" ry="1.2" fill="#58e26a"/>
<ellipse cx="101.2" cy="535.3" rx="1.3" ry="0.8" fill="#ffb02a"/>
</g>
<line x1="61.90" y1="520.60" x2="63.70" y2="520.60" stroke="#111" stroke-width="0.6" />
<line x1="61.90" y1="518.48" x2="63.70" y2="518.48" stroke="#111" stroke-width="0.6" />
<line x1="61.90" y1="516.97" x2="63.70" y2="516.97" stroke="#111" stroke-width="0.6" />
<line x1="61.90" y1="515.80" x2="63.70" y2="515.80" stroke="#111" stroke-width="0.6" />
<line x1="61.90" y1="514.85" x2="63.70" y2="514.85" stroke="#111" stroke-width="0.6" />
<line x1="61.90" y1="514.04" x2="63.70" y2="514.04" stroke="#111" stroke-width="0.6" />
<line x1="61.90" y1="513.34" x2="63.70" y2="513.34" stroke="#111" stroke-width="0.6" />
<line x1="61.90" y1="512.72" x2="63.70" y2="512.72" stroke="#111" stroke-width="0.6" />
<line x1="61.90" y1="508.54" x2="63.70" y2="508.54" stroke="#111" stroke-width="0.6" />
<line x1="61.90" y1="506.42" x2="63.70" y2="506.42" stroke="#111" stroke-width="0.6" />
<line x1="61.90" y1="504.91" x2="63.70" y2="504.91" stroke="#111" stroke-width="0.6" />
<line x1="61.90" y1="503.75" x2="63.70" y2="503.75" stroke="#111" stroke-width="0.6" />
<line x1="61.90" y1="502.79" x2="63.70" y2="502.79" stroke="#111" stroke-width="0.6" />
<line x1="61.90" y1="501.98" x2="63.70" y2="501.98" stroke="#111" stroke-width="0.6" />
<line x1="61.90" y1="501.28" x2="63.70" y2="501.28" stroke="#111" stroke-width="0.6" />
<line x1="61.90" y1="500.67" x2="63.70" y2="500.67" stroke="#111" stroke-width="0.6" />
<line x1="61.90" y1="496.72" x2="63.70" y2="496.72" stroke="#111" stroke-width="0.6" />
<line x1="61.90" y1="494.73" x2="63.70" y2="494.73" stroke="#111" stroke-width="0.6" />
<line x1="61.90" y1="493.32" x2="63.70" y2="493.32" stroke="#111" stroke-width="0.6" />
<line x1="61.90" y1="492.23" x2="63.70" y2="492.23" stroke="#111" stroke-width="0.6" />
<line x1="61.90" y1="491.33" x2="63.70" y2="491.33" stroke="#111" stroke-width="0.6" />
<line x1="61.90" y1="490.58" x2="63.70" y2="490.58" stroke="#111" stroke-width="0.6" />
<line x1="61.90" y1="489.92" x2="63.70" y2="489.92" stroke="#111" stroke-width="0.6" />
<line x1="61.90" y1="489.35" x2="63.70" y2="489.35" stroke="#111" stroke-width="0.6" />
<line x1="61.10" y1="488.83" x2="63.70" y2="488.83" stroke="#111" stroke-width="0.8" />
<line x1="61.10" y1="500.12" x2="63.70" y2="500.12" stroke="#111" stroke-width="0.8" />
<line x1="61.10" y1="512.17" x2="63.70" y2="512.17" stroke="#111" stroke-width="0.8" />
<line x1="61.10" y1="524.23" x2="63.70" y2="524.23" stroke="#111" stroke-width="0.8" />
<line x1="61.10" y1="529.10" x2="63.70" y2="529.10" stroke="#111" stroke-width="0.8" />
<line x1="61.90" y1="529.87" x2="63.70" y2="529.87" stroke="#111" stroke-width="0.6" />
<line x1="61.90" y1="530.79" x2="63.70" y2="530.79" stroke="#111" stroke-width="0.6" />
<line x1="61.90" y1="531.72" x2="63.70" y2="531.72" stroke="#111" stroke-width="0.6" />
<line x1="61.90" y1="532.64" x2="63.70" y2="532.64" stroke="#111" stroke-width="0.6" />
<line x1="61.90" y1="533.56" x2="63.70" y2="533.56" stroke="#111" stroke-width="0.6" />
<line x1="61.90" y1="534.49" x2="63.70" y2="534.49" stroke="#111" stroke-width="0.6" />
<line x1="77.72" y1="535.00" x2="77.72" y2="536.80" stroke="#111" stroke-width="0.6" />
<line x1="79.87" y1="535.00" x2="79.87" y2="536.80" stroke="#111" stroke-width="0.6" />
<line x1="81.39" y1="535.00" x2="81.39" y2="536.80" stroke="#111" stroke-width="0.6" />
<line x1="82.57" y1="535.00" x2="82.57" y2="536.80" stroke="#111" stroke-width="0.6" />
<line x1="83.53" y1="535.00" x2="83.53" y2="536.80" stroke="#111" stroke-width="0.6" />
<line x1="84.35" y1="535.00" x2="84.35" y2="536.80" stroke="#111" stroke-width="0.6" />
<line x1="85.05" y1="535.00" x2="85.05" y2="536.80" stroke="#111" stroke-width="0.6" />
<line x1="85.68" y1="535.00" x2="85.68" y2="536.80" stroke="#111" stroke-width="0.6" />
<line x1="89.98" y1="535.00" x2="89.98" y2="536.80" stroke="#111" stroke-width="0.6" />
<line x1="92.16" y1="535.00" x2="92.16" y2="536.80" stroke="#111" stroke-width="0.6" />
<line x1="93.72" y1="535.00" x2="93.72" y2="536.80" stroke="#111" stroke-width="0.6" />
<line x1="94.92" y1="535.00" x2="94.92" y2="536.80" stroke="#111" stroke-width="0.6" />
<line x1="95.91" y1="535.00" x2="95.91" y2="536.80" stroke="#111" stroke-width="0.6" />
<line x1="96.74" y1="535.00" x2="96.74" y2="536.80" stroke="#111" stroke-width="0.6" />
<line x1="97.46" y1="535.00" x2="97.46" y2="536.80" stroke="#111" stroke-width="0.6" />
<line x1="98.10" y1="535.00" x2="98.10" y2="536.80" stroke="#111" stroke-width="0.6" />
<line x1="102.17" y1="535.00" x2="102.17" y2="536.80" stroke="#111" stroke-width="0.6" />
<line x1="104.23" y1="535.00" x2="104.23" y2="536.80" stroke="#111" stroke-width="0.6" />
<line x1="105.68" y1="535.00" x2="105.68" y2="536.80" stroke="#111" stroke-width="0.6" />
<line x1="106.81" y1="535.00" x2="106.81" y2="536.80" stroke="#111" stroke-width="0.6" />
<line x1="107.73" y1="535.00" x2="107.73" y2="536.80" stroke="#111" stroke-width="0.6" />
<line x1="108.51" y1="535.00" x2="108.51" y2="536.80" stroke="#111" stroke-width="0.6" />
<line x1="109.19" y1="535.00" x2="109.19" y2="536.80" stroke="#111" stroke-width="0.6" />
<line x1="109.79" y1="535.00" x2="109.79" y2="536.80" stroke="#111" stroke-width="0.6" />
<line x1="74.06" y1="535.00" x2="74.06" y2="537.60" stroke="#111" stroke-width="0.8" />
<line x1="86.23" y1="535.00" x2="86.23" y2="537.60" stroke="#111" stroke-width="0.8" />
<line x1="98.67" y1="535.00" x2="98.67" y2="537.60" stroke="#111" stroke-width="0.8" />
<line x1="110.32" y1="535.00" x2="110.32" y2="537.60" stroke="#111" stroke-width="0.8" />
<line x1="69.66" y1="535.00" x2="69.66" y2="537.60" stroke="#111" stroke-width="0.8" />
<line x1="64.22" y1="535.00" x2="64.22" y2="536.80" stroke="#111" stroke-width="0.6" />
<line x1="65.15" y1="535.00" x2="65.15" y2="536.80" stroke="#111" stroke-width="0.6" />
<line x1="66.08" y1="535.00" x2="66.08" y2="536.80" stroke="#111" stroke-width="0.6" />
<line x1="67.02" y1="535.00" x2="67.02" y2="536.80" stroke="#111" stroke-width="0.6" />
<line x1="67.95" y1="535.00" x2="67.95" y2="536.80" stroke="#111" stroke-width="0.6" />
<line x1="68.88" y1="535.00" x2="68.88" y2="536.80" stroke="#111" stroke-width="0.6" />
<rect x="63.70" y="483.70" width="51.80" height="51.30" fill="none" stroke="#111" stroke-width="1.1" />
<text x="58.10" y="491.33" font-size="4.9" text-anchor="end" font-weight="normal" fill="#333" >10<tspan dy="-1.8" font-size="3.2">5</tspan><tspan dy="1.8" font-size="1">&#8203;</tspan></text>
<text x="58.10" y="502.62" font-size="4.9" text-anchor="end" font-weight="normal" fill="#333" >10<tspan dy="-1.8" font-size="3.2">4</tspan><tspan dy="1.8" font-size="1">&#8203;</tspan></text>
<text x="58.10" y="514.67" font-size="4.9" text-anchor="end" font-weight="normal" fill="#333" >10<tspan dy="-1.8" font-size="3.2">3</tspan><tspan dy="1.8" font-size="1">&#8203;</tspan></text>
<text x="58.10" y="526.73" font-size="4.9" text-anchor="end" font-weight="normal" fill="#333" >10<tspan dy="-1.8" font-size="3.2">2</tspan><tspan dy="1.8" font-size="1">&#8203;</tspan></text>
<text x="56.50" y="531.30" font-size="4.9" text-anchor="end" font-weight="normal" fill="#333" >0</text>
<text x="70.66" y="544.30" font-size="4.9" text-anchor="end" font-weight="normal" fill="#333" >0</text>
<text x="75.06" y="544.30" font-size="4.9" text-anchor="middle" font-weight="normal" fill="#333" >10<tspan dy="-1.8" font-size="3.2">2</tspan><tspan dy="1.8" font-size="1">&#8203;</tspan></text>
<text x="86.73" y="544.30" font-size="4.9" text-anchor="middle" font-weight="normal" fill="#333" >10<tspan dy="-1.8" font-size="3.2">3</tspan><tspan dy="1.8" font-size="1">&#8203;</tspan></text>
<text x="99.17" y="544.30" font-size="4.9" text-anchor="middle" font-weight="normal" fill="#333" >10<tspan dy="-1.8" font-size="3.2">4</tspan><tspan dy="1.8" font-size="1">&#8203;</tspan></text>
<text x="110.82" y="544.30" font-size="4.9" text-anchor="middle" font-weight="normal" fill="#333" >10<tspan dy="-1.8" font-size="3.2">5</tspan><tspan dy="1.8" font-size="1">&#8203;</tspan></text>
<path d="M90.2 483.7 L90.2 514.2 L115.5 514.2" fill="none" stroke="#444" stroke-width="0.7"/>
<text x="95.50" y="489.40" font-size="4.5" text-anchor="middle" font-weight="normal" fill="#222" stroke="#444" stroke-width="0.12">56</text>
<clipPath id="c12"><rect x="148.7" y="413.5" width="51.30000000000001" height="52.69999999999999"/></clipPath>
<path d="M148.7 466.0 L149.5 463.0 L150.5 464.5 L151.5 461.0 L153.0 456.0 L154.5 450.0 L156.0 444.0 L157.5 437.0 L159.0 431.0 L160.3 426.0 L161.2 423.5 L161.8 419.5 L162.5 416.8 L163.0 421.0 L163.8 419.5 L164.5 424.0 L165.5 427.5 L166.5 431.0 L167.5 433.5 L168.5 437.0 L169.3 436.0 L170.2 440.0 L171.5 442.0 L172.5 444.5 L173.5 443.8 L174.5 447.5 L176.0 449.5 L177.5 452.0 L178.5 451.0 L179.5 453.5 L180.5 452.5 L181.5 455.5 L183.0 457.5 L184.5 459.5 L186.0 461.0 L187.5 462.5 L189.0 463.8 L190.5 464.8 L192.5 465.6 L200.0 465.7" fill="none" stroke="#b8103a" stroke-width="1.0" stroke-linejoin="round" clip-path="url(#c12)"/>
<rect x="148.70" y="414.50" width="51.30" height="51.20" fill="none" stroke="#111" stroke-width="1.1" />
<line x1="146.30" y1="418.80" x2="148.70" y2="418.80" stroke="#111" stroke-width="0.7" />
<text x="145.30" y="420.50" font-size="4.6" text-anchor="end" font-weight="normal" fill="#333" >100</text>
<line x1="146.30" y1="428.10" x2="148.70" y2="428.10" stroke="#111" stroke-width="0.7" />
<text x="145.30" y="429.80" font-size="4.6" text-anchor="end" font-weight="normal" fill="#333" >80</text>
<line x1="146.30" y1="437.50" x2="148.70" y2="437.50" stroke="#111" stroke-width="0.7" />
<text x="145.30" y="439.20" font-size="4.6" text-anchor="end" font-weight="normal" fill="#333" >60</text>
<line x1="146.30" y1="446.80" x2="148.70" y2="446.80" stroke="#111" stroke-width="0.7" />
<text x="145.30" y="448.50" font-size="4.6" text-anchor="end" font-weight="normal" fill="#333" >40</text>
<line x1="146.30" y1="456.20" x2="148.70" y2="456.20" stroke="#111" stroke-width="0.7" />
<text x="145.30" y="457.90" font-size="4.6" text-anchor="end" font-weight="normal" fill="#333" >20</text>
<line x1="146.30" y1="465.50" x2="148.70" y2="465.50" stroke="#111" stroke-width="0.7" />
<text x="145.30" y="467.20" font-size="4.6" text-anchor="end" font-weight="normal" fill="#333" >0</text>
<line x1="162.59" y1="465.70" x2="162.59" y2="467.20" stroke="#222" stroke-width="0.5" />
<line x1="164.71" y1="465.70" x2="164.71" y2="467.20" stroke="#222" stroke-width="0.5" />
<line x1="166.22" y1="465.70" x2="166.22" y2="467.20" stroke="#222" stroke-width="0.5" />
<line x1="167.39" y1="465.70" x2="167.39" y2="467.20" stroke="#222" stroke-width="0.5" />
<line x1="168.34" y1="465.70" x2="168.34" y2="467.20" stroke="#222" stroke-width="0.5" />
<line x1="169.15" y1="465.70" x2="169.15" y2="467.20" stroke="#222" stroke-width="0.5" />
<line x1="169.85" y1="465.70" x2="169.85" y2="467.20" stroke="#222" stroke-width="0.5" />
<line x1="170.46" y1="465.70" x2="170.46" y2="467.20" stroke="#222" stroke-width="0.5" />
<line x1="174.72" y1="465.70" x2="174.72" y2="467.20" stroke="#222" stroke-width="0.5" />
<line x1="176.89" y1="465.70" x2="176.89" y2="467.20" stroke="#222" stroke-width="0.5" />
<line x1="178.43" y1="465.70" x2="178.43" y2="467.20" stroke="#222" stroke-width="0.5" />
<line x1="179.62" y1="465.70" x2="179.62" y2="467.20" stroke="#222" stroke-width="0.5" />
<line x1="180.60" y1="465.70" x2="180.60" y2="467.20" stroke="#222" stroke-width="0.5" />
<line x1="181.42" y1="465.70" x2="181.42" y2="467.20" stroke="#222" stroke-width="0.5" />
<line x1="182.13" y1="465.70" x2="182.13" y2="467.20" stroke="#222" stroke-width="0.5" />
<line x1="182.76" y1="465.70" x2="182.76" y2="467.20" stroke="#222" stroke-width="0.5" />
<line x1="186.80" y1="465.70" x2="186.80" y2="467.20" stroke="#222" stroke-width="0.5" />
<line x1="188.83" y1="465.70" x2="188.83" y2="467.20" stroke="#222" stroke-width="0.5" />
<line x1="190.28" y1="465.70" x2="190.28" y2="467.20" stroke="#222" stroke-width="0.5" />
<line x1="191.40" y1="465.70" x2="191.40" y2="467.20" stroke="#222" stroke-width="0.5" />
<line x1="192.31" y1="465.70" x2="192.31" y2="467.20" stroke="#222" stroke-width="0.5" />
<line x1="193.08" y1="465.70" x2="193.08" y2="467.20" stroke="#222" stroke-width="0.5" />
<line x1="193.75" y1="465.70" x2="193.75" y2="467.20" stroke="#222" stroke-width="0.5" />
<line x1="194.34" y1="465.70" x2="194.34" y2="467.20" stroke="#222" stroke-width="0.5" />
<line x1="158.96" y1="465.70" x2="158.96" y2="468.30" stroke="#111" stroke-width="0.8" />
<line x1="171.02" y1="465.70" x2="171.02" y2="468.30" stroke="#111" stroke-width="0.8" />
<line x1="183.33" y1="465.70" x2="183.33" y2="468.30" stroke="#111" stroke-width="0.8" />
<line x1="194.87" y1="465.70" x2="194.87" y2="468.30" stroke="#111" stroke-width="0.8" />
<line x1="154.60" y1="465.70" x2="154.60" y2="468.30" stroke="#111" stroke-width="0.8" />
<line x1="149.21" y1="465.70" x2="149.21" y2="467.20" stroke="#222" stroke-width="0.5" />
<line x1="150.14" y1="465.70" x2="150.14" y2="467.20" stroke="#222" stroke-width="0.5" />
<line x1="151.06" y1="465.70" x2="151.06" y2="467.20" stroke="#222" stroke-width="0.5" />
<line x1="151.98" y1="465.70" x2="151.98" y2="467.20" stroke="#222" stroke-width="0.5" />
<line x1="152.91" y1="465.70" x2="152.91" y2="467.20" stroke="#222" stroke-width="0.5" />
<line x1="153.83" y1="465.70" x2="153.83" y2="467.20" stroke="#222" stroke-width="0.5" />
<text x="155.60" y="475.00" font-size="4.9" text-anchor="end" font-weight="normal" fill="#333" >0</text>
<text x="159.96" y="475.00" font-size="4.9" text-anchor="middle" font-weight="normal" fill="#333" >10<tspan dy="-1.8" font-size="3.2">2</tspan><tspan dy="1.8" font-size="1">&#8203;</tspan></text>
<text x="171.52" y="475.00" font-size="4.9" text-anchor="middle" font-weight="normal" fill="#333" >10<tspan dy="-1.8" font-size="3.2">3</tspan><tspan dy="1.8" font-size="1">&#8203;</tspan></text>
<text x="183.83" y="475.00" font-size="4.9" text-anchor="middle" font-weight="normal" fill="#333" >10<tspan dy="-1.8" font-size="3.2">4</tspan><tspan dy="1.8" font-size="1">&#8203;</tspan></text>
<text x="195.37" y="475.00" font-size="4.9" text-anchor="middle" font-weight="normal" fill="#333" >10<tspan dy="-1.8" font-size="3.2">5</tspan><tspan dy="1.8" font-size="1">&#8203;</tspan></text>
<line x1="168.00" y1="421.30" x2="200.00" y2="421.30" stroke="#111" stroke-width="1.2" />
<line x1="168.00" y1="418.70" x2="168.00" y2="423.90" stroke="#111" stroke-width="1.0" />
<line x1="199.20" y1="418.70" x2="199.20" y2="423.90" stroke="#111" stroke-width="1.0" />
<text x="195.80" y="429.60" font-size="4.4" text-anchor="middle" font-weight="normal" fill="#222" stroke="#444" stroke-width="0.12">41</text>
<clipPath id="c13"><rect x="148.7" y="482.7" width="51.30000000000001" height="52.80000000000001"/></clipPath>
<path d="M148.7 535.0 L149.5 531.5 L150.5 533.0 L151.5 529.5 L153.0 527.0 L154.5 525.0 L156.0 520.0 L157.5 513.5 L159.0 506.5 L160.3 500.0 L161.5 494.5 L162.5 491.0 L163.2 488.5 L163.8 487.3 L164.5 491.0 L165.3 489.5 L166.0 493.0 L167.0 492.0 L167.8 496.5 L168.6 499.5 L169.4 496.0 L170.3 495.5 L171.2 498.5 L172.0 497.0 L173.0 499.5 L174.0 497.5 L175.0 498.8 L176.0 500.0 L177.0 498.2 L178.0 500.5 L179.0 499.0 L180.0 501.0 L181.0 499.2 L182.0 502.0 L182.8 507.0 L183.6 505.5 L184.5 511.0 L185.5 516.0 L186.5 520.5 L187.5 524.0 L188.5 527.0 L189.5 529.5 L190.5 531.5 L192.0 533.5 L193.5 534.6 L200.0 535.0" fill="none" stroke="#b8103a" stroke-width="1.0" stroke-linejoin="round" clip-path="url(#c13)"/>
<rect x="148.70" y="483.70" width="51.30" height="51.30" fill="none" stroke="#111" stroke-width="1.1" />
<line x1="146.30" y1="495.00" x2="148.70" y2="495.00" stroke="#111" stroke-width="0.7" />
<text x="145.30" y="496.70" font-size="4.6" text-anchor="end" font-weight="normal" fill="#333" >60</text>
<line x1="146.30" y1="508.30" x2="148.70" y2="508.30" stroke="#111" stroke-width="0.7" />
<text x="145.30" y="510.00" font-size="4.6" text-anchor="end" font-weight="normal" fill="#333" >40</text>
<line x1="146.30" y1="521.60" x2="148.70" y2="521.60" stroke="#111" stroke-width="0.7" />
<text x="145.30" y="523.30" font-size="4.6" text-anchor="end" font-weight="normal" fill="#333" >20</text>
<line x1="146.30" y1="534.60" x2="148.70" y2="534.60" stroke="#111" stroke-width="0.7" />
<text x="145.30" y="536.30" font-size="4.6" text-anchor="end" font-weight="normal" fill="#333" >0</text>
<line x1="162.59" y1="535.00" x2="162.59" y2="536.50" stroke="#222" stroke-width="0.5" />
<line x1="164.71" y1="535.00" x2="164.71" y2="536.50" stroke="#222" stroke-width="0.5" />
<line x1="166.22" y1="535.00" x2="166.22" y2="536.50" stroke="#222" stroke-width="0.5" />
<line x1="167.39" y1="535.00" x2="167.39" y2="536.50" stroke="#222" stroke-width="0.5" />
<line x1="168.34" y1="535.00" x2="168.34" y2="536.50" stroke="#222" stroke-width="0.5" />
<line x1="169.15" y1="535.00" x2="169.15" y2="536.50" stroke="#222" stroke-width="0.5" />
<line x1="169.85" y1="535.00" x2="169.85" y2="536.50" stroke="#222" stroke-width="0.5" />
<line x1="170.46" y1="535.00" x2="170.46" y2="536.50" stroke="#222" stroke-width="0.5" />
<line x1="174.72" y1="535.00" x2="174.72" y2="536.50" stroke="#222" stroke-width="0.5" />
<line x1="176.89" y1="535.00" x2="176.89" y2="536.50" stroke="#222" stroke-width="0.5" />
<line x1="178.43" y1="535.00" x2="178.43" y2="536.50" stroke="#222" stroke-width="0.5" />
<line x1="179.62" y1="535.00" x2="179.62" y2="536.50" stroke="#222" stroke-width="0.5" />
<line x1="180.60" y1="535.00" x2="180.60" y2="536.50" stroke="#222" stroke-width="0.5" />
<line x1="181.42" y1="535.00" x2="181.42" y2="536.50" stroke="#222" stroke-width="0.5" />
<line x1="182.13" y1="535.00" x2="182.13" y2="536.50" stroke="#222" stroke-width="0.5" />
<line x1="182.76" y1="535.00" x2="182.76" y2="536.50" stroke="#222" stroke-width="0.5" />
<line x1="186.80" y1="535.00" x2="186.80" y2="536.50" stroke="#222" stroke-width="0.5" />
<line x1="188.83" y1="535.00" x2="188.83" y2="536.50" stroke="#222" stroke-width="0.5" />
<line x1="190.28" y1="535.00" x2="190.28" y2="536.50" stroke="#222" stroke-width="0.5" />
<line x1="191.40" y1="535.00" x2="191.40" y2="536.50" stroke="#222" stroke-width="0.5" />
<line x1="192.31" y1="535.00" x2="192.31" y2="536.50" stroke="#222" stroke-width="0.5" />
<line x1="193.08" y1="535.00" x2="193.08" y2="536.50" stroke="#222" stroke-width="0.5" />
<line x1="193.75" y1="535.00" x2="193.75" y2="536.50" stroke="#222" stroke-width="0.5" />
<line x1="194.34" y1="535.00" x2="194.34" y2="536.50" stroke="#222" stroke-width="0.5" />
<line x1="158.96" y1="535.00" x2="158.96" y2="537.60" stroke="#111" stroke-width="0.8" />
<line x1="171.02" y1="535.00" x2="171.02" y2="537.60" stroke="#111" stroke-width="0.8" />
<line x1="183.33" y1="535.00" x2="183.33" y2="537.60" stroke="#111" stroke-width="0.8" />
<line x1="194.87" y1="535.00" x2="194.87" y2="537.60" stroke="#111" stroke-width="0.8" />
<line x1="154.60" y1="535.00" x2="154.60" y2="537.60" stroke="#111" stroke-width="0.8" />
<line x1="149.21" y1="535.00" x2="149.21" y2="536.50" stroke="#222" stroke-width="0.5" />
<line x1="150.14" y1="535.00" x2="150.14" y2="536.50" stroke="#222" stroke-width="0.5" />
<line x1="151.06" y1="535.00" x2="151.06" y2="536.50" stroke="#222" stroke-width="0.5" />
<line x1="151.98" y1="535.00" x2="151.98" y2="536.50" stroke="#222" stroke-width="0.5" />
<line x1="152.91" y1="535.00" x2="152.91" y2="536.50" stroke="#222" stroke-width="0.5" />
<line x1="153.83" y1="535.00" x2="153.83" y2="536.50" stroke="#222" stroke-width="0.5" />
<text x="155.60" y="544.30" font-size="4.9" text-anchor="end" font-weight="normal" fill="#333" >0</text>
<text x="159.96" y="544.30" font-size="4.9" text-anchor="middle" font-weight="normal" fill="#333" >10<tspan dy="-1.8" font-size="3.2">2</tspan><tspan dy="1.8" font-size="1">&#8203;</tspan></text>
<text x="171.52" y="544.30" font-size="4.9" text-anchor="middle" font-weight="normal" fill="#333" >10<tspan dy="-1.8" font-size="3.2">3</tspan><tspan dy="1.8" font-size="1">&#8203;</tspan></text>
<text x="183.83" y="544.30" font-size="4.9" text-anchor="middle" font-weight="normal" fill="#333" >10<tspan dy="-1.8" font-size="3.2">4</tspan><tspan dy="1.8" font-size="1">&#8203;</tspan></text>
<text x="195.37" y="544.30" font-size="4.9" text-anchor="middle" font-weight="normal" fill="#333" >10<tspan dy="-1.8" font-size="3.2">5</tspan><tspan dy="1.8" font-size="1">&#8203;</tspan></text>
<line x1="168.00" y1="490.80" x2="200.00" y2="490.80" stroke="#111" stroke-width="1.2" />
<line x1="168.00" y1="488.20" x2="168.00" y2="493.40" stroke="#111" stroke-width="1.0" />
<line x1="199.20" y1="488.20" x2="199.20" y2="493.40" stroke="#111" stroke-width="1.0" />
<text x="195.80" y="498.40" font-size="4.4" text-anchor="middle" font-weight="normal" fill="#222" stroke="#444" stroke-width="0.12">57</text>
<rect x="82.20" y="587.90" width="12.50" height="39.80" fill="#a8002b" stroke="none" stroke-width="1" />
<line x1="88.45" y1="587.90" x2="88.45" y2="587.20" stroke="#111" stroke-width="0.8" />
<line x1="85.85" y1="587.20" x2="91.05" y2="587.20" stroke="#111" stroke-width="0.8" />
<rect x="99.50" y="581.00" width="12.50" height="46.70" fill="#2c4a7c" stroke="none" stroke-width="1" />
<line x1="105.75" y1="581.00" x2="105.75" y2="577.50" stroke="#111" stroke-width="0.8" />
<line x1="103.15" y1="577.50" x2="108.35" y2="577.50" stroke="#111" stroke-width="0.8" />
<line x1="79.10" y1="570.60" x2="79.10" y2="628.30" stroke="#111" stroke-width="1.2" />
<line x1="78.50" y1="627.70" x2="115.60" y2="627.70" stroke="#111" stroke-width="1.2" />
<line x1="75.80" y1="573.30" x2="79.10" y2="573.30" stroke="#111" stroke-width="0.9" />
<text transform="translate(73.10 575.90) scale(0.95 1)" font-size="7.2" text-anchor="end" font-weight="normal" fill="#222"  stroke="#222" stroke-width="0.1">60</text>
<line x1="75.80" y1="591.40" x2="79.10" y2="591.40" stroke="#111" stroke-width="0.9" />
<text transform="translate(73.10 594.00) scale(0.95 1)" font-size="7.2" text-anchor="end" font-weight="normal" fill="#222"  stroke="#222" stroke-width="0.1">40</text>
<line x1="75.80" y1="609.60" x2="79.10" y2="609.60" stroke="#111" stroke-width="0.9" />
<text transform="translate(73.10 612.20) scale(0.95 1)" font-size="7.2" text-anchor="end" font-weight="normal" fill="#222"  stroke="#222" stroke-width="0.1">20</text>
<line x1="75.80" y1="627.70" x2="79.10" y2="627.70" stroke="#111" stroke-width="0.9" />
<text transform="translate(73.10 630.30) scale(0.95 1)" font-size="7.2" text-anchor="end" font-weight="normal" fill="#222"  stroke="#222" stroke-width="0.1">0</text>
<line x1="88.45" y1="627.70" x2="88.45" y2="630.30" stroke="#111" stroke-width="0.9" />
<line x1="105.75" y1="627.70" x2="105.75" y2="630.30" stroke="#111" stroke-width="0.9" />
<text transform="translate(59.20 599.65) rotate(-90) scale(0.77 1)" font-size="8.7" text-anchor="middle" font-weight="normal" fill="#222" letter-spacing="0.45" stroke="#222" stroke-width="0.15">% CD4<tspan dy="-2.4" font-size="5">+</tspan><tspan dy="2.4" font-size="1">&#8203;</tspan>Foxp3<tspan dy="-2.4" font-size="5">+</tspan><tspan dy="2.4" font-size="1">&#8203;</tspan></text>
<path d="M88.50 575.80 L88.50 573.40 L105.90 573.40 L105.90 575.80" fill="none" stroke="#111" stroke-width="0.8"/>
<text x="97.20" y="575.40" font-size="8.2" text-anchor="middle" font-weight="normal" fill="#222"  stroke="#222" stroke-width="0.1">*</text>
<text transform="translate(92.65 637.10) rotate(-48) scale(0.95 1)" font-size="7.4" text-anchor="end" font-weight="normal" fill="#222"  stroke="#222" stroke-width="0.1">WT</text>
<text transform="translate(109.95 637.10) rotate(-48) scale(0.95 1)" font-size="7.4" text-anchor="end" font-weight="normal" fill="#222"  stroke="#222" stroke-width="0.1">Sirt-1<tspan dy="-2.4" font-size="4.0">-/-</tspan><tspan dy="2.4" font-size="1">&#8203;</tspan></text>
<rect x="161.80" y="590.30" width="12.50" height="37.40" fill="#a8002b" stroke="none" stroke-width="1" />
<line x1="168.05" y1="590.30" x2="168.05" y2="588.20" stroke="#111" stroke-width="0.8" />
<line x1="165.45" y1="588.20" x2="170.65" y2="588.20" stroke="#111" stroke-width="0.8" />
<rect x="179.10" y="580.00" width="12.50" height="47.70" fill="#2c4a7c" stroke="none" stroke-width="1" />
<line x1="185.35" y1="580.00" x2="185.35" y2="576.50" stroke="#111" stroke-width="0.8" />
<line x1="182.75" y1="576.50" x2="187.95" y2="576.50" stroke="#111" stroke-width="0.8" />
<line x1="158.70" y1="570.60" x2="158.70" y2="628.30" stroke="#111" stroke-width="1.2" />
<line x1="158.10" y1="627.70" x2="194.80" y2="627.70" stroke="#111" stroke-width="1.2" />
<line x1="155.40" y1="573.30" x2="158.70" y2="573.30" stroke="#111" stroke-width="0.9" />
<text transform="translate(152.70 575.90) scale(0.95 1)" font-size="7.2" text-anchor="end" font-weight="normal" fill="#222"  stroke="#222" stroke-width="0.1">60</text>
<line x1="155.40" y1="591.40" x2="158.70" y2="591.40" stroke="#111" stroke-width="0.9" />
<text transform="translate(152.70 594.00) scale(0.95 1)" font-size="7.2" text-anchor="end" font-weight="normal" fill="#222"  stroke="#222" stroke-width="0.1">40</text>
<line x1="155.40" y1="609.60" x2="158.70" y2="609.60" stroke="#111" stroke-width="0.9" />
<text transform="translate(152.70 612.20) scale(0.95 1)" font-size="7.2" text-anchor="end" font-weight="normal" fill="#222"  stroke="#222" stroke-width="0.1">20</text>
<line x1="155.40" y1="627.70" x2="158.70" y2="627.70" stroke="#111" stroke-width="0.9" />
<text transform="translate(152.70 630.30) scale(0.95 1)" font-size="7.2" text-anchor="end" font-weight="normal" fill="#222"  stroke="#222" stroke-width="0.1">0</text>
<line x1="168.05" y1="627.70" x2="168.05" y2="630.30" stroke="#111" stroke-width="0.9" />
<line x1="185.35" y1="627.70" x2="185.35" y2="630.30" stroke="#111" stroke-width="0.9" />
<text transform="translate(138.80 599.65) rotate(-90) scale(0.77 1)" font-size="8.7" text-anchor="middle" font-weight="normal" fill="#222" letter-spacing="0.45" stroke="#222" stroke-width="0.15">% CD4<tspan dy="-2.4" font-size="5">+</tspan><tspan dy="2.4" font-size="1">&#8203;</tspan>CD25<tspan dy="-2.4" font-size="5">+</tspan><tspan dy="2.4" font-size="1">&#8203;</tspan></text>
<path d="M168.00 575.80 L168.00 573.40 L186.00 573.40 L186.00 575.80" fill="none" stroke="#111" stroke-width="0.8"/>
<text x="177.00" y="575.40" font-size="8.2" text-anchor="middle" font-weight="normal" fill="#222"  stroke="#222" stroke-width="0.1">*</text>
<text transform="translate(172.25 637.10) rotate(-48) scale(0.95 1)" font-size="7.4" text-anchor="end" font-weight="normal" fill="#222"  stroke="#222" stroke-width="0.1">WT</text>
<text transform="translate(189.55 637.10) rotate(-48) scale(0.95 1)" font-size="7.4" text-anchor="end" font-weight="normal" fill="#222"  stroke="#222" stroke-width="0.1">Sirt-1<tspan dy="-2.4" font-size="4.0">-/-</tspan><tspan dy="2.4" font-size="1">&#8203;</tspan></text>
<text transform="translate(217.00 398.80) scale(1.07 1)" font-size="11.9" text-anchor="start" font-weight="bold" fill="#111" stroke="#111" stroke-width="0.35">G</text>
<text x="350.00" y="405.30" font-size="6.8" text-anchor="middle" font-weight="normal" fill="#222"  stroke="#222" stroke-width="0.1">Gated on Ly5.2 (d 14)</text>
<line x1="286.20" y1="410.20" x2="413.30" y2="410.20" stroke="#222" stroke-width="1.4" />
<text x="239.50" y="437.30" font-size="6.8" text-anchor="middle" font-weight="normal" fill="#222"  stroke="#222" stroke-width="0.1">WT</text>
<text x="239.50" y="446.10" font-size="6.8" text-anchor="middle" font-weight="normal" fill="#222"  stroke="#222" stroke-width="0.1">iTregs</text>
<text x="239.50" y="507.80" font-size="6.8" text-anchor="middle" font-weight="normal" fill="#222"  stroke="#222" stroke-width="0.1">Sirt-1<tspan dy="-2.6" font-size="4.5">-/-</tspan><tspan dy="2.6" font-size="1">&#8203;</tspan></text>
<text x="239.50" y="516.60" font-size="6.8" text-anchor="middle" font-weight="normal" fill="#222"  stroke="#222" stroke-width="0.1">iTregs</text>
<line x1="261.80" y1="419.58" x2="261.80" y2="495.00" stroke="#333" stroke-width="1.3" />
<path d="M261.80 413.70 L265.40 422.10 L261.80 420.42 L258.20 422.10 Z" fill="#000"/>
<text transform="translate(264.60 506.00) rotate(-90) scale(0.67 1)" font-size="8.0" text-anchor="middle" font-weight="normal" fill="#222"  stroke="#222" stroke-width="0.1">Foxp3</text>
<line x1="342.80" y1="421.88" x2="342.80" y2="494.00" stroke="#333" stroke-width="1.3" />
<path d="M342.80 416.00 L346.40 424.40 L342.80 422.72 L339.20 424.40 Z" fill="#000"/>
<text transform="translate(345.40 508.70) rotate(-90) scale(0.67 1)" font-size="8.0" text-anchor="middle" font-weight="normal" fill="#222"  stroke="#222" stroke-width="0.1">IFN-&#947;</text>
<text transform="translate(317.00 556.80) scale(0.67 1)" font-size="8.0" text-anchor="middle" font-weight="normal" fill="#222"  stroke="#222" stroke-width="0.1">CD4</text>
<line x1="325.00" y1="554.50" x2="407.92" y2="554.50" stroke="#333" stroke-width="1.3" />
<path d="M413.80 554.50 L405.40 550.90 L407.08 554.50 L405.40 558.10 Z" fill="#000"/>
<clipPath id="c14"><rect x="283.7" y="414.5" width="51.80000000000001" height="51.0"/></clipPath>
<g filter="url(#soft)" clip-path="url(#c14)">
<path d="M312.90 437.10 C314.35 437.00 315.73 438.07 317.00 438.80 C318.27 439.53 319.65 440.33 320.50 441.50 C321.35 442.67 321.98 444.38 322.10 445.80 C322.22 447.22 321.68 448.67 321.20 450.00 C320.72 451.33 319.85 452.63 319.20 453.80 C318.55 454.97 317.78 456.03 317.30 457.00 C316.82 457.97 316.43 458.60 316.30 459.60 C316.17 460.60 316.30 461.90 316.50 463.00 C316.70 464.10 319.00 465.67 317.50 466.20 C316.00 466.73 308.98 466.90 307.50 466.20 C306.02 465.50 308.47 463.20 308.60 462.00 C308.73 460.80 308.60 459.97 308.30 459.00 C308.00 458.03 307.25 457.37 306.80 456.20 C306.35 455.03 305.85 453.45 305.60 452.00 C305.35 450.55 305.23 448.92 305.30 447.50 C305.37 446.08 305.50 444.85 306.00 443.50 C306.50 442.15 307.15 440.47 308.30 439.40 C309.45 438.33 311.45 437.20 312.90 437.10 Z" fill="#2b35d8"/>
<path d="M312.87 439.73 C314.12 439.65 315.31 440.44 316.40 440.98 C317.49 441.53 318.68 442.12 319.41 442.98 C320.14 443.85 320.68 445.12 320.78 446.16 C320.88 447.21 320.43 448.29 320.01 449.27 C319.59 450.26 318.85 451.22 318.29 452.08 C317.73 452.95 317.07 453.74 316.66 454.45 C316.24 455.17 315.91 455.64 315.80 456.38 C315.68 457.12 315.80 458.08 315.97 458.89 C316.14 459.71 318.12 460.87 316.83 461.26 C315.54 461.65 309.50 461.78 308.23 461.26 C306.95 460.74 309.06 459.04 309.17 458.15 C309.29 457.26 309.17 456.65 308.92 455.93 C308.66 455.22 308.01 454.72 307.63 453.86 C307.24 453.00 306.81 451.82 306.59 450.75 C306.38 449.68 306.28 448.47 306.34 447.42 C306.39 446.37 306.51 445.46 306.94 444.46 C307.37 443.46 307.93 442.22 308.92 441.43 C309.90 440.64 311.62 439.80 312.87 439.73 Z" fill="#2a70ee"/>
<path d="M312.84 441.54 C313.89 441.49 314.88 442.09 315.80 442.50 C316.71 442.91 317.70 443.35 318.32 444.01 C318.93 444.66 319.38 445.62 319.47 446.42 C319.55 447.21 319.17 448.02 318.82 448.77 C318.47 449.51 317.85 450.24 317.38 450.90 C316.91 451.55 316.36 452.15 316.01 452.69 C315.66 453.23 315.39 453.58 315.29 454.14 C315.20 454.70 315.29 455.43 315.44 456.05 C315.58 456.66 317.24 457.54 316.16 457.84 C315.08 458.14 310.02 458.23 308.96 457.84 C307.89 457.45 309.65 456.16 309.75 455.49 C309.84 454.82 309.75 454.35 309.53 453.81 C309.32 453.27 308.78 452.89 308.45 452.24 C308.13 451.59 307.77 450.70 307.59 449.89 C307.41 449.08 307.32 448.16 307.37 447.37 C307.42 446.57 307.52 445.88 307.88 445.13 C308.24 444.37 308.70 443.43 309.53 442.83 C310.36 442.23 311.80 441.60 312.84 441.54 Z" fill="#35d7e6"/>
<ellipse cx="312.90" cy="447.20" rx="5.40" ry="4.60" fill="#58e26a" transform="rotate(-28 312.90 447.20)"/>
<ellipse cx="312.90" cy="447.20" rx="4.00" ry="3.00" fill="#d8ee3c" transform="rotate(-28 312.90 447.20)"/>
<ellipse cx="312.90" cy="447.20" rx="2.90" ry="1.90" fill="#ffb02a" transform="rotate(-28 312.90 447.20)"/>
<ellipse cx="312.90" cy="447.20" rx="2.20" ry="1.00" fill="#ee2a1e" transform="rotate(-28 312.90 447.20)"/>
</g>
<line x1="281.90" y1="451.18" x2="283.70" y2="451.18" stroke="#111" stroke-width="0.6" />
<line x1="281.90" y1="449.07" x2="283.70" y2="449.07" stroke="#111" stroke-width="0.6" />
<line x1="281.90" y1="447.57" x2="283.70" y2="447.57" stroke="#111" stroke-width="0.6" />
<line x1="281.90" y1="446.41" x2="283.70" y2="446.41" stroke="#111" stroke-width="0.6" />
<line x1="281.90" y1="445.46" x2="283.70" y2="445.46" stroke="#111" stroke-width="0.6" />
<line x1="281.90" y1="444.66" x2="283.70" y2="444.66" stroke="#111" stroke-width="0.6" />
<line x1="281.90" y1="443.97" x2="283.70" y2="443.97" stroke="#111" stroke-width="0.6" />
<line x1="281.90" y1="443.35" x2="283.70" y2="443.35" stroke="#111" stroke-width="0.6" />
<line x1="281.90" y1="439.20" x2="283.70" y2="439.20" stroke="#111" stroke-width="0.6" />
<line x1="281.90" y1="437.09" x2="283.70" y2="437.09" stroke="#111" stroke-width="0.6" />
<line x1="281.90" y1="435.59" x2="283.70" y2="435.59" stroke="#111" stroke-width="0.6" />
<line x1="281.90" y1="434.43" x2="283.70" y2="434.43" stroke="#111" stroke-width="0.6" />
<line x1="281.90" y1="433.48" x2="283.70" y2="433.48" stroke="#111" stroke-width="0.6" />
<line x1="281.90" y1="432.68" x2="283.70" y2="432.68" stroke="#111" stroke-width="0.6" />
<line x1="281.90" y1="431.98" x2="283.70" y2="431.98" stroke="#111" stroke-width="0.6" />
<line x1="281.90" y1="431.37" x2="283.70" y2="431.37" stroke="#111" stroke-width="0.6" />
<line x1="281.90" y1="427.44" x2="283.70" y2="427.44" stroke="#111" stroke-width="0.6" />
<line x1="281.90" y1="425.47" x2="283.70" y2="425.47" stroke="#111" stroke-width="0.6" />
<line x1="281.90" y1="424.06" x2="283.70" y2="424.06" stroke="#111" stroke-width="0.6" />
<line x1="281.90" y1="422.98" x2="283.70" y2="422.98" stroke="#111" stroke-width="0.6" />
<line x1="281.90" y1="422.09" x2="283.70" y2="422.09" stroke="#111" stroke-width="0.6" />
<line x1="281.90" y1="421.34" x2="283.70" y2="421.34" stroke="#111" stroke-width="0.6" />
<line x1="281.90" y1="420.69" x2="283.70" y2="420.69" stroke="#111" stroke-width="0.6" />
<line x1="281.90" y1="420.11" x2="283.70" y2="420.11" stroke="#111" stroke-width="0.6" />
<line x1="281.10" y1="419.60" x2="283.70" y2="419.60" stroke="#111" stroke-width="0.8" />
<line x1="281.10" y1="430.82" x2="283.70" y2="430.82" stroke="#111" stroke-width="0.8" />
<line x1="281.10" y1="442.81" x2="283.70" y2="442.81" stroke="#111" stroke-width="0.8" />
<line x1="281.10" y1="454.79" x2="283.70" y2="454.79" stroke="#111" stroke-width="0.8" />
<line x1="281.10" y1="459.63" x2="283.70" y2="459.63" stroke="#111" stroke-width="0.8" />
<line x1="281.90" y1="460.40" x2="283.70" y2="460.40" stroke="#111" stroke-width="0.6" />
<line x1="281.90" y1="461.32" x2="283.70" y2="461.32" stroke="#111" stroke-width="0.6" />
<line x1="281.90" y1="462.24" x2="283.70" y2="462.24" stroke="#111" stroke-width="0.6" />
<line x1="281.90" y1="463.15" x2="283.70" y2="463.15" stroke="#111" stroke-width="0.6" />
<line x1="281.90" y1="464.07" x2="283.70" y2="464.07" stroke="#111" stroke-width="0.6" />
<line x1="281.90" y1="464.99" x2="283.70" y2="464.99" stroke="#111" stroke-width="0.6" />
<line x1="297.72" y1="465.50" x2="297.72" y2="467.30" stroke="#111" stroke-width="0.6" />
<line x1="299.87" y1="465.50" x2="299.87" y2="467.30" stroke="#111" stroke-width="0.6" />
<line x1="301.39" y1="465.50" x2="301.39" y2="467.30" stroke="#111" stroke-width="0.6" />
<line x1="302.57" y1="465.50" x2="302.57" y2="467.30" stroke="#111" stroke-width="0.6" />
<line x1="303.53" y1="465.50" x2="303.53" y2="467.30" stroke="#111" stroke-width="0.6" />
<line x1="304.35" y1="465.50" x2="304.35" y2="467.30" stroke="#111" stroke-width="0.6" />
<line x1="305.05" y1="465.50" x2="305.05" y2="467.30" stroke="#111" stroke-width="0.6" />
<line x1="305.68" y1="465.50" x2="305.68" y2="467.30" stroke="#111" stroke-width="0.6" />
<line x1="309.98" y1="465.50" x2="309.98" y2="467.30" stroke="#111" stroke-width="0.6" />
<line x1="312.16" y1="465.50" x2="312.16" y2="467.30" stroke="#111" stroke-width="0.6" />
<line x1="313.72" y1="465.50" x2="313.72" y2="467.30" stroke="#111" stroke-width="0.6" />
<line x1="314.92" y1="465.50" x2="314.92" y2="467.30" stroke="#111" stroke-width="0.6" />
<line x1="315.91" y1="465.50" x2="315.91" y2="467.30" stroke="#111" stroke-width="0.6" />
<line x1="316.74" y1="465.50" x2="316.74" y2="467.30" stroke="#111" stroke-width="0.6" />
<line x1="317.46" y1="465.50" x2="317.46" y2="467.30" stroke="#111" stroke-width="0.6" />
<line x1="318.10" y1="465.50" x2="318.10" y2="467.30" stroke="#111" stroke-width="0.6" />
<line x1="322.17" y1="465.50" x2="322.17" y2="467.30" stroke="#111" stroke-width="0.6" />
<line x1="324.23" y1="465.50" x2="324.23" y2="467.30" stroke="#111" stroke-width="0.6" />
<line x1="325.68" y1="465.50" x2="325.68" y2="467.30" stroke="#111" stroke-width="0.6" />
<line x1="326.81" y1="465.50" x2="326.81" y2="467.30" stroke="#111" stroke-width="0.6" />
<line x1="327.73" y1="465.50" x2="327.73" y2="467.30" stroke="#111" stroke-width="0.6" />
<line x1="328.51" y1="465.50" x2="328.51" y2="467.30" stroke="#111" stroke-width="0.6" />
<line x1="329.19" y1="465.50" x2="329.19" y2="467.30" stroke="#111" stroke-width="0.6" />
<line x1="329.79" y1="465.50" x2="329.79" y2="467.30" stroke="#111" stroke-width="0.6" />
<line x1="294.06" y1="465.50" x2="294.06" y2="468.10" stroke="#111" stroke-width="0.8" />
<line x1="306.23" y1="465.50" x2="306.23" y2="468.10" stroke="#111" stroke-width="0.8" />
<line x1="318.67" y1="465.50" x2="318.67" y2="468.10" stroke="#111" stroke-width="0.8" />
<line x1="330.32" y1="465.50" x2="330.32" y2="468.10" stroke="#111" stroke-width="0.8" />
<line x1="289.66" y1="465.50" x2="289.66" y2="468.10" stroke="#111" stroke-width="0.8" />
<line x1="284.22" y1="465.50" x2="284.22" y2="467.30" stroke="#111" stroke-width="0.6" />
<line x1="285.15" y1="465.50" x2="285.15" y2="467.30" stroke="#111" stroke-width="0.6" />
<line x1="286.08" y1="465.50" x2="286.08" y2="467.30" stroke="#111" stroke-width="0.6" />
<line x1="287.02" y1="465.50" x2="287.02" y2="467.30" stroke="#111" stroke-width="0.6" />
<line x1="287.95" y1="465.50" x2="287.95" y2="467.30" stroke="#111" stroke-width="0.6" />
<line x1="288.88" y1="465.50" x2="288.88" y2="467.30" stroke="#111" stroke-width="0.6" />
<rect x="283.70" y="414.50" width="51.80" height="51.00" fill="none" stroke="#111" stroke-width="1.1" />
<text x="278.10" y="422.10" font-size="4.9" text-anchor="end" font-weight="normal" fill="#333" >10<tspan dy="-1.8" font-size="3.2">5</tspan><tspan dy="1.8" font-size="1">&#8203;</tspan></text>
<text x="278.10" y="433.32" font-size="4.9" text-anchor="end" font-weight="normal" fill="#333" >10<tspan dy="-1.8" font-size="3.2">4</tspan><tspan dy="1.8" font-size="1">&#8203;</tspan></text>
<text x="278.10" y="445.31" font-size="4.9" text-anchor="end" font-weight="normal" fill="#333" >10<tspan dy="-1.8" font-size="3.2">3</tspan><tspan dy="1.8" font-size="1">&#8203;</tspan></text>
<text x="278.10" y="457.29" font-size="4.9" text-anchor="end" font-weight="normal" fill="#333" >10<tspan dy="-1.8" font-size="3.2">2</tspan><tspan dy="1.8" font-size="1">&#8203;</tspan></text>
<text x="276.50" y="461.83" font-size="4.9" text-anchor="end" font-weight="normal" fill="#333" >0</text>
<text x="290.66" y="474.80" font-size="4.9" text-anchor="end" font-weight="normal" fill="#333" >0</text>
<text x="295.06" y="474.80" font-size="4.9" text-anchor="middle" font-weight="normal" fill="#333" >10<tspan dy="-1.8" font-size="3.2">2</tspan><tspan dy="1.8" font-size="1">&#8203;</tspan></text>
<text x="306.73" y="474.80" font-size="4.9" text-anchor="middle" font-weight="normal" fill="#333" >10<tspan dy="-1.8" font-size="3.2">3</tspan><tspan dy="1.8" font-size="1">&#8203;</tspan></text>
<text x="319.17" y="474.80" font-size="4.9" text-anchor="middle" font-weight="normal" fill="#333" >10<tspan dy="-1.8" font-size="3.2">4</tspan><tspan dy="1.8" font-size="1">&#8203;</tspan></text>
<text x="330.82" y="474.80" font-size="4.9" text-anchor="middle" font-weight="normal" fill="#333" >10<tspan dy="-1.8" font-size="3.2">5</tspan><tspan dy="1.8" font-size="1">&#8203;</tspan></text>
<rect x="304.20" y="414.80" width="21.00" height="26.40" fill="none" stroke="#444" stroke-width="0.6" />
<text x="314.60" y="431.40" font-size="4.5" text-anchor="middle" font-weight="normal" fill="#222" stroke="#444" stroke-width="0.12">2.3</text>
<clipPath id="c15"><rect x="283.7" y="484.2" width="51.80000000000001" height="50.80000000000001"/></clipPath>
<g filter="url(#soft)" clip-path="url(#c15)">
<path d="M316.90 502.50 C318.07 502.83 319.60 503.92 320.50 505.00 C321.40 506.08 321.93 507.58 322.30 509.00 C322.67 510.42 322.70 511.83 322.70 513.50 C322.70 515.17 322.50 517.28 322.30 519.00 C322.10 520.72 321.88 522.30 321.50 523.80 C321.12 525.30 320.47 526.83 320.00 528.00 C319.53 529.17 319.07 529.63 318.70 530.80 C318.33 531.97 319.38 534.30 317.80 535.00 C316.22 535.70 310.70 535.90 309.20 535.00 C307.70 534.10 309.25 531.27 308.80 529.60 C308.35 527.93 307.03 526.73 306.50 525.00 C305.97 523.27 305.77 521.20 305.60 519.20 C305.43 517.20 305.30 514.87 305.50 513.00 C305.70 511.13 306.05 509.37 306.80 508.00 C307.55 506.63 308.88 505.63 310.00 504.80 C311.12 503.97 312.35 503.38 313.50 503.00 C314.65 502.62 315.73 502.17 316.90 502.50 Z" fill="#2b35d8"/>
<path d="M316.38 505.88 C317.39 506.13 318.70 506.93 319.48 507.73 C320.25 508.53 320.71 509.64 321.03 510.69 C321.34 511.74 321.37 512.79 321.37 514.02 C321.37 515.25 321.20 516.82 321.03 518.09 C320.85 519.36 320.67 520.53 320.34 521.64 C320.01 522.75 319.45 523.89 319.05 524.75 C318.65 525.61 318.25 525.96 317.93 526.82 C317.61 527.69 318.52 529.41 317.16 529.93 C315.79 530.45 311.05 530.60 309.76 529.93 C308.47 529.26 309.80 527.17 309.42 525.93 C309.03 524.70 307.90 523.81 307.44 522.53 C306.98 521.25 306.81 519.72 306.66 518.24 C306.52 516.76 306.41 515.03 306.58 513.65 C306.75 512.27 307.05 510.96 307.70 509.95 C308.34 508.94 309.49 508.20 310.45 507.58 C311.41 506.97 312.47 506.53 313.46 506.25 C314.45 505.97 315.38 505.63 316.38 505.88 Z" fill="#2a70ee"/>
<path d="M315.86 508.22 C316.70 508.41 317.81 509.01 318.46 509.62 C319.10 510.23 319.49 511.07 319.75 511.86 C320.02 512.65 320.04 513.45 320.04 514.38 C320.04 515.31 319.90 516.50 319.75 517.46 C319.61 518.42 319.45 519.31 319.18 520.15 C318.90 520.99 318.43 521.85 318.10 522.50 C317.76 523.15 317.42 523.41 317.16 524.07 C316.90 524.72 317.65 526.03 316.51 526.42 C315.37 526.81 311.40 526.92 310.32 526.42 C309.24 525.92 310.36 524.33 310.03 523.40 C309.71 522.46 308.76 521.79 308.38 520.82 C307.99 519.85 307.85 518.69 307.73 517.57 C307.61 516.45 307.51 515.15 307.66 514.10 C307.80 513.05 308.05 512.07 308.59 511.30 C309.13 510.53 310.09 509.97 310.90 509.51 C311.70 509.04 312.59 508.71 313.42 508.50 C314.24 508.29 315.02 508.03 315.86 508.22 Z" fill="#35d7e6"/>
<ellipse cx="313.40" cy="515.50" rx="5.60" ry="7.00" fill="#58e26a" transform="rotate(-25 313.40 515.50)"/>
<ellipse cx="313.40" cy="515.50" rx="4.00" ry="4.00" fill="#d8ee3c" transform="rotate(-25 313.40 515.50)"/>
<ellipse cx="313.40" cy="515.50" rx="3.00" ry="2.40" fill="#ffb02a" transform="rotate(-25 313.40 515.50)"/>
<ellipse cx="313.40" cy="515.50" rx="2.10" ry="1.10" fill="#ee2a1e" transform="rotate(-25 313.40 515.50)"/>
</g>
<line x1="281.90" y1="520.74" x2="283.70" y2="520.74" stroke="#111" stroke-width="0.6" />
<line x1="281.90" y1="518.64" x2="283.70" y2="518.64" stroke="#111" stroke-width="0.6" />
<line x1="281.90" y1="517.14" x2="283.70" y2="517.14" stroke="#111" stroke-width="0.6" />
<line x1="281.90" y1="515.99" x2="283.70" y2="515.99" stroke="#111" stroke-width="0.6" />
<line x1="281.90" y1="515.04" x2="283.70" y2="515.04" stroke="#111" stroke-width="0.6" />
<line x1="281.90" y1="514.24" x2="283.70" y2="514.24" stroke="#111" stroke-width="0.6" />
<line x1="281.90" y1="513.55" x2="283.70" y2="513.55" stroke="#111" stroke-width="0.6" />
<line x1="281.90" y1="512.94" x2="283.70" y2="512.94" stroke="#111" stroke-width="0.6" />
<line x1="281.90" y1="508.80" x2="283.70" y2="508.80" stroke="#111" stroke-width="0.6" />
<line x1="281.90" y1="506.70" x2="283.70" y2="506.70" stroke="#111" stroke-width="0.6" />
<line x1="281.90" y1="505.21" x2="283.70" y2="505.21" stroke="#111" stroke-width="0.6" />
<line x1="281.90" y1="504.05" x2="283.70" y2="504.05" stroke="#111" stroke-width="0.6" />
<line x1="281.90" y1="503.10" x2="283.70" y2="503.10" stroke="#111" stroke-width="0.6" />
<line x1="281.90" y1="502.31" x2="283.70" y2="502.31" stroke="#111" stroke-width="0.6" />
<line x1="281.90" y1="501.61" x2="283.70" y2="501.61" stroke="#111" stroke-width="0.6" />
<line x1="281.90" y1="501.00" x2="283.70" y2="501.00" stroke="#111" stroke-width="0.6" />
<line x1="281.90" y1="497.09" x2="283.70" y2="497.09" stroke="#111" stroke-width="0.6" />
<line x1="281.90" y1="495.12" x2="283.70" y2="495.12" stroke="#111" stroke-width="0.6" />
<line x1="281.90" y1="493.73" x2="283.70" y2="493.73" stroke="#111" stroke-width="0.6" />
<line x1="281.90" y1="492.64" x2="283.70" y2="492.64" stroke="#111" stroke-width="0.6" />
<line x1="281.90" y1="491.76" x2="283.70" y2="491.76" stroke="#111" stroke-width="0.6" />
<line x1="281.90" y1="491.01" x2="283.70" y2="491.01" stroke="#111" stroke-width="0.6" />
<line x1="281.90" y1="490.36" x2="283.70" y2="490.36" stroke="#111" stroke-width="0.6" />
<line x1="281.90" y1="489.79" x2="283.70" y2="489.79" stroke="#111" stroke-width="0.6" />
<line x1="281.10" y1="489.28" x2="283.70" y2="489.28" stroke="#111" stroke-width="0.8" />
<line x1="281.10" y1="500.46" x2="283.70" y2="500.46" stroke="#111" stroke-width="0.8" />
<line x1="281.10" y1="512.39" x2="283.70" y2="512.39" stroke="#111" stroke-width="0.8" />
<line x1="281.10" y1="524.33" x2="283.70" y2="524.33" stroke="#111" stroke-width="0.8" />
<line x1="281.10" y1="529.16" x2="283.70" y2="529.16" stroke="#111" stroke-width="0.8" />
<line x1="281.90" y1="529.92" x2="283.70" y2="529.92" stroke="#111" stroke-width="0.6" />
<line x1="281.90" y1="530.83" x2="283.70" y2="530.83" stroke="#111" stroke-width="0.6" />
<line x1="281.90" y1="531.75" x2="283.70" y2="531.75" stroke="#111" stroke-width="0.6" />
<line x1="281.90" y1="532.66" x2="283.70" y2="532.66" stroke="#111" stroke-width="0.6" />
<line x1="281.90" y1="533.58" x2="283.70" y2="533.58" stroke="#111" stroke-width="0.6" />
<line x1="281.90" y1="534.49" x2="283.70" y2="534.49" stroke="#111" stroke-width="0.6" />
<line x1="297.72" y1="535.00" x2="297.72" y2="536.80" stroke="#111" stroke-width="0.6" />
<line x1="299.87" y1="535.00" x2="299.87" y2="536.80" stroke="#111" stroke-width="0.6" />
<line x1="301.39" y1="535.00" x2="301.39" y2="536.80" stroke="#111" stroke-width="0.6" />
<line x1="302.57" y1="535.00" x2="302.57" y2="536.80" stroke="#111" stroke-width="0.6" />
<line x1="303.53" y1="535.00" x2="303.53" y2="536.80" stroke="#111" stroke-width="0.6" />
<line x1="304.35" y1="535.00" x2="304.35" y2="536.80" stroke="#111" stroke-width="0.6" />
<line x1="305.05" y1="535.00" x2="305.05" y2="536.80" stroke="#111" stroke-width="0.6" />
<line x1="305.68" y1="535.00" x2="305.68" y2="536.80" stroke="#111" stroke-width="0.6" />
<line x1="309.98" y1="535.00" x2="309.98" y2="536.80" stroke="#111" stroke-width="0.6" />
<line x1="312.16" y1="535.00" x2="312.16" y2="536.80" stroke="#111" stroke-width="0.6" />
<line x1="313.72" y1="535.00" x2="313.72" y2="536.80" stroke="#111" stroke-width="0.6" />
<line x1="314.92" y1="535.00" x2="314.92" y2="536.80" stroke="#111" stroke-width="0.6" />
<line x1="315.91" y1="535.00" x2="315.91" y2="536.80" stroke="#111" stroke-width="0.6" />
<line x1="316.74" y1="535.00" x2="316.74" y2="536.80" stroke="#111" stroke-width="0.6" />
<line x1="317.46" y1="535.00" x2="317.46" y2="536.80" stroke="#111" stroke-width="0.6" />
<line x1="318.10" y1="535.00" x2="318.10" y2="536.80" stroke="#111" stroke-width="0.6" />
<line x1="322.17" y1="535.00" x2="322.17" y2="536.80" stroke="#111" stroke-width="0.6" />
<line x1="324.23" y1="535.00" x2="324.23" y2="536.80" stroke="#111" stroke-width="0.6" />
<line x1="325.68" y1="535.00" x2="325.68" y2="536.80" stroke="#111" stroke-width="0.6" />
<line x1="326.81" y1="535.00" x2="326.81" y2="536.80" stroke="#111" stroke-width="0.6" />
<line x1="327.73" y1="535.00" x2="327.73" y2="536.80" stroke="#111" stroke-width="0.6" />
<line x1="328.51" y1="535.00" x2="328.51" y2="536.80" stroke="#111" stroke-width="0.6" />
<line x1="329.19" y1="535.00" x2="329.19" y2="536.80" stroke="#111" stroke-width="0.6" />
<line x1="329.79" y1="535.00" x2="329.79" y2="536.80" stroke="#111" stroke-width="0.6" />
<line x1="294.06" y1="535.00" x2="294.06" y2="537.60" stroke="#111" stroke-width="0.8" />
<line x1="306.23" y1="535.00" x2="306.23" y2="537.60" stroke="#111" stroke-width="0.8" />
<line x1="318.67" y1="535.00" x2="318.67" y2="537.60" stroke="#111" stroke-width="0.8" />
<line x1="330.32" y1="535.00" x2="330.32" y2="537.60" stroke="#111" stroke-width="0.8" />
<line x1="289.66" y1="535.00" x2="289.66" y2="537.60" stroke="#111" stroke-width="0.8" />
<line x1="284.22" y1="535.00" x2="284.22" y2="536.80" stroke="#111" stroke-width="0.6" />
<line x1="285.15" y1="535.00" x2="285.15" y2="536.80" stroke="#111" stroke-width="0.6" />
<line x1="286.08" y1="535.00" x2="286.08" y2="536.80" stroke="#111" stroke-width="0.6" />
<line x1="287.02" y1="535.00" x2="287.02" y2="536.80" stroke="#111" stroke-width="0.6" />
<line x1="287.95" y1="535.00" x2="287.95" y2="536.80" stroke="#111" stroke-width="0.6" />
<line x1="288.88" y1="535.00" x2="288.88" y2="536.80" stroke="#111" stroke-width="0.6" />
<rect x="283.70" y="484.20" width="51.80" height="50.80" fill="none" stroke="#111" stroke-width="1.1" />
<text x="278.10" y="491.78" font-size="4.9" text-anchor="end" font-weight="normal" fill="#333" >10<tspan dy="-1.8" font-size="3.2">5</tspan><tspan dy="1.8" font-size="1">&#8203;</tspan></text>
<text x="278.10" y="502.96" font-size="4.9" text-anchor="end" font-weight="normal" fill="#333" >10<tspan dy="-1.8" font-size="3.2">4</tspan><tspan dy="1.8" font-size="1">&#8203;</tspan></text>
<text x="278.10" y="514.89" font-size="4.9" text-anchor="end" font-weight="normal" fill="#333" >10<tspan dy="-1.8" font-size="3.2">3</tspan><tspan dy="1.8" font-size="1">&#8203;</tspan></text>
<text x="278.10" y="526.83" font-size="4.9" text-anchor="end" font-weight="normal" fill="#333" >10<tspan dy="-1.8" font-size="3.2">2</tspan><tspan dy="1.8" font-size="1">&#8203;</tspan></text>
<text x="276.50" y="531.36" font-size="4.9" text-anchor="end" font-weight="normal" fill="#333" >0</text>
<text x="290.66" y="544.30" font-size="4.9" text-anchor="end" font-weight="normal" fill="#333" >0</text>
<text x="295.06" y="544.30" font-size="4.9" text-anchor="middle" font-weight="normal" fill="#333" >10<tspan dy="-1.8" font-size="3.2">2</tspan><tspan dy="1.8" font-size="1">&#8203;</tspan></text>
<text x="306.73" y="544.30" font-size="4.9" text-anchor="middle" font-weight="normal" fill="#333" >10<tspan dy="-1.8" font-size="3.2">3</tspan><tspan dy="1.8" font-size="1">&#8203;</tspan></text>
<text x="319.17" y="544.30" font-size="4.9" text-anchor="middle" font-weight="normal" fill="#333" >10<tspan dy="-1.8" font-size="3.2">4</tspan><tspan dy="1.8" font-size="1">&#8203;</tspan></text>
<text x="330.82" y="544.30" font-size="4.9" text-anchor="middle" font-weight="normal" fill="#333" >10<tspan dy="-1.8" font-size="3.2">5</tspan><tspan dy="1.8" font-size="1">&#8203;</tspan></text>
<rect x="304.20" y="484.50" width="21.00" height="26.10" fill="none" stroke="#444" stroke-width="0.6" />
<text x="314.60" y="498.20" font-size="4.5" text-anchor="middle" font-weight="normal" fill="#222" stroke="#444" stroke-width="0.12">11</text>
<clipPath id="c16"><rect x="364.2" y="414.5" width="52.400000000000034" height="51.0"/></clipPath>
<g filter="url(#soft)" clip-path="url(#c16)">
<path d="M394.60 414.00 C396.10 414.00 398.13 414.75 399.50 415.50 C400.87 416.25 402.12 417.42 402.80 418.50 C403.48 419.58 403.63 420.75 403.60 422.00 C403.57 423.25 403.20 424.75 402.60 426.00 C402.00 427.25 400.88 428.42 400.00 429.50 C399.12 430.58 397.88 431.42 397.30 432.50 C396.72 433.58 396.47 434.83 396.50 436.00 C396.53 437.17 396.92 438.42 397.50 439.50 C398.08 440.58 399.47 441.42 400.00 442.50 C400.53 443.58 400.78 444.75 400.70 446.00 C400.62 447.25 400.20 448.87 399.50 450.00 C398.80 451.13 397.50 452.27 396.50 452.80 C395.50 453.33 394.33 453.30 393.50 453.20 C392.67 453.10 392.17 452.18 391.50 452.20 C390.83 452.22 389.87 453.58 389.50 453.30 C389.13 453.02 389.72 451.38 389.30 450.50 C388.88 449.62 387.52 449.00 387.00 448.00 C386.48 447.00 386.12 445.67 386.20 444.50 C386.28 443.33 386.95 442.08 387.50 441.00 C388.05 439.92 389.12 439.08 389.50 438.00 C389.88 436.92 389.97 435.58 389.80 434.50 C389.63 433.42 389.00 432.67 388.50 431.50 C388.00 430.33 387.18 428.92 386.80 427.50 C386.42 426.08 386.08 424.50 386.20 423.00 C386.32 421.50 386.78 419.75 387.50 418.50 C388.22 417.25 389.32 416.25 390.50 415.50 C391.68 414.75 393.10 414.00 394.60 414.00 Z" fill="#2b35d8"/>
<path d="M394.45 415.07 C395.65 415.07 397.28 415.78 398.37 416.50 C399.47 417.21 400.47 418.32 401.01 419.35 C401.56 420.37 401.68 421.48 401.65 422.67 C401.63 423.86 401.33 425.28 400.85 426.47 C400.37 427.66 399.48 428.77 398.77 429.80 C398.07 430.82 397.08 431.62 396.61 432.65 C396.15 433.67 395.95 434.86 395.97 435.97 C396.00 437.08 396.31 438.27 396.77 439.30 C397.24 440.32 398.35 441.12 398.77 442.15 C399.20 443.17 399.40 444.28 399.33 445.47 C399.27 446.66 398.93 448.19 398.37 449.27 C397.81 450.35 396.77 451.42 395.97 451.93 C395.17 452.44 394.24 452.41 393.57 452.31 C392.91 452.22 392.51 451.34 391.97 451.36 C391.44 451.38 390.67 452.67 390.37 452.41 C390.08 452.14 390.55 450.58 390.21 449.75 C389.88 448.91 388.79 448.32 388.37 447.37 C387.96 446.42 387.67 445.15 387.73 444.05 C387.80 442.94 388.33 441.75 388.77 440.72 C389.21 439.69 390.07 438.90 390.37 437.87 C390.68 436.84 390.75 435.57 390.61 434.55 C390.48 433.52 389.97 432.80 389.57 431.70 C389.17 430.59 388.52 429.24 388.21 427.90 C387.91 426.55 387.64 425.05 387.73 423.62 C387.83 422.20 388.20 420.53 388.77 419.35 C389.35 418.16 390.23 417.21 391.17 416.50 C392.12 415.78 393.25 415.07 394.45 415.07 Z" fill="#2a68ee"/>
<ellipse cx="393.60" cy="445.40" rx="5.40" ry="5.60" fill="#2a8ef2" transform="rotate(0 393.60 445.40)"/>
<ellipse cx="393.60" cy="445.40" rx="3.80" ry="4.00" fill="#35d7e6" transform="rotate(0 393.60 445.40)"/>
<ellipse cx="393.60" cy="445.40" rx="2.00" ry="2.20" fill="#7af0e0" transform="rotate(0 393.60 445.40)"/>
<ellipse cx="394.40" cy="422.20" rx="7.80" ry="7.40" fill="#35d7e6" transform="rotate(-25 394.40 422.20)"/>
<ellipse cx="394.40" cy="422.20" rx="6.60" ry="6.10" fill="#58e26a" transform="rotate(-25 394.40 422.20)"/>
<ellipse cx="394.40" cy="422.20" rx="5.00" ry="4.20" fill="#d8ee3c" transform="rotate(-25 394.40 422.20)"/>
<ellipse cx="394.40" cy="422.20" rx="3.70" ry="2.70" fill="#ffb02a" transform="rotate(-25 394.40 422.20)"/>
<ellipse cx="394.40" cy="422.20" rx="2.70" ry="1.40" fill="#ee2a1e" transform="rotate(-25 394.40 422.20)"/>
</g>
<line x1="362.40" y1="451.18" x2="364.20" y2="451.18" stroke="#111" stroke-width="0.6" />
<line x1="362.40" y1="449.07" x2="364.20" y2="449.07" stroke="#111" stroke-width="0.6" />
<line x1="362.40" y1="447.57" x2="364.20" y2="447.57" stroke="#111" stroke-width="0.6" />
<line x1="362.40" y1="446.41" x2="364.20" y2="446.41" stroke="#111" stroke-width="0.6" />
<line x1="362.40" y1="445.46" x2="364.20" y2="445.46" stroke="#111" stroke-width="0.6" />
<line x1="362.40" y1="444.66" x2="364.20" y2="444.66" stroke="#111" stroke-width="0.6" />
<line x1="362.40" y1="443.97" x2="364.20" y2="443.97" stroke="#111" stroke-width="0.6" />
<line x1="362.40" y1="443.35" x2="364.20" y2="443.35" stroke="#111" stroke-width="0.6" />
<line x1="362.40" y1="439.20" x2="364.20" y2="439.20" stroke="#111" stroke-width="0.6" />
<line x1="362.40" y1="437.09" x2="364.20" y2="437.09" stroke="#111" stroke-width="0.6" />
<line x1="362.40" y1="435.59" x2="364.20" y2="435.59" stroke="#111" stroke-width="0.6" />
<line x1="362.40" y1="434.43" x2="364.20" y2="434.43" stroke="#111" stroke-width="0.6" />
<line x1="362.40" y1="433.48" x2="364.20" y2="433.48" stroke="#111" stroke-width="0.6" />
<line x1="362.40" y1="432.68" x2="364.20" y2="432.68" stroke="#111" stroke-width="0.6" />
<line x1="362.40" y1="431.98" x2="364.20" y2="431.98" stroke="#111" stroke-width="0.6" />
<line x1="362.40" y1="431.37" x2="364.20" y2="431.37" stroke="#111" stroke-width="0.6" />
<line x1="362.40" y1="427.44" x2="364.20" y2="427.44" stroke="#111" stroke-width="0.6" />
<line x1="362.40" y1="425.47" x2="364.20" y2="425.47" stroke="#111" stroke-width="0.6" />
<line x1="362.40" y1="424.06" x2="364.20" y2="424.06" stroke="#111" stroke-width="0.6" />
<line x1="362.40" y1="422.98" x2="364.20" y2="422.98" stroke="#111" stroke-width="0.6" />
<line x1="362.40" y1="422.09" x2="364.20" y2="422.09" stroke="#111" stroke-width="0.6" />
<line x1="362.40" y1="421.34" x2="364.20" y2="421.34" stroke="#111" stroke-width="0.6" />
<line x1="362.40" y1="420.69" x2="364.20" y2="420.69" stroke="#111" stroke-width="0.6" />
<line x1="362.40" y1="420.11" x2="364.20" y2="420.11" stroke="#111" stroke-width="0.6" />
<line x1="361.60" y1="419.60" x2="364.20" y2="419.60" stroke="#111" stroke-width="0.8" />
<line x1="361.60" y1="430.82" x2="364.20" y2="430.82" stroke="#111" stroke-width="0.8" />
<line x1="361.60" y1="442.81" x2="364.20" y2="442.81" stroke="#111" stroke-width="0.8" />
<line x1="361.60" y1="454.79" x2="364.20" y2="454.79" stroke="#111" stroke-width="0.8" />
<line x1="361.60" y1="459.63" x2="364.20" y2="459.63" stroke="#111" stroke-width="0.8" />
<line x1="362.40" y1="460.40" x2="364.20" y2="460.40" stroke="#111" stroke-width="0.6" />
<line x1="362.40" y1="461.32" x2="364.20" y2="461.32" stroke="#111" stroke-width="0.6" />
<line x1="362.40" y1="462.24" x2="364.20" y2="462.24" stroke="#111" stroke-width="0.6" />
<line x1="362.40" y1="463.15" x2="364.20" y2="463.15" stroke="#111" stroke-width="0.6" />
<line x1="362.40" y1="464.07" x2="364.20" y2="464.07" stroke="#111" stroke-width="0.6" />
<line x1="362.40" y1="464.99" x2="364.20" y2="464.99" stroke="#111" stroke-width="0.6" />
<line x1="378.39" y1="465.50" x2="378.39" y2="467.30" stroke="#111" stroke-width="0.6" />
<line x1="380.56" y1="465.50" x2="380.56" y2="467.30" stroke="#111" stroke-width="0.6" />
<line x1="382.09" y1="465.50" x2="382.09" y2="467.30" stroke="#111" stroke-width="0.6" />
<line x1="383.29" y1="465.50" x2="383.29" y2="467.30" stroke="#111" stroke-width="0.6" />
<line x1="384.26" y1="465.50" x2="384.26" y2="467.30" stroke="#111" stroke-width="0.6" />
<line x1="385.09" y1="465.50" x2="385.09" y2="467.30" stroke="#111" stroke-width="0.6" />
<line x1="385.80" y1="465.50" x2="385.80" y2="467.30" stroke="#111" stroke-width="0.6" />
<line x1="386.43" y1="465.50" x2="386.43" y2="467.30" stroke="#111" stroke-width="0.6" />
<line x1="390.78" y1="465.50" x2="390.78" y2="467.30" stroke="#111" stroke-width="0.6" />
<line x1="392.99" y1="465.50" x2="392.99" y2="467.30" stroke="#111" stroke-width="0.6" />
<line x1="394.57" y1="465.50" x2="394.57" y2="467.30" stroke="#111" stroke-width="0.6" />
<line x1="395.78" y1="465.50" x2="395.78" y2="467.30" stroke="#111" stroke-width="0.6" />
<line x1="396.78" y1="465.50" x2="396.78" y2="467.30" stroke="#111" stroke-width="0.6" />
<line x1="397.62" y1="465.50" x2="397.62" y2="467.30" stroke="#111" stroke-width="0.6" />
<line x1="398.35" y1="465.50" x2="398.35" y2="467.30" stroke="#111" stroke-width="0.6" />
<line x1="398.99" y1="465.50" x2="398.99" y2="467.30" stroke="#111" stroke-width="0.6" />
<line x1="403.12" y1="465.50" x2="403.12" y2="467.30" stroke="#111" stroke-width="0.6" />
<line x1="405.20" y1="465.50" x2="405.20" y2="467.30" stroke="#111" stroke-width="0.6" />
<line x1="406.67" y1="465.50" x2="406.67" y2="467.30" stroke="#111" stroke-width="0.6" />
<line x1="407.81" y1="465.50" x2="407.81" y2="467.30" stroke="#111" stroke-width="0.6" />
<line x1="408.74" y1="465.50" x2="408.74" y2="467.30" stroke="#111" stroke-width="0.6" />
<line x1="409.53" y1="465.50" x2="409.53" y2="467.30" stroke="#111" stroke-width="0.6" />
<line x1="410.22" y1="465.50" x2="410.22" y2="467.30" stroke="#111" stroke-width="0.6" />
<line x1="410.82" y1="465.50" x2="410.82" y2="467.30" stroke="#111" stroke-width="0.6" />
<line x1="374.68" y1="465.50" x2="374.68" y2="468.10" stroke="#111" stroke-width="0.8" />
<line x1="386.99" y1="465.50" x2="386.99" y2="468.10" stroke="#111" stroke-width="0.8" />
<line x1="399.57" y1="465.50" x2="399.57" y2="468.10" stroke="#111" stroke-width="0.8" />
<line x1="411.36" y1="465.50" x2="411.36" y2="468.10" stroke="#111" stroke-width="0.8" />
<line x1="370.23" y1="465.50" x2="370.23" y2="468.10" stroke="#111" stroke-width="0.8" />
<line x1="364.72" y1="465.50" x2="364.72" y2="467.30" stroke="#111" stroke-width="0.6" />
<line x1="365.67" y1="465.50" x2="365.67" y2="467.30" stroke="#111" stroke-width="0.6" />
<line x1="366.61" y1="465.50" x2="366.61" y2="467.30" stroke="#111" stroke-width="0.6" />
<line x1="367.55" y1="465.50" x2="367.55" y2="467.30" stroke="#111" stroke-width="0.6" />
<line x1="368.50" y1="465.50" x2="368.50" y2="467.30" stroke="#111" stroke-width="0.6" />
<line x1="369.44" y1="465.50" x2="369.44" y2="467.30" stroke="#111" stroke-width="0.6" />
<rect x="364.20" y="414.50" width="52.40" height="51.00" fill="none" stroke="#111" stroke-width="1.1" />
<text x="358.60" y="422.10" font-size="4.9" text-anchor="end" font-weight="normal" fill="#333" >10<tspan dy="-1.8" font-size="3.2">5</tspan><tspan dy="1.8" font-size="1">&#8203;</tspan></text>
<text x="358.60" y="433.32" font-size="4.9" text-anchor="end" font-weight="normal" fill="#333" >10<tspan dy="-1.8" font-size="3.2">4</tspan><tspan dy="1.8" font-size="1">&#8203;</tspan></text>
<text x="358.60" y="445.31" font-size="4.9" text-anchor="end" font-weight="normal" fill="#333" >10<tspan dy="-1.8" font-size="3.2">3</tspan><tspan dy="1.8" font-size="1">&#8203;</tspan></text>
<text x="358.60" y="457.29" font-size="4.9" text-anchor="end" font-weight="normal" fill="#333" >10<tspan dy="-1.8" font-size="3.2">2</tspan><tspan dy="1.8" font-size="1">&#8203;</tspan></text>
<text x="357.00" y="461.83" font-size="4.9" text-anchor="end" font-weight="normal" fill="#333" >0</text>
<text x="371.23" y="474.80" font-size="4.9" text-anchor="end" font-weight="normal" fill="#333" >0</text>
<text x="375.68" y="474.80" font-size="4.9" text-anchor="middle" font-weight="normal" fill="#333" >10<tspan dy="-1.8" font-size="3.2">2</tspan><tspan dy="1.8" font-size="1">&#8203;</tspan></text>
<text x="387.49" y="474.80" font-size="4.9" text-anchor="middle" font-weight="normal" fill="#333" >10<tspan dy="-1.8" font-size="3.2">3</tspan><tspan dy="1.8" font-size="1">&#8203;</tspan></text>
<text x="400.07" y="474.80" font-size="4.9" text-anchor="middle" font-weight="normal" fill="#333" >10<tspan dy="-1.8" font-size="3.2">4</tspan><tspan dy="1.8" font-size="1">&#8203;</tspan></text>
<text x="411.86" y="474.80" font-size="4.9" text-anchor="middle" font-weight="normal" fill="#333" >10<tspan dy="-1.8" font-size="3.2">5</tspan><tspan dy="1.8" font-size="1">&#8203;</tspan></text>
<rect x="384.30" y="415.00" width="22.40" height="15.50" fill="none" stroke="#444" stroke-width="0.6" />
<text x="411.30" y="420.40" font-size="4.2" text-anchor="middle" font-weight="normal" fill="#222" stroke="#444" stroke-width="0.12">80</text>
<clipPath id="c17"><rect x="364.2" y="483.7" width="52.400000000000034" height="51.30000000000001"/></clipPath>
<g filter="url(#soft)" clip-path="url(#c17)">
<path d="M394.50 483.20 C396.08 483.10 398.15 483.57 399.50 484.20 C400.85 484.83 401.95 485.87 402.60 487.00 C403.25 488.13 403.40 489.58 403.40 491.00 C403.40 492.42 402.97 494.08 402.60 495.50 C402.23 496.92 401.33 498.17 401.20 499.50 C401.07 500.83 401.75 502.25 401.80 503.50 C401.85 504.75 401.30 505.83 401.50 507.00 C401.70 508.17 402.63 509.25 403.00 510.50 C403.37 511.75 403.73 513.17 403.70 514.50 C403.67 515.83 403.42 517.25 402.80 518.50 C402.18 519.75 401.05 520.95 400.00 522.00 C398.95 523.05 397.50 523.97 396.50 524.80 C395.50 525.63 394.75 527.05 394.00 527.00 C393.25 526.95 392.83 525.33 392.00 524.50 C391.17 523.67 389.87 523.00 389.00 522.00 C388.13 521.00 387.30 519.75 386.80 518.50 C386.30 517.25 386.00 515.83 386.00 514.50 C386.00 513.17 386.33 511.67 386.80 510.50 C387.27 509.33 388.38 508.58 388.80 507.50 C389.22 506.42 389.33 505.17 389.30 504.00 C389.27 502.83 388.98 501.75 388.60 500.50 C388.22 499.25 387.40 497.92 387.00 496.50 C386.60 495.08 386.20 493.50 386.20 492.00 C386.20 490.50 386.37 488.70 387.00 487.50 C387.63 486.30 388.75 485.52 390.00 484.80 C391.25 484.08 392.92 483.30 394.50 483.20 Z" fill="#2b35d8"/>
<path d="M394.56 484.29 C395.83 484.20 397.48 484.64 398.56 485.24 C399.64 485.84 400.52 486.83 401.04 487.90 C401.56 488.98 401.68 490.36 401.68 491.70 C401.68 493.05 401.33 494.63 401.04 495.98 C400.75 497.32 400.03 498.51 399.92 499.78 C399.81 501.04 400.36 502.39 400.40 503.58 C400.44 504.76 400.00 505.79 400.16 506.90 C400.32 508.01 401.07 509.04 401.36 510.23 C401.65 511.41 401.95 512.76 401.92 514.03 C401.89 515.29 401.69 516.64 401.20 517.83 C400.71 519.01 399.80 520.15 398.96 521.15 C398.12 522.15 396.96 523.02 396.16 523.81 C395.36 524.60 394.76 525.95 394.16 525.90 C393.56 525.85 393.23 524.32 392.56 523.53 C391.89 522.74 390.85 522.10 390.16 521.15 C389.47 520.20 388.80 519.01 388.40 517.83 C388.00 516.64 387.76 515.29 387.76 514.03 C387.76 512.76 388.03 511.34 388.40 510.23 C388.77 509.12 389.67 508.41 390.00 507.38 C390.33 506.35 390.43 505.16 390.40 504.05 C390.37 502.94 390.15 501.91 389.84 500.73 C389.53 499.54 388.88 498.27 388.56 496.93 C388.24 495.58 387.92 494.08 387.92 492.65 C387.92 491.23 388.05 489.52 388.56 488.38 C389.07 487.24 389.96 486.49 390.96 485.81 C391.96 485.13 393.29 484.39 394.56 484.29 Z" fill="#2a68ee"/>
<ellipse cx="394.20" cy="514.80" rx="7.80" ry="8.40" fill="#2a8ef2" transform="rotate(0 394.20 514.80)"/>
<ellipse cx="394.20" cy="514.80" rx="7.00" ry="7.50" fill="#35d7e6" transform="rotate(0 394.20 514.80)"/>
<ellipse cx="394.20" cy="514.80" rx="6.20" ry="6.50" fill="#58e26a" transform="rotate(0 394.20 514.80)"/>
<ellipse cx="394.20" cy="514.80" rx="3.60" ry="2.00" fill="#d8ee3c" transform="rotate(0 394.20 514.80)"/>
<ellipse cx="394.60" cy="490.00" rx="7.80" ry="7.80" fill="#35d7e6" transform="rotate(-20 394.60 490.00)"/>
<ellipse cx="394.60" cy="490.00" rx="6.90" ry="6.60" fill="#58e26a" transform="rotate(-20 394.60 490.00)"/>
<ellipse cx="394.60" cy="490.00" rx="5.40" ry="4.90" fill="#d8ee3c" transform="rotate(-20 394.60 490.00)"/>
<ellipse cx="394.60" cy="490.00" rx="4.00" ry="3.30" fill="#ffb02a" transform="rotate(-20 394.60 490.00)"/>
<ellipse cx="394.60" cy="490.00" rx="2.90" ry="2.00" fill="#ee2a1e" transform="rotate(-20 394.60 490.00)"/>
</g>
<ellipse cx="394.2" cy="514.6" rx="3.4" ry="1.2" fill="#d8ee3c" transform="rotate(30 394.2 514.6)" filter="url(#soft)"/>
<line x1="362.40" y1="520.60" x2="364.20" y2="520.60" stroke="#111" stroke-width="0.6" />
<line x1="362.40" y1="518.48" x2="364.20" y2="518.48" stroke="#111" stroke-width="0.6" />
<line x1="362.40" y1="516.97" x2="364.20" y2="516.97" stroke="#111" stroke-width="0.6" />
<line x1="362.40" y1="515.80" x2="364.20" y2="515.80" stroke="#111" stroke-width="0.6" />
<line x1="362.40" y1="514.85" x2="364.20" y2="514.85" stroke="#111" stroke-width="0.6" />
<line x1="362.40" y1="514.04" x2="364.20" y2="514.04" stroke="#111" stroke-width="0.6" />
<line x1="362.40" y1="513.34" x2="364.20" y2="513.34" stroke="#111" stroke-width="0.6" />
<line x1="362.40" y1="512.72" x2="364.20" y2="512.72" stroke="#111" stroke-width="0.6" />
<line x1="362.40" y1="508.54" x2="364.20" y2="508.54" stroke="#111" stroke-width="0.6" />
<line x1="362.40" y1="506.42" x2="364.20" y2="506.42" stroke="#111" stroke-width="0.6" />
<line x1="362.40" y1="504.91" x2="364.20" y2="504.91" stroke="#111" stroke-width="0.6" />
<line x1="362.40" y1="503.75" x2="364.20" y2="503.75" stroke="#111" stroke-width="0.6" />
<line x1="362.40" y1="502.79" x2="364.20" y2="502.79" stroke="#111" stroke-width="0.6" />
<line x1="362.40" y1="501.98" x2="364.20" y2="501.98" stroke="#111" stroke-width="0.6" />
<line x1="362.40" y1="501.28" x2="364.20" y2="501.28" stroke="#111" stroke-width="0.6" />
<line x1="362.40" y1="500.67" x2="364.20" y2="500.67" stroke="#111" stroke-width="0.6" />
<line x1="362.40" y1="496.72" x2="364.20" y2="496.72" stroke="#111" stroke-width="0.6" />
<line x1="362.40" y1="494.73" x2="364.20" y2="494.73" stroke="#111" stroke-width="0.6" />
<line x1="362.40" y1="493.32" x2="364.20" y2="493.32" stroke="#111" stroke-width="0.6" />
<line x1="362.40" y1="492.23" x2="364.20" y2="492.23" stroke="#111" stroke-width="0.6" />
<line x1="362.40" y1="491.33" x2="364.20" y2="491.33" stroke="#111" stroke-width="0.6" />
<line x1="362.40" y1="490.58" x2="364.20" y2="490.58" stroke="#111" stroke-width="0.6" />
<line x1="362.40" y1="489.92" x2="364.20" y2="489.92" stroke="#111" stroke-width="0.6" />
<line x1="362.40" y1="489.35" x2="364.20" y2="489.35" stroke="#111" stroke-width="0.6" />
<line x1="361.60" y1="488.83" x2="364.20" y2="488.83" stroke="#111" stroke-width="0.8" />
<line x1="361.60" y1="500.12" x2="364.20" y2="500.12" stroke="#111" stroke-width="0.8" />
<line x1="361.60" y1="512.17" x2="364.20" y2="512.17" stroke="#111" stroke-width="0.8" />
<line x1="361.60" y1="524.23" x2="364.20" y2="524.23" stroke="#111" stroke-width="0.8" />
<line x1="361.60" y1="529.10" x2="364.20" y2="529.10" stroke="#111" stroke-width="0.8" />
<line x1="362.40" y1="529.87" x2="364.20" y2="529.87" stroke="#111" stroke-width="0.6" />
<line x1="362.40" y1="530.79" x2="364.20" y2="530.79" stroke="#111" stroke-width="0.6" />
<line x1="362.40" y1="531.72" x2="364.20" y2="531.72" stroke="#111" stroke-width="0.6" />
<line x1="362.40" y1="532.64" x2="364.20" y2="532.64" stroke="#111" stroke-width="0.6" />
<line x1="362.40" y1="533.56" x2="364.20" y2="533.56" stroke="#111" stroke-width="0.6" />
<line x1="362.40" y1="534.49" x2="364.20" y2="534.49" stroke="#111" stroke-width="0.6" />
<line x1="378.39" y1="535.00" x2="378.39" y2="536.80" stroke="#111" stroke-width="0.6" />
<line x1="380.56" y1="535.00" x2="380.56" y2="536.80" stroke="#111" stroke-width="0.6" />
<line x1="382.09" y1="535.00" x2="382.09" y2="536.80" stroke="#111" stroke-width="0.6" />
<line x1="383.29" y1="535.00" x2="383.29" y2="536.80" stroke="#111" stroke-width="0.6" />
<line x1="384.26" y1="535.00" x2="384.26" y2="536.80" stroke="#111" stroke-width="0.6" />
<line x1="385.09" y1="535.00" x2="385.09" y2="536.80" stroke="#111" stroke-width="0.6" />
<line x1="385.80" y1="535.00" x2="385.80" y2="536.80" stroke="#111" stroke-width="0.6" />
<line x1="386.43" y1="535.00" x2="386.43" y2="536.80" stroke="#111" stroke-width="0.6" />
<line x1="390.78" y1="535.00" x2="390.78" y2="536.80" stroke="#111" stroke-width="0.6" />
<line x1="392.99" y1="535.00" x2="392.99" y2="536.80" stroke="#111" stroke-width="0.6" />
<line x1="394.57" y1="535.00" x2="394.57" y2="536.80" stroke="#111" stroke-width="0.6" />
<line x1="395.78" y1="535.00" x2="395.78" y2="536.80" stroke="#111" stroke-width="0.6" />
<line x1="396.78" y1="535.00" x2="396.78" y2="536.80" stroke="#111" stroke-width="0.6" />
<line x1="397.62" y1="535.00" x2="397.62" y2="536.80" stroke="#111" stroke-width="0.6" />
<line x1="398.35" y1="535.00" x2="398.35" y2="536.80" stroke="#111" stroke-width="0.6" />
<line x1="398.99" y1="535.00" x2="398.99" y2="536.80" stroke="#111" stroke-width="0.6" />
<line x1="403.12" y1="535.00" x2="403.12" y2="536.80" stroke="#111" stroke-width="0.6" />
<line x1="405.20" y1="535.00" x2="405.20" y2="536.80" stroke="#111" stroke-width="0.6" />
<line x1="406.67" y1="535.00" x2="406.67" y2="536.80" stroke="#111" stroke-width="0.6" />
<line x1="407.81" y1="535.00" x2="407.81" y2="536.80" stroke="#111" stroke-width="0.6" />
<line x1="408.74" y1="535.00" x2="408.74" y2="536.80" stroke="#111" stroke-width="0.6" />
<line x1="409.53" y1="535.00" x2="409.53" y2="536.80" stroke="#111" stroke-width="0.6" />
<line x1="410.22" y1="535.00" x2="410.22" y2="536.80" stroke="#111" stroke-width="0.6" />
<line x1="410.82" y1="535.00" x2="410.82" y2="536.80" stroke="#111" stroke-width="0.6" />
<line x1="374.68" y1="535.00" x2="374.68" y2="537.60" stroke="#111" stroke-width="0.8" />
<line x1="386.99" y1="535.00" x2="386.99" y2="537.60" stroke="#111" stroke-width="0.8" />
<line x1="399.57" y1="535.00" x2="399.57" y2="537.60" stroke="#111" stroke-width="0.8" />
<line x1="411.36" y1="535.00" x2="411.36" y2="537.60" stroke="#111" stroke-width="0.8" />
<line x1="370.23" y1="535.00" x2="370.23" y2="537.60" stroke="#111" stroke-width="0.8" />
<line x1="364.72" y1="535.00" x2="364.72" y2="536.80" stroke="#111" stroke-width="0.6" />
<line x1="365.67" y1="535.00" x2="365.67" y2="536.80" stroke="#111" stroke-width="0.6" />
<line x1="366.61" y1="535.00" x2="366.61" y2="536.80" stroke="#111" stroke-width="0.6" />
<line x1="367.55" y1="535.00" x2="367.55" y2="536.80" stroke="#111" stroke-width="0.6" />
<line x1="368.50" y1="535.00" x2="368.50" y2="536.80" stroke="#111" stroke-width="0.6" />
<line x1="369.44" y1="535.00" x2="369.44" y2="536.80" stroke="#111" stroke-width="0.6" />
<rect x="364.20" y="483.70" width="52.40" height="51.30" fill="none" stroke="#111" stroke-width="1.1" />
<text x="358.60" y="491.33" font-size="4.9" text-anchor="end" font-weight="normal" fill="#333" >10<tspan dy="-1.8" font-size="3.2">5</tspan><tspan dy="1.8" font-size="1">&#8203;</tspan></text>
<text x="358.60" y="502.62" font-size="4.9" text-anchor="end" font-weight="normal" fill="#333" >10<tspan dy="-1.8" font-size="3.2">4</tspan><tspan dy="1.8" font-size="1">&#8203;</tspan></text>
<text x="358.60" y="514.67" font-size="4.9" text-anchor="end" font-weight="normal" fill="#333" >10<tspan dy="-1.8" font-size="3.2">3</tspan><tspan dy="1.8" font-size="1">&#8203;</tspan></text>
<text x="358.60" y="526.73" font-size="4.9" text-anchor="end" font-weight="normal" fill="#333" >10<tspan dy="-1.8" font-size="3.2">2</tspan><tspan dy="1.8" font-size="1">&#8203;</tspan></text>
<text x="357.00" y="531.30" font-size="4.9" text-anchor="end" font-weight="normal" fill="#333" >0</text>
<text x="371.23" y="544.30" font-size="4.9" text-anchor="end" font-weight="normal" fill="#333" >0</text>
<text x="375.68" y="544.30" font-size="4.9" text-anchor="middle" font-weight="normal" fill="#333" >10<tspan dy="-1.8" font-size="3.2">2</tspan><tspan dy="1.8" font-size="1">&#8203;</tspan></text>
<text x="387.49" y="544.30" font-size="4.9" text-anchor="middle" font-weight="normal" fill="#333" >10<tspan dy="-1.8" font-size="3.2">3</tspan><tspan dy="1.8" font-size="1">&#8203;</tspan></text>
<text x="400.07" y="544.30" font-size="4.9" text-anchor="middle" font-weight="normal" fill="#333" >10<tspan dy="-1.8" font-size="3.2">4</tspan><tspan dy="1.8" font-size="1">&#8203;</tspan></text>
<text x="411.86" y="544.30" font-size="4.9" text-anchor="middle" font-weight="normal" fill="#333" >10<tspan dy="-1.8" font-size="3.2">5</tspan><tspan dy="1.8" font-size="1">&#8203;</tspan></text>
<rect x="384.30" y="485.30" width="22.40" height="14.10" fill="none" stroke="#444" stroke-width="0.6" />
<text x="411.30" y="489.70" font-size="4.2" text-anchor="middle" font-weight="normal" fill="#222" stroke="#444" stroke-width="0.12">53</text>
<rect x="297.40" y="623.20" width="12.10" height="4.50" fill="#a8002b" stroke="none" stroke-width="1" />
<line x1="303.45" y1="623.20" x2="303.45" y2="619.70" stroke="#111" stroke-width="0.8" />
<line x1="300.85" y1="619.70" x2="306.05" y2="619.70" stroke="#111" stroke-width="0.8" />
<rect x="314.70" y="588.90" width="12.10" height="38.80" fill="#2c4a7c" stroke="none" stroke-width="1" />
<line x1="320.75" y1="588.90" x2="320.75" y2="583.40" stroke="#111" stroke-width="0.8" />
<line x1="318.15" y1="583.40" x2="323.35" y2="583.40" stroke="#111" stroke-width="0.8" />
<line x1="294.30" y1="570.60" x2="294.30" y2="628.30" stroke="#111" stroke-width="1.2" />
<line x1="293.70" y1="627.70" x2="331.40" y2="627.70" stroke="#111" stroke-width="1.2" />
<line x1="291.00" y1="573.30" x2="294.30" y2="573.30" stroke="#111" stroke-width="0.9" />
<text transform="translate(288.30 575.90) scale(0.95 1)" font-size="7.2" text-anchor="end" font-weight="normal" fill="#222"  stroke="#222" stroke-width="0.1">15</text>
<line x1="291.00" y1="591.40" x2="294.30" y2="591.40" stroke="#111" stroke-width="0.9" />
<text transform="translate(288.30 594.00) scale(0.95 1)" font-size="7.2" text-anchor="end" font-weight="normal" fill="#222"  stroke="#222" stroke-width="0.1">10</text>
<line x1="291.00" y1="609.60" x2="294.30" y2="609.60" stroke="#111" stroke-width="0.9" />
<text transform="translate(288.30 612.20) scale(0.95 1)" font-size="7.2" text-anchor="end" font-weight="normal" fill="#222"  stroke="#222" stroke-width="0.1">5</text>
<line x1="291.00" y1="627.70" x2="294.30" y2="627.70" stroke="#111" stroke-width="0.9" />
<text transform="translate(288.30 630.30) scale(0.95 1)" font-size="7.2" text-anchor="end" font-weight="normal" fill="#222"  stroke="#222" stroke-width="0.1">0</text>
<line x1="303.45" y1="627.70" x2="303.45" y2="630.30" stroke="#111" stroke-width="0.9" />
<line x1="320.75" y1="627.70" x2="320.75" y2="630.30" stroke="#111" stroke-width="0.9" />
<text transform="translate(276.60 599.65) rotate(-90) scale(0.72 1)" font-size="8.7" text-anchor="middle" font-weight="normal" fill="#222" letter-spacing="0" stroke="#222" stroke-width="0.15">% Foxp3</text>
<path d="M303.20 580.70 L303.20 578.30 L321.20 578.30 L321.20 580.70" fill="none" stroke="#111" stroke-width="0.8"/>
<text x="312.20" y="580.30" font-size="8.2" text-anchor="middle" font-weight="normal" fill="#222"  stroke="#222" stroke-width="0.1">****</text>
<text transform="translate(307.65 637.10) rotate(-48) scale(0.95 1)" font-size="7.4" text-anchor="end" font-weight="normal" fill="#222"  stroke="#222" stroke-width="0.1">WT</text>
<text transform="translate(324.95 637.10) rotate(-48) scale(0.95 1)" font-size="7.4" text-anchor="end" font-weight="normal" fill="#222"  stroke="#222" stroke-width="0.1">Sirt-1<tspan dy="-2.4" font-size="4.0">-/-</tspan><tspan dy="2.4" font-size="1">&#8203;</tspan></text>
<rect x="379.80" y="580.00" width="11.40" height="47.70" fill="#a8002b" stroke="none" stroke-width="1" />
<line x1="385.50" y1="580.00" x2="385.50" y2="576.50" stroke="#111" stroke-width="0.8" />
<line x1="382.90" y1="576.50" x2="388.10" y2="576.50" stroke="#111" stroke-width="0.8" />
<rect x="396.40" y="600.00" width="11.80" height="27.70" fill="#2c4a7c" stroke="none" stroke-width="1" />
<line x1="402.30" y1="600.00" x2="402.30" y2="596.50" stroke="#111" stroke-width="0.8" />
<line x1="399.70" y1="596.50" x2="404.90" y2="596.50" stroke="#111" stroke-width="0.8" />
<line x1="377.00" y1="570.60" x2="377.00" y2="628.30" stroke="#111" stroke-width="1.2" />
<line x1="376.40" y1="627.70" x2="411.70" y2="627.70" stroke="#111" stroke-width="1.2" />
<line x1="373.70" y1="573.30" x2="377.00" y2="573.30" stroke="#111" stroke-width="0.9" />
<text transform="translate(371.00 575.90) scale(0.95 1)" font-size="7.2" text-anchor="end" font-weight="normal" fill="#222"  stroke="#222" stroke-width="0.1">100</text>
<line x1="373.70" y1="586.80" x2="377.00" y2="586.80" stroke="#111" stroke-width="0.9" />
<text transform="translate(371.00 589.40) scale(0.95 1)" font-size="7.2" text-anchor="end" font-weight="normal" fill="#222"  stroke="#222" stroke-width="0.1">75</text>
<line x1="373.70" y1="600.30" x2="377.00" y2="600.30" stroke="#111" stroke-width="0.9" />
<text transform="translate(371.00 602.90) scale(0.95 1)" font-size="7.2" text-anchor="end" font-weight="normal" fill="#222"  stroke="#222" stroke-width="0.1">50</text>
<line x1="373.70" y1="614.10" x2="377.00" y2="614.10" stroke="#111" stroke-width="0.9" />
<text transform="translate(371.00 616.70) scale(0.95 1)" font-size="7.2" text-anchor="end" font-weight="normal" fill="#222"  stroke="#222" stroke-width="0.1">25</text>
<line x1="373.70" y1="627.70" x2="377.00" y2="627.70" stroke="#111" stroke-width="0.9" />
<text transform="translate(371.00 630.30) scale(0.95 1)" font-size="7.2" text-anchor="end" font-weight="normal" fill="#222"  stroke="#222" stroke-width="0.1">0</text>
<line x1="385.50" y1="627.70" x2="385.50" y2="630.30" stroke="#111" stroke-width="0.9" />
<line x1="402.30" y1="627.70" x2="402.30" y2="630.30" stroke="#111" stroke-width="0.9" />
<text transform="translate(352.30 599.65) rotate(-90) scale(0.72 1)" font-size="8.7" text-anchor="middle" font-weight="normal" fill="#222" letter-spacing="0" stroke="#222" stroke-width="0.15">% IFN-&#947;</text>
<path d="M384.40 574.20 L384.40 571.80 L402.50 571.80 L402.50 574.20" fill="none" stroke="#111" stroke-width="0.8"/>
<text x="393.45" y="573.80" font-size="8.2" text-anchor="middle" font-weight="normal" fill="#222"  stroke="#222" stroke-width="0.1">****</text>
<text transform="translate(389.70 637.10) rotate(-48) scale(0.95 1)" font-size="7.4" text-anchor="end" font-weight="normal" fill="#222"  stroke="#222" stroke-width="0.1">WT</text>
<text transform="translate(406.50 637.10) rotate(-48) scale(0.95 1)" font-size="7.4" text-anchor="end" font-weight="normal" fill="#222"  stroke="#222" stroke-width="0.1">Sirt-1<tspan dy="-2.4" font-size="4.0">-/-</tspan><tspan dy="2.4" font-size="1">&#8203;</tspan></text>
</svg>
</body></html>
